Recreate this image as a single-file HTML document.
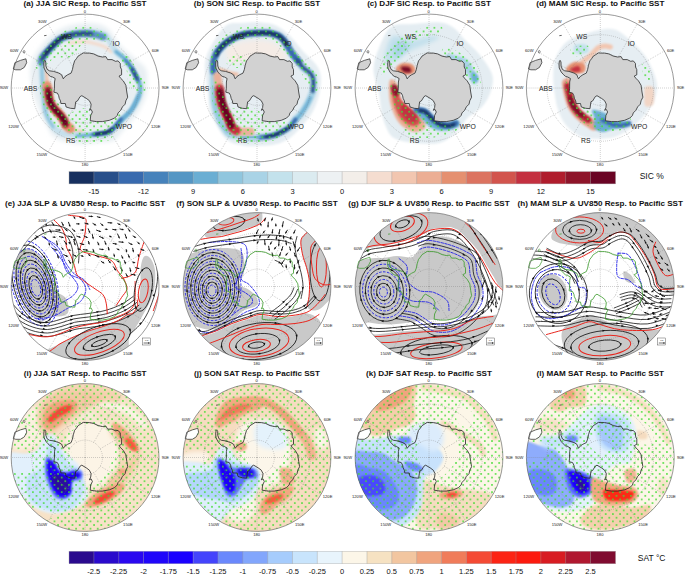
<!DOCTYPE html><html><head><meta charset="utf-8"><style>html,body{margin:0;padding:0;background:#fff;}svg{display:block;font-family:"Liberation Sans",sans-serif;}</style></head><body><svg width="685" height="574" viewBox="0 0 685 574"><defs><clipPath id="cc"><circle r="73.9"/></clipPath><filter id="b1" x="-50%" y="-50%" width="200%" height="200%"><feGaussianBlur stdDeviation="1"/></filter><filter id="b2" x="-50%" y="-50%" width="200%" height="200%"><feGaussianBlur stdDeviation="2"/></filter><filter id="b3" x="-50%" y="-50%" width="200%" height="200%"><feGaussianBlur stdDeviation="3"/></filter><pattern id="dots" patternUnits="userSpaceOnUse" width="7.2" height="7.3"><circle cx="1.8" cy="1.8" r="0.92" fill="#44dd33"/><circle cx="5.4" cy="5.45" r="0.92" fill="#44dd33"/></pattern></defs><g transform="translate(85.1,88.0)"><g clip-path="url(#cc)"><path d="M-5,-64.5 C0.1,-65.1 5.9,-65.4 10.6,-64.5 C15.3,-63.6 19.5,-62.1 23.1,-59.0 C26.8,-55.9 29.4,-49.5 32.5,-45.7 C35.6,-41.9 38.5,-39.4 41.9,-36.3 C45.3,-33.2 49.8,-29.8 52.9,-26.9 C56.0,-24.0 59.2,-22.4 60.8,-19.0 C62.4,-15.6 62.3,-10.9 62.3,-6.5 C62.3,-2.0 62.1,3.0 60.8,7.7 C59.5,12.4 56.9,17.6 54.5,21.8 C52.1,26.0 49.7,28.9 46.6,32.8 C43.5,36.7 38.8,41.9 35.7,45.3 C32.6,48.7 32.0,51.5 27.8,53.1 C23.6,54.7 16.4,54.2 10.6,54.7 C4.8,55.2 -1.2,56.6 -6.7,56.3 C-12.2,56.0 -17.9,54.7 -22.4,53.1 C-26.8,51.5 -30.8,49.5 -33.4,46.9 C-36.0,44.3 -36.3,40.9 -38.1,37.5 C-39.9,34.1 -42.6,30.2 -44.3,26.5 C-46.0,22.8 -46.8,19.7 -48.3,15.5 C-49.8,11.3 -51.9,7.0 -53.0,1.4 C-54.1,-4.2 -55.0,-12.8 -54.8,-18.0 C-54.6,-23.2 -53.8,-26.0 -52.0,-30.0 C-50.2,-34.0 -47.0,-38.2 -44.0,-42.0 C-41.0,-45.8 -38.0,-49.8 -34.0,-53.0 C-30.0,-56.2 -24.8,-59.1 -20.0,-61.0 C-15.2,-62.9 -10.1,-63.9 -5.0,-64.5 Z" fill="#e8eff3" opacity="1" filter="url(#b2)"/><path d="M-15,-45 C-12.6,-45.2 -4.7,-46.6 -0.4,-46.5 C3.9,-46.4 7.2,-45.0 10.6,-44.1 C14.0,-43.2 17.3,-42.3 19.9,-41.0 C22.5,-39.7 25.2,-37.1 26.3,-36.3" fill="none" stroke="#f3ddd0" stroke-width="3.5" stroke-linecap="round" stroke-linejoin="round" opacity="1" filter="url(#b1)"/><path d="M-40,-17.5 C-39.7,-14.9 -38.7,-6.4 -38.0,-2.0 C-37.3,2.4 -36.3,6.8 -36.0,8.6" fill="none" stroke="#f0c4ae" stroke-width="5" stroke-linecap="round" stroke-linejoin="round" opacity="1" filter="url(#b1)"/><path d="M-21,39 C-19.5,39.7 -14.9,42.2 -12.0,43.0 C-9.1,43.8 -5.0,43.6 -3.6,43.7" fill="none" stroke="#f2c9b4" stroke-width="4" stroke-linecap="round" stroke-linejoin="round" opacity="1" filter="url(#b1)"/><path d="M-43,-25 C-41.9,-29.7 -38.8,-32.9 -36.3,-36.4 C-33.8,-39.9 -30.9,-43.6 -27.9,-46.2 C-24.9,-48.9 -22.1,-50.8 -18.2,-52.3 C-14.3,-53.8 -8.9,-55.0 -4.3,-55.5 C0.3,-56.0 5.5,-56.1 9.7,-55.5 C13.9,-54.9 17.3,-55.2 20.8,-52.0 C24.3,-48.8 27.9,-40.0 30.9,-36.3 C33.9,-32.6 36.4,-32.4 38.8,-30.0 C41.2,-27.6 43.3,-24.7 45.1,-22.1 C46.9,-19.5 48.2,-17.2 49.8,-14.3 C51.4,-11.4 53.6,-7.6 54.5,-4.9 C55.4,-2.2 55.6,-0.6 55.3,2.0 C55.0,4.6 54.3,7.5 52.9,10.8 C51.5,14.1 49.0,18.7 46.6,21.8 C44.2,24.9 41.4,27.0 38.8,29.6 C36.2,32.2 33.6,34.9 31.0,37.5 C28.4,40.1 26.5,43.7 23.1,45.3 C19.7,46.9 15.6,46.6 10.6,46.9 C5.6,47.2 -1.2,47.2 -6.7,46.9 C-12.2,46.6 -18.2,46.6 -22.4,45.3 C-26.6,44.0 -28.9,42.6 -31.8,39.0 C-34.7,35.4 -37.8,31.2 -39.6,23.4 C-41.4,15.6 -42.2,0.1 -42.8,-8.0 C-43.4,-16.1 -44.1,-20.3 -43.0,-25.0 Z" fill="none" stroke="#c6e0ec" stroke-width="6" stroke-linecap="round" stroke-linejoin="round" opacity="1" filter="url(#b1)"/><path d="M-31.8,39 C-33.1,36.4 -37.8,31.2 -39.6,23.4 C-41.4,15.6 -42.2,0.1 -42.8,-8.0 C-43.4,-16.1 -43.0,-22.2 -43.0,-25.0" fill="none" stroke="#90c4de" stroke-width="3" stroke-linecap="round" stroke-linejoin="round" opacity="1" filter="url(#b1)"/><path d="M-44,-26 C-43.8,-26.9 -43.8,-29.2 -42.5,-31.2 C-41.2,-33.2 -38.3,-36.0 -36.3,-38.2 C-34.2,-40.4 -32.2,-42.5 -30.2,-44.4 C-28.2,-46.3 -26.3,-48.3 -24.1,-49.6 C-21.9,-50.9 -19.7,-51.5 -17.1,-52.2 C-14.5,-52.9 -11.2,-53.6 -8.3,-54.0 C-5.4,-54.4 -2.5,-54.5 0.4,-54.4 C3.3,-54.3 6.3,-54.2 9.2,-53.6 C12.1,-53.0 16.5,-51.4 18.0,-51.0" fill="none" stroke="#5a92c2" stroke-width="7" stroke-linecap="round" stroke-linejoin="round" opacity="1" filter="url(#b1)"/><path d="M-43,-29 C-41.9,-30.5 -38.4,-35.6 -36.3,-38.2 C-34.2,-40.8 -32.2,-42.5 -30.2,-44.4 C-28.2,-46.3 -26.3,-48.3 -24.1,-49.6 C-21.9,-50.9 -19.7,-51.5 -17.1,-52.2 C-14.5,-52.9 -11.2,-53.6 -8.3,-54.0 C-5.4,-54.4 -2.0,-54.4 0.4,-54.4 C2.8,-54.4 5.1,-54.1 6.0,-54.0" fill="none" stroke="#2a4f86" stroke-width="4" stroke-linecap="round" stroke-linejoin="round" opacity="1" filter="url(#b1)"/><path d="M-40,-34 C-39.4,-34.7 -37.9,-36.5 -36.3,-38.2 C-34.7,-39.9 -32.2,-42.5 -30.2,-44.4 C-28.2,-46.3 -26.3,-48.3 -24.1,-49.6 C-21.9,-50.9 -18.3,-51.8 -17.1,-52.2" fill="none" stroke="#142a55" stroke-width="2.6" stroke-linecap="round" stroke-linejoin="round" opacity="1" filter="url(#b1)"/><path d="M30.9,-36.3 C32.2,-35.2 36.4,-32.4 38.8,-30.0 C41.2,-27.6 43.3,-24.7 45.1,-22.1 C46.9,-19.5 48.2,-17.2 49.8,-14.3 C51.4,-11.4 53.6,-7.6 54.5,-4.9 C55.4,-2.2 55.6,-0.6 55.3,2.0 C55.0,4.6 54.3,7.5 52.9,10.8 C51.5,14.1 49.0,18.7 46.6,21.8 C44.2,24.9 41.4,27.0 38.8,29.6 C36.2,32.2 32.3,36.2 31.0,37.5" fill="none" stroke="#6aaed3" stroke-width="3.5" stroke-linecap="round" stroke-linejoin="round" opacity="1" filter="url(#b1)"/><path d="M40,-28 C40.9,-27.0 43.5,-24.4 45.1,-22.1 C46.7,-19.8 48.5,-16.8 49.8,-14.3 C51.1,-11.8 52.5,-8.2 53.0,-7.0" fill="none" stroke="#4682bb" stroke-width="3" stroke-linecap="round" stroke-linejoin="round" opacity="1" filter="url(#b1)"/><path d="M47,-19 C47.5,-18.0 49.2,-14.7 50.0,-13.0 C50.8,-11.3 51.7,-9.7 52.0,-9.0" fill="none" stroke="#284f8a" stroke-width="3" stroke-linecap="round" stroke-linejoin="round" opacity="1" filter="url(#b1)"/><path d="M53,8 C51.8,10.3 48.4,18.4 46.0,22.0 C43.6,25.6 41.3,27.0 38.8,29.6 C36.3,32.2 33.5,35.1 31.0,37.5 C28.5,39.9 26.9,42.6 23.7,44.0 C20.5,45.4 15.9,45.4 12.0,46.0 C8.1,46.6 3.3,47.2 0.0,47.5 C-3.3,47.8 -6.7,47.8 -8.0,47.8" fill="none" stroke="#6aaed3" stroke-width="3.2" stroke-linecap="round" stroke-linejoin="round" opacity="1" filter="url(#b1)"/><path d="M36,31 C35.2,32.1 33.0,35.4 31.0,37.5 C29.0,39.6 26.5,42.5 24.0,43.8 C21.5,45.1 18.7,45.0 16.0,45.5 C13.3,46.0 9.3,46.3 8.0,46.5" fill="none" stroke="#386aae" stroke-width="3.5" stroke-linecap="round" stroke-linejoin="round" opacity="1" filter="url(#b1)"/><path d="M27,41 C26.2,41.5 24.0,43.4 22.0,44.2 C20.0,45.0 16.8,45.3 15.0,45.6 C13.2,45.9 11.7,46.1 11.0,46.2" fill="none" stroke="#17305f" stroke-width="3" stroke-linecap="round" stroke-linejoin="round" opacity="1" filter="url(#b1)"/><path d="M-38,-2 C-37.8,-0.4 -37.1,4.8 -36.5,7.7 C-35.9,10.6 -35.6,13.2 -34.5,15.5 C-33.4,17.9 -31.6,19.9 -30.0,21.8 C-28.4,23.7 -26.4,25.3 -25.0,27.0 C-23.6,28.7 -22.5,30.3 -21.5,32.0 C-20.5,33.7 -20.1,35.6 -19.0,37.0 C-17.9,38.4 -15.7,39.9 -15.0,40.5" fill="none" stroke="#e59070" stroke-width="9.5" stroke-linecap="round" stroke-linejoin="round" opacity="1" filter="url(#b1)"/><path d="M-37,2 C-36.9,3.0 -36.9,5.5 -36.5,7.7 C-36.1,9.9 -35.6,13.2 -34.5,15.5 C-33.4,17.9 -31.6,19.9 -30.0,21.8 C-28.4,23.7 -26.4,25.3 -25.0,27.0 C-23.6,28.7 -22.4,30.4 -21.5,32.0 C-20.6,33.6 -19.8,35.8 -19.5,36.5" fill="none" stroke="#8e1429" stroke-width="6.5" stroke-linecap="round" stroke-linejoin="round" opacity="1" filter="url(#b1)"/><path d="M-36.5,5 C-36.4,5.6 -36.4,6.9 -36.0,8.7 C-35.6,10.4 -35.1,13.3 -34.0,15.5 C-32.9,17.7 -31.1,19.9 -29.5,21.8 C-27.9,23.7 -25.9,25.3 -24.5,27.0 C-23.1,28.7 -21.8,30.7 -21.0,32.0 C-20.2,33.3 -20.2,34.5 -20.0,35.0" fill="none" stroke="#5e0220" stroke-width="4.2" stroke-linecap="round" stroke-linejoin="round" opacity="1" filter="url(#b1)"/><path d="M-49,-20 C-49.2,-22.3 -48.8,-28.0 -47.0,-32.0 C-45.2,-36.0 -41.7,-40.2 -38.0,-44.0 C-34.3,-47.8 -30.0,-52.2 -25.0,-55.0 C-20.0,-57.8 -13.5,-60.0 -8.0,-61.0 C-2.5,-62.0 3.0,-62.3 8.0,-61.0 C13.0,-59.7 19.3,-55.5 22.0,-53.0 C24.7,-50.5 25.7,-46.8 24.0,-46.0 C22.3,-45.2 16.0,-48.0 12.0,-48.0 C8.0,-48.0 3.2,-47.5 0.0,-46.0 C-3.2,-44.5 -4.7,-41.5 -7.0,-39.0 C-9.3,-36.5 -10.2,-32.5 -14.0,-31.0 C-17.8,-29.5 -25.7,-31.5 -30.0,-30.0 C-34.3,-28.5 -37.3,-24.0 -40.0,-22.0 C-42.7,-20.0 -44.5,-18.3 -46.0,-18.0 C-47.5,-17.7 -48.8,-17.7 -49.0,-20.0 Z" fill="url(#dots)"/><path d="M36,-34 C37.3,-34.8 41.3,-33.7 44.0,-31.0 C46.7,-28.3 49.3,-22.2 52.0,-18.0 C54.7,-13.8 58.7,-9.8 60.0,-6.0 C61.3,-2.2 60.8,3.2 60.0,5.0 C59.2,6.8 57.7,6.2 55.0,5.0 C52.3,3.8 46.2,1.5 44.0,-2.0 C41.8,-5.5 43.3,-12.0 42.0,-16.0 C40.7,-20.0 37.0,-23.0 36.0,-26.0 C35.0,-29.0 34.7,-33.2 36.0,-34.0 Z" fill="url(#dots)"/><path d="M-44,-5 C-42.5,-6.8 -38.3,-8.2 -36.0,-6.0 C-33.7,-3.8 -32.7,2.8 -30.0,8.0 C-27.3,13.2 -23.7,22.7 -20.0,25.0 C-16.3,27.3 -12.0,22.8 -8.0,22.0 C-4.0,21.2 1.0,19.0 4.0,20.0 C7.0,21.0 6.3,26.7 10.0,28.0 C13.7,29.3 22.0,28.7 26.0,28.0 C30.0,27.3 32.0,24.2 34.0,24.0 C36.0,23.8 38.3,24.3 38.0,27.0 C37.7,29.7 34.3,35.8 32.0,40.0 C29.7,44.2 28.5,49.3 24.0,52.0 C19.5,54.7 10.7,55.7 5.0,56.0 C-0.7,56.3 -7.2,55.7 -10.0,54.0 C-12.8,52.3 -10.3,48.0 -12.0,46.0 C-13.7,44.0 -16.7,43.7 -20.0,42.0 C-23.3,40.3 -28.7,39.3 -32.0,36.0 C-35.3,32.7 -37.8,27.2 -40.0,22.0 C-42.2,16.8 -44.3,9.5 -45.0,5.0 C-45.7,0.5 -45.5,-3.2 -44.0,-5.0 Z" fill="url(#dots)"/></g><g stroke="#7a7a7a" stroke-width="0.5" stroke-dasharray="0.7,1.3" fill="none"><circle r="17.4"/><circle r="35.1"/><circle r="53.3"/><line x1="0.0" y1="0.0" x2="0.0" y2="-73.9"/><line x1="8.7" y1="-15.1" x2="36.9" y2="-64.0"/><line x1="15.1" y1="-8.7" x2="64.0" y2="-37.0"/><line x1="0.0" y1="0.0" x2="73.9" y2="-0.0"/><line x1="15.1" y1="8.7" x2="64.0" y2="36.9"/><line x1="8.7" y1="15.1" x2="36.9" y2="64.0"/><line x1="0.0" y1="-0.0" x2="0.0" y2="73.9"/><line x1="-8.7" y1="15.1" x2="-37.0" y2="64.0"/><line x1="-15.1" y1="8.7" x2="-64.0" y2="37.0"/><line x1="-0.0" y1="-0.0" x2="-73.9" y2="0.0"/><line x1="-15.1" y1="-8.7" x2="-64.0" y2="-37.0"/><line x1="-8.7" y1="-15.1" x2="-37.0" y2="-64.0"/></g><path d="M-40.2,-27.7 L-39.3,-26.0 L-39.2,-22.0 L-37.9,-18.6 L-35.6,-17.2 L-31.4,-16.6 L-26.2,-14.9 L-23.5,-13.2 L-21.8,-9.2 L-20.1,-11.4 L-17.5,-13.2 L-14.0,-14.9 L-12.7,-18.4 L-11.8,-22.7 L-10.5,-27.1 L-8.7,-29.3 L-7.0,-31.9 L-4.8,-33.2 L-1.8,-35.1 L0.8,-34.9 L4.3,-34.9 L8.6,-34.1 L13.0,-31.9 L17.3,-31.0 L20.8,-31.4 L22.5,-28.4 L26.9,-28.4 L30.4,-26.7 L33.0,-27.1 L35.2,-24.5 L35.2,-21.0 L36.5,-18.4 L36.5,-13.2 L33.9,-11.9 L35.6,-9.7 L38.2,-7.1 L40.8,-2.7 L41.7,4.0 L42.6,9.2 L40.8,12.7 L40.0,16.2 L37.4,18.8 L35.6,22.3 L33.0,24.9 L32.1,27.5 L29.5,30.1 L24.3,32.3 L17.3,33.6 L11.2,33.6 L5.1,32.7 L5.6,27.5 L7.3,24.0 L6.0,21.4 L4.3,22.3 L5.6,19.6 L6.0,16.2 L4.3,12.7 L1.1,10.3 L-3.3,7.7 L-5.0,8.6 L-7.6,12.9 L-9.4,13.8 L-10.3,20.7 L-14.6,20.3 L-19.0,19.0 L-19.8,15.5 L-24.2,15.5 L-24.6,12.9 L-25.9,10.3 L-26.4,7.7 L-27.7,5.1 L-31.2,4.2 L-30.7,0.7 L-30.6,-6.0 L-29.9,-9.5 L-32.6,-11.0 L-34.9,-11.7 L-37.1,-13.7 L-39.1,-16.0 L-41.1,-20.0 L-41.3,-24.0 L-40.9,-27.0 Z" fill="#d2d2d2" stroke="#222" stroke-width="0.75"/><path d="M-71.8,-19.0 L-70.2,-25.3 L-64.7,-27.6 L-59.2,-29.2 L-58.4,-25.3 L-60.8,-20.6 L-64.7,-18.2 L-69.4,-18.2 Z" fill="#d2d2d2" stroke="#222" stroke-width="0.7"/><g clip-path="url(#cc)"><g font-size="6.8" fill="#222" text-anchor="middle"><text x="-18.5" y="-48.800000000000004">WS</text><text x="31" y="-41.7">IO</text><text x="-54.5" y="2.6">ABS</text><text x="-14.5" y="54.8">RS</text><text x="38.8" y="41.0">WPO</text></g></g><ellipse cx="-61" cy="-36.2" rx="0.9" ry="1.3" fill="none" stroke="#222" stroke-width="0.5"/><line x1="-41" y1="-52.3" x2="-38.6" y2="-52.6" stroke="#222" stroke-width="0.7"/><circle r="73.9" fill="none" stroke="#555" stroke-width="0.6"/><g font-size="4.1" fill="#1a1a1a" text-anchor="middle"><text x="-0.3" y="-75.2">0</text><text x="41.5" y="-65.0">30E</text><text x="70.3" y="-36.5">60E</text><text x="80.3" y="1.2">90E</text><text x="70.6" y="40.1">120E</text><text x="42.8" y="68.0">150E</text><text x="-0.3" y="78.2">180</text><text x="-43.3" y="68.0">150W</text><text x="-71.6" y="40.1">120W</text><text x="-81.2" y="1.2">90W</text><text x="-71.0" y="-36.3">60W</text><text x="-42.8" y="-65.0">30W</text></g></g><text x="85.1" y="5.9" font-size="8.1" font-weight="bold" text-anchor="middle" fill="#111">(a) JJA SIC Resp. to Pacific SST</text><g transform="translate(257.0,88.0)"><g clip-path="url(#cc)"><path d="M-31.3,-62.3 C-26.1,-66.1 -21.1,-64.5 -15.0,-65.0 C-8.9,-65.5 -0.8,-66.0 5.0,-65.5 C10.8,-65.0 15.3,-64.2 20.0,-62.0 C24.7,-59.8 28.8,-56.0 33.0,-52.0 C37.2,-48.0 40.2,-43.6 45.0,-38.0 C49.8,-32.4 59.0,-25.5 62.0,-18.6 C65.0,-11.7 63.8,-3.6 62.8,3.4 C61.8,10.4 58.7,17.9 55.7,23.7 C52.7,29.4 48.6,33.4 44.7,37.9 C40.8,42.4 36.9,47.3 32.2,50.4 C27.5,53.5 23.0,55.4 16.5,56.7 C10.0,58.0 -2.4,58.0 -7.0,58.2 C-11.6,58.4 -8.0,58.5 -11.1,57.9 C-14.2,57.3 -21.4,56.5 -25.3,54.7 C-29.2,52.9 -32.1,50.0 -34.7,46.9 C-37.3,43.8 -38.8,39.8 -40.9,35.9 C-43.0,32.0 -45.9,28.1 -47.2,23.4 C-48.5,18.7 -48.2,13.3 -48.8,7.7 C-49.4,2.1 -50.5,-4.5 -51.0,-10.0 C-51.5,-15.4 -52.8,-19.7 -52.0,-25.0 C-51.2,-30.3 -49.5,-35.8 -46.0,-42.0 C-42.5,-48.2 -36.5,-58.5 -31.3,-62.3 Z" fill="#e6eef3" opacity="1" filter="url(#b1)"/><path d="M-30,-40 C-27.5,-43.7 -17.5,-46.0 -10.0,-47.0 C-2.5,-48.0 8.3,-48.5 15.0,-46.0 C21.7,-43.5 29.2,-35.5 30.0,-32.0 C30.8,-28.5 25.0,-25.3 20.0,-25.0 C15.0,-24.7 7.5,-30.0 0.0,-30.0 C-7.5,-30.0 -20.0,-23.3 -25.0,-25.0 C-30.0,-26.7 -32.5,-36.3 -30.0,-40.0 Z" fill="#f5ece6" opacity="1" filter="url(#b2)"/><path d="M-37.6,-18.4 C-36.0,-17.8 -30.9,-15.8 -28.0,-15.0 C-25.1,-14.2 -21.6,-13.9 -20.3,-13.7" fill="none" stroke="#efc2ac" stroke-width="4" stroke-linecap="round" stroke-linejoin="round" opacity="1" filter="url(#b1)"/><path d="M-37.6,-38.5 C-36.0,-40.4 -33.6,-43.1 -31.3,-45.0 C-28.9,-46.9 -26.4,-48.4 -23.5,-49.8 C-20.6,-51.2 -17.6,-52.6 -13.6,-53.5 C-9.6,-54.4 -3.9,-54.8 0.4,-55.0 C4.7,-55.2 8.5,-55.5 12.0,-55.0 C15.5,-54.5 19.0,-53.5 21.4,-52.3 C23.8,-51.1 25.0,-49.7 26.5,-48.0 C28.0,-46.3 29.0,-44.3 30.5,-42.0 C32.0,-39.7 33.5,-36.8 35.4,-34.1 C37.3,-31.4 40.2,-28.3 42.0,-26.0 C43.8,-23.7 44.5,-21.9 46.3,-20.2 C48.1,-18.4 51.0,-17.1 52.6,-15.5 C54.2,-13.9 55.1,-12.6 55.7,-10.8 C56.4,-9.0 56.5,-6.9 56.5,-4.5 C56.5,-2.1 56.2,1.0 55.7,3.4 C55.2,5.8 54.5,7.2 53.4,9.6 C52.3,11.9 51.1,14.6 49.4,17.5 C47.7,20.4 45.0,24.5 43.2,26.9 C41.4,29.2 40.3,29.5 38.5,31.6 C36.7,33.7 34.6,37.3 32.2,39.4 C29.9,41.5 27.0,42.8 24.4,44.1 C21.8,45.4 19.1,46.5 16.5,47.3 C13.9,48.1 11.3,48.4 8.7,48.8 C6.1,49.2 3.4,49.5 0.8,49.6 C-1.8,49.7 -5.0,49.8 -7.0,49.6 C-9.0,49.4 -8.0,48.9 -11.1,48.4 C-14.2,47.9 -22.2,47.7 -25.3,46.9 C-28.4,46.1 -27.9,46.3 -30.0,43.7 C-32.1,41.1 -35.7,35.9 -37.8,31.2 C-39.9,26.5 -41.6,20.7 -42.5,15.5 C-43.4,10.3 -43.1,5.2 -43.3,-0.2 C-43.5,-5.6 -43.5,-12.6 -43.6,-16.6 C-43.7,-20.7 -44.0,-21.6 -43.6,-24.5 C-43.2,-27.4 -42.2,-31.6 -41.2,-33.9 C-40.2,-36.2 -39.2,-36.6 -37.6,-38.5 Z" fill="none" stroke="#a9d3e6" stroke-width="7" stroke-linecap="round" stroke-linejoin="round" opacity="1" filter="url(#b1)"/><path d="M-43.6,-16.6 C-43.6,-17.9 -44.0,-21.6 -43.6,-24.5 C-43.2,-27.4 -42.2,-31.6 -41.2,-33.9 C-40.2,-36.2 -39.2,-36.6 -37.6,-38.5 C-36.0,-40.4 -33.6,-43.1 -31.3,-45.0 C-28.9,-46.9 -26.4,-48.4 -23.5,-49.8 C-20.6,-51.2 -17.6,-52.6 -13.6,-53.5 C-9.6,-54.4 -3.9,-54.8 0.4,-55.0 C4.7,-55.2 8.5,-55.5 12.0,-55.0 C15.5,-54.5 19.0,-53.5 21.4,-52.3 C23.8,-51.1 25.0,-49.7 26.5,-48.0 C28.0,-46.3 29.0,-44.3 30.5,-42.0 C32.0,-39.7 33.5,-36.8 35.4,-34.1 C37.3,-31.4 40.9,-27.4 42.0,-26.0" fill="none" stroke="#386aae" stroke-width="6" stroke-linecap="round" stroke-linejoin="round" opacity="1" filter="url(#b1)"/><path d="M-40,-33 C-39.6,-33.9 -39.1,-36.5 -37.6,-38.5 C-36.1,-40.5 -33.6,-43.1 -31.3,-45.0 C-28.9,-46.9 -26.4,-48.4 -23.5,-49.8 C-20.6,-51.2 -17.6,-52.6 -13.6,-53.5 C-9.6,-54.4 -3.9,-54.8 0.4,-55.0 C4.7,-55.2 8.5,-55.5 12.0,-55.0 C15.5,-54.5 19.0,-53.5 21.4,-52.3 C23.8,-51.1 25.1,-49.4 26.5,-48.0 C27.9,-46.6 29.0,-44.7 29.5,-44.0" fill="none" stroke="#17305f" stroke-width="3.6" stroke-linecap="round" stroke-linejoin="round" opacity="1" filter="url(#b1)"/><path d="M40,-28 C41.0,-26.7 44.2,-22.3 46.3,-20.2 C48.4,-18.1 51.0,-17.1 52.6,-15.5 C54.2,-13.9 55.1,-12.6 55.7,-10.8 C56.4,-9.0 56.5,-6.9 56.5,-4.5 C56.5,-2.1 55.8,2.1 55.7,3.4" fill="none" stroke="#284f8a" stroke-width="3.5" stroke-linecap="round" stroke-linejoin="round" opacity="1" filter="url(#b1)"/><path d="M53.4,9.6 C52.7,10.9 51.1,14.6 49.4,17.5 C47.7,20.4 45.0,24.5 43.2,26.9 C41.4,29.2 39.3,30.8 38.5,31.6" fill="none" stroke="#6aaed3" stroke-width="3" stroke-linecap="round" stroke-linejoin="round" opacity="1" filter="url(#b1)"/><path d="M38.5,31.6 C37.5,32.9 34.6,37.3 32.2,39.4 C29.9,41.5 27.0,42.8 24.4,44.1 C21.8,45.4 19.1,46.5 16.5,47.3 C13.9,48.1 10.9,48.4 8.7,48.8 C6.4,49.1 3.9,49.3 3.0,49.4" fill="none" stroke="#386aae" stroke-width="4" stroke-linecap="round" stroke-linejoin="round" opacity="1" filter="url(#b1)"/><path d="M3,49.4 C1.3,49.4 -4.0,49.7 -7.0,49.6 C-10.0,49.5 -13.7,49.1 -15.0,49.0" fill="none" stroke="#6aaed3" stroke-width="3" stroke-linecap="round" stroke-linejoin="round" opacity="1" filter="url(#b1)"/><path d="M30,40.5 C29.1,41.1 26.6,43.0 24.4,44.1 C22.1,45.2 19.1,46.5 16.5,47.3 C13.9,48.1 10.0,48.5 8.7,48.8" fill="none" stroke="#17305f" stroke-width="2.6" stroke-linecap="round" stroke-linejoin="round" opacity="1" filter="url(#b1)"/><path d="M-43.3,-0.2 C-43.2,2.4 -43.4,10.3 -42.5,15.5 C-41.6,20.7 -39.9,26.5 -37.8,31.2 C-35.7,35.9 -31.3,41.6 -30.0,43.7" fill="none" stroke="#90c6de" stroke-width="2.5" stroke-linecap="round" stroke-linejoin="round" opacity="1" filter="url(#b1)"/><path d="M-39.7,-11.9 C-39.4,-9.9 -38.2,-3.5 -37.8,-0.2 C-37.3,3.1 -37.4,5.1 -37.0,7.7 C-36.6,10.3 -36.3,12.9 -35.5,15.5 C-34.7,18.1 -33.5,20.8 -32.3,23.4 C-31.1,26.0 -29.6,28.6 -28.4,31.2 C-27.2,33.8 -26.6,37.0 -25.3,39.0 C-24.0,41.0 -22.4,42.2 -20.6,43.0 C-18.8,43.8 -16.7,43.6 -14.3,43.7 C-11.9,43.8 -7.7,43.7 -6.4,43.7" fill="none" stroke="#eab09a" stroke-width="8" stroke-linecap="round" stroke-linejoin="round" opacity="1" filter="url(#b1)"/><path d="M-37.5,1 C-37.4,2.1 -37.3,5.3 -37.0,7.7 C-36.7,10.1 -36.3,12.9 -35.5,15.5 C-34.7,18.1 -33.5,20.8 -32.3,23.4 C-31.1,26.0 -29.6,28.6 -28.4,31.2 C-27.2,33.8 -26.5,37.1 -25.3,39.0 C-24.1,40.9 -21.7,41.9 -21.0,42.5" fill="none" stroke="#c43040" stroke-width="9" stroke-linecap="round" stroke-linejoin="round" opacity="1" filter="url(#b1)"/><path d="M-36.8,4 C-36.7,4.8 -36.4,7.1 -36.0,9.0 C-35.6,10.9 -35.2,13.1 -34.5,15.5 C-33.8,17.9 -32.5,20.8 -31.5,23.4 C-30.5,26.0 -29.3,28.6 -28.4,31.0 C-27.4,33.4 -26.2,36.4 -25.8,37.5" fill="none" stroke="#6a0424" stroke-width="6.5" stroke-linecap="round" stroke-linejoin="round" opacity="1" filter="url(#b1)"/><path d="M-46,-36 C-44.7,-39.3 -42.7,-41.0 -40.0,-44.0 C-37.3,-47.0 -34.2,-51.2 -30.0,-54.0 C-25.8,-56.8 -20.0,-59.7 -15.0,-61.0 C-10.0,-62.3 -5.2,-62.0 0.0,-62.0 C5.2,-62.0 11.7,-62.7 16.0,-61.0 C20.3,-59.3 23.3,-54.8 26.0,-52.0 C28.7,-49.2 29.7,-46.7 32.0,-44.0 C34.3,-41.3 37.3,-38.7 40.0,-36.0 C42.7,-33.3 45.0,-31.0 48.0,-28.0 C51.0,-25.0 55.7,-22.3 58.0,-18.0 C60.3,-13.7 62.0,-5.7 62.0,-2.0 C62.0,1.7 60.0,4.3 58.0,4.0 C56.0,3.7 52.3,-0.7 50.0,-4.0 C47.7,-7.3 46.3,-12.3 44.0,-16.0 C41.7,-19.7 39.0,-22.3 36.0,-26.0 C33.0,-29.7 29.0,-34.7 26.0,-38.0 C23.0,-41.3 22.3,-44.0 18.0,-46.0 C13.7,-48.0 6.0,-49.8 0.0,-50.0 C-6.0,-50.2 -13.0,-48.7 -18.0,-47.0 C-23.0,-45.3 -26.3,-42.8 -30.0,-40.0 C-33.7,-37.2 -38.3,-33.7 -40.0,-30.0 C-41.7,-26.3 -39.0,-21.3 -40.0,-18.0 C-41.0,-14.7 -44.7,-9.0 -46.0,-10.0 C-47.3,-11.0 -48.0,-19.7 -48.0,-24.0 C-48.0,-28.3 -47.3,-32.7 -46.0,-36.0 Z" fill="url(#dots)"/><path d="M-44,-6 C-43.0,-10.3 -39.8,-8.3 -38.0,-6.0 C-36.2,-3.7 -35.0,3.7 -33.0,8.0 C-31.0,12.3 -29.8,18.3 -26.0,20.0 C-22.2,21.7 -14.3,17.7 -10.0,18.0 C-5.7,18.3 -3.7,20.0 0.0,22.0 C3.7,24.0 8.0,28.0 12.0,30.0 C16.0,32.0 20.7,33.7 24.0,34.0 C27.3,34.3 30.0,31.3 32.0,32.0 C34.0,32.7 36.7,35.7 36.0,38.0 C35.3,40.3 31.0,43.7 28.0,46.0 C25.0,48.3 22.7,50.3 18.0,52.0 C13.3,53.7 6.3,55.7 0.0,56.0 C-6.3,56.3 -15.0,55.3 -20.0,54.0 C-25.0,52.7 -27.0,51.0 -30.0,48.0 C-33.0,45.0 -35.7,40.7 -38.0,36.0 C-40.3,31.3 -43.0,27.0 -44.0,20.0 C-45.0,13.0 -45.0,-1.7 -44.0,-6.0 Z" fill="url(#dots)"/><path d="M-30,-30 C-28.0,-31.7 -21.3,-34.7 -18.0,-34.0 C-14.7,-33.3 -9.7,-28.3 -10.0,-26.0 C-10.3,-23.7 -16.7,-20.3 -20.0,-20.0 C-23.3,-19.7 -28.3,-22.3 -30.0,-24.0 C-31.7,-25.7 -32.0,-28.3 -30.0,-30.0 Z" fill="url(#dots)"/></g><g stroke="#7a7a7a" stroke-width="0.5" stroke-dasharray="0.7,1.3" fill="none"><circle r="17.4"/><circle r="35.1"/><circle r="53.3"/><line x1="0.0" y1="0.0" x2="0.0" y2="-73.9"/><line x1="8.7" y1="-15.1" x2="36.9" y2="-64.0"/><line x1="15.1" y1="-8.7" x2="64.0" y2="-37.0"/><line x1="0.0" y1="0.0" x2="73.9" y2="-0.0"/><line x1="15.1" y1="8.7" x2="64.0" y2="36.9"/><line x1="8.7" y1="15.1" x2="36.9" y2="64.0"/><line x1="0.0" y1="-0.0" x2="0.0" y2="73.9"/><line x1="-8.7" y1="15.1" x2="-37.0" y2="64.0"/><line x1="-15.1" y1="8.7" x2="-64.0" y2="37.0"/><line x1="-0.0" y1="-0.0" x2="-73.9" y2="0.0"/><line x1="-15.1" y1="-8.7" x2="-64.0" y2="-37.0"/><line x1="-8.7" y1="-15.1" x2="-37.0" y2="-64.0"/></g><path d="M-40.2,-27.7 L-39.3,-26.0 L-39.2,-22.0 L-37.9,-18.6 L-35.6,-17.2 L-31.4,-16.6 L-26.2,-14.9 L-23.5,-13.2 L-21.8,-9.2 L-20.1,-11.4 L-17.5,-13.2 L-14.0,-14.9 L-12.7,-18.4 L-11.8,-22.7 L-10.5,-27.1 L-8.7,-29.3 L-7.0,-31.9 L-4.8,-33.2 L-1.8,-35.1 L0.8,-34.9 L4.3,-34.9 L8.6,-34.1 L13.0,-31.9 L17.3,-31.0 L20.8,-31.4 L22.5,-28.4 L26.9,-28.4 L30.4,-26.7 L33.0,-27.1 L35.2,-24.5 L35.2,-21.0 L36.5,-18.4 L36.5,-13.2 L33.9,-11.9 L35.6,-9.7 L38.2,-7.1 L40.8,-2.7 L41.7,4.0 L42.6,9.2 L40.8,12.7 L40.0,16.2 L37.4,18.8 L35.6,22.3 L33.0,24.9 L32.1,27.5 L29.5,30.1 L24.3,32.3 L17.3,33.6 L11.2,33.6 L5.1,32.7 L5.6,27.5 L7.3,24.0 L6.0,21.4 L4.3,22.3 L5.6,19.6 L6.0,16.2 L4.3,12.7 L1.1,10.3 L-3.3,7.7 L-5.0,8.6 L-7.6,12.9 L-9.4,13.8 L-10.3,20.7 L-14.6,20.3 L-19.0,19.0 L-19.8,15.5 L-24.2,15.5 L-24.6,12.9 L-25.9,10.3 L-26.4,7.7 L-27.7,5.1 L-31.2,4.2 L-30.7,0.7 L-30.6,-6.0 L-29.9,-9.5 L-32.6,-11.0 L-34.9,-11.7 L-37.1,-13.7 L-39.1,-16.0 L-41.1,-20.0 L-41.3,-24.0 L-40.9,-27.0 Z" fill="#d2d2d2" stroke="#222" stroke-width="0.75"/><path d="M-71.8,-19.0 L-70.2,-25.3 L-64.7,-27.6 L-59.2,-29.2 L-58.4,-25.3 L-60.8,-20.6 L-64.7,-18.2 L-69.4,-18.2 Z" fill="#d2d2d2" stroke="#222" stroke-width="0.7"/><g clip-path="url(#cc)"><g font-size="6.8" fill="#222" text-anchor="middle"><text x="-18.5" y="-48.800000000000004">WS</text><text x="31" y="-41.7">IO</text><text x="-54.5" y="2.6">ABS</text><text x="-14.5" y="54.8">RS</text><text x="38.8" y="41.0">WPO</text></g></g><ellipse cx="-61" cy="-36.2" rx="0.9" ry="1.3" fill="none" stroke="#222" stroke-width="0.5"/><line x1="-41" y1="-52.3" x2="-38.6" y2="-52.6" stroke="#222" stroke-width="0.7"/><circle r="73.9" fill="none" stroke="#555" stroke-width="0.6"/><g font-size="4.1" fill="#1a1a1a" text-anchor="middle"><text x="-0.3" y="-75.2">0</text><text x="41.5" y="-65.0">30E</text><text x="70.3" y="-36.5">60E</text><text x="80.3" y="1.2">90E</text><text x="70.6" y="40.1">120E</text><text x="42.8" y="68.0">150E</text><text x="-0.3" y="78.2">180</text><text x="-43.3" y="68.0">150W</text><text x="-71.6" y="40.1">120W</text><text x="-81.2" y="1.2">90W</text><text x="-71.0" y="-36.3">60W</text><text x="-42.8" y="-65.0">30W</text></g></g><text x="257.0" y="5.9" font-size="8.1" font-weight="bold" text-anchor="middle" fill="#111">(b) SON SIC Resp. to Pacific SST</text><g transform="translate(429.0,88.0)"><g clip-path="url(#cc)"><path d="M-38.2,-60.8 C-32.6,-64.8 -24.5,-63.1 -16.3,-63.9 C-8.1,-64.7 4.1,-66.2 11.0,-65.5 C17.9,-64.8 20.8,-62.9 25.0,-60.0 C29.2,-57.1 31.8,-52.3 36.0,-48.0 C40.2,-43.7 45.5,-39.8 50.0,-34.0 C54.5,-28.2 61.2,-19.8 63.1,-13.5 C65.0,-7.2 63.2,-1.5 61.6,3.7 C60.0,8.9 57.6,13.4 53.7,17.9 C49.8,22.3 42.0,26.4 38.0,30.4 C34.0,34.4 34.5,38.0 30.0,42.0 C25.5,46.0 18.7,52.6 11.0,54.7 C3.3,56.8 -8.6,55.5 -16.3,54.7 C-24.0,53.9 -30.7,52.6 -35.1,50.0 C-39.5,47.4 -40.8,43.4 -42.9,39.0 C-45.0,34.6 -46.4,29.1 -47.6,23.4 C-48.8,17.7 -48.7,12.0 -50.0,5.0 C-51.3,-2.0 -55.5,-10.9 -55.5,-18.4 C-55.5,-25.9 -52.9,-32.9 -50.0,-40.0 C-47.1,-47.1 -43.8,-56.8 -38.2,-60.8 Z" fill="#e4edf2" opacity="1" filter="url(#b1)"/><path d="M-36,-52 C-31.3,-54.3 -22.3,-48.0 -16.0,-48.0 C-9.7,-48.0 -2.3,-51.7 2.0,-52.0 C6.3,-52.3 11.2,-51.5 10.0,-50.0 C8.8,-48.5 0.3,-45.3 -5.0,-43.0 C-10.3,-40.7 -17.5,-38.5 -22.0,-36.0 C-26.5,-33.5 -28.7,-30.0 -32.0,-28.0 C-35.3,-26.0 -40.0,-23.0 -42.0,-24.0 C-44.0,-25.0 -45.0,-29.3 -44.0,-34.0 C-43.0,-38.7 -40.7,-49.7 -36.0,-52.0 Z" fill="#c3e0ec" opacity="1" filter="url(#b2)"/><path d="M-34,-44 C-31.7,-46.3 -21.7,-45.3 -20.0,-44.0 C-18.3,-42.7 -21.7,-38.3 -24.0,-36.0 C-26.3,-33.7 -32.3,-28.7 -34.0,-30.0 C-35.7,-31.3 -36.3,-41.7 -34.0,-44.0 Z" fill="#a9d3e6" opacity="1" filter="url(#b2)"/><path d="M19.2,-33.9 C22.3,-33.9 32.4,-31.5 36.5,-29.2 C40.6,-26.9 41.9,-23.5 44.0,-20.0 C46.1,-16.5 49.0,-10.7 49.0,-8.0 C49.0,-5.3 45.8,-3.0 44.0,-4.0 C42.2,-5.0 40.3,-10.7 38.0,-14.0 C35.7,-17.3 33.3,-21.5 30.0,-24.0 C26.7,-26.5 19.8,-27.4 18.0,-29.0 C16.2,-30.6 16.1,-33.9 19.2,-33.9 Z" fill="#a9d3e6" opacity="1" filter="url(#b1)"/><path d="M43,-16 C44.0,-16.7 48.2,-13.7 49.0,-12.0 C49.8,-10.3 49.0,-6.7 48.0,-6.0 C47.0,-5.3 43.8,-6.3 43.0,-8.0 C42.2,-9.7 42.0,-15.3 43.0,-16.0 Z" fill="#6aaed3" opacity="1" filter="url(#b1)"/><path d="M-33,-20 C-32.3,-21.8 -28.8,-24.5 -26.0,-25.0 C-23.2,-25.5 -18.0,-24.5 -16.0,-23.0 C-14.0,-21.5 -13.0,-17.7 -14.0,-16.0 C-15.0,-14.3 -19.3,-13.3 -22.0,-13.0 C-24.7,-12.7 -28.2,-12.8 -30.0,-14.0 C-31.8,-15.2 -33.7,-18.2 -33.0,-20.0 Z" fill="#e59070" opacity="1" filter="url(#b1)"/><path d="M-28,-21 C-27.2,-21.8 -21.7,-21.8 -20.0,-21.0 C-18.3,-20.2 -17.2,-16.8 -18.0,-16.0 C-18.8,-15.2 -23.3,-15.2 -25.0,-16.0 C-26.7,-16.8 -28.8,-20.2 -28.0,-21.0 Z" fill="#7a0a26" opacity="1" filter="url(#b1)"/><path d="M-39,-8 C-37.8,-9.8 -34.5,-8.2 -33.0,-6.0 C-31.5,-3.8 -31.2,1.7 -30.0,5.0 C-28.8,8.3 -28.3,11.2 -26.0,14.0 C-23.7,16.8 -19.3,19.3 -16.0,22.0 C-12.7,24.7 -8.0,27.0 -6.0,30.0 C-4.0,33.0 -2.7,37.7 -4.0,40.0 C-5.3,42.3 -10.7,44.0 -14.0,44.0 C-17.3,44.0 -21.0,42.0 -24.0,40.0 C-27.0,38.0 -29.7,35.7 -32.0,32.0 C-34.3,28.3 -36.7,22.5 -38.0,18.0 C-39.3,13.5 -39.8,9.3 -40.0,5.0 C-40.2,0.7 -40.2,-6.2 -39.0,-8.0 Z" fill="#ecae94" opacity="1" filter="url(#b1)"/><path d="M-37,-2 C-36.2,-2.7 -33.3,-2.0 -32.0,0.0 C-30.7,2.0 -30.7,7.0 -29.0,10.0 C-27.3,13.0 -24.8,15.3 -22.0,18.0 C-19.2,20.7 -14.2,23.3 -12.0,26.0 C-9.8,28.7 -8.7,32.0 -9.0,34.0 C-9.3,36.0 -11.8,37.7 -14.0,38.0 C-16.2,38.3 -19.3,37.7 -22.0,36.0 C-24.7,34.3 -27.8,31.3 -30.0,28.0 C-32.2,24.7 -33.8,20.0 -35.0,16.0 C-36.2,12.0 -36.7,7.0 -37.0,4.0 C-37.3,1.0 -37.8,-1.3 -37.0,-2.0 Z" fill="#d2544d" opacity="1" filter="url(#b1)"/><path d="M-26,16 C-24.3,15.7 -20.3,20.0 -18.0,22.0 C-15.7,24.0 -12.7,26.0 -12.0,28.0 C-11.3,30.0 -12.3,33.3 -14.0,34.0 C-15.7,34.7 -19.7,33.7 -22.0,32.0 C-24.3,30.3 -27.3,26.7 -28.0,24.0 C-28.7,21.3 -27.7,16.3 -26.0,16.0 Z" fill="#c43040" opacity="1" filter="url(#b1)"/><path d="M-37,-3 C-36.2,-4.0 -33.2,-3.5 -32.0,-2.0 C-30.8,-0.5 -29.7,4.3 -30.0,6.0 C-30.3,7.7 -32.8,8.3 -34.0,8.0 C-35.2,7.7 -36.5,5.8 -37.0,4.0 C-37.5,2.2 -37.8,-2.0 -37.0,-3.0 Z" fill="#8e1429" opacity="1" filter="url(#b1)"/><path d="M-14,20 C-12.7,19.2 -7.0,19.7 -4.0,21.0 C-1.0,22.3 1.3,26.0 4.0,28.0 C6.7,30.0 9.3,32.0 12.0,33.0 C14.7,34.0 17.3,34.2 20.0,34.0 C22.7,33.8 26.3,31.3 28.0,32.0 C29.7,32.7 31.3,36.3 30.0,38.0 C28.7,39.7 23.7,41.3 20.0,42.0 C16.3,42.7 11.3,42.7 8.0,42.0 C4.7,41.3 2.3,39.7 0.0,38.0 C-2.3,36.3 -4.0,34.0 -6.0,32.0 C-8.0,30.0 -10.7,28.0 -12.0,26.0 C-13.3,24.0 -15.3,20.8 -14.0,20.0 Z" fill="#6aaed3" opacity="1" filter="url(#b1)"/><path d="M-13,21.8 C-11.4,22.1 -6.6,21.8 -3.7,23.4 C-0.9,25.0 1.6,29.1 4.1,31.2 C6.5,33.3 8.5,34.9 11.0,35.9 C13.5,36.9 16.5,37.6 19.2,37.5 C21.9,37.4 25.8,35.5 27.1,35.1" fill="none" stroke="#386aae" stroke-width="5" stroke-linecap="round" stroke-linejoin="round" opacity="1" filter="url(#b1)"/><path d="M-9,22.5 C-8.1,22.8 -5.9,22.4 -3.7,24.0 C-1.5,25.6 1.6,29.7 4.1,31.8 C6.5,33.9 8.5,35.5 11.0,36.5 C13.5,37.5 16.9,38.0 19.2,38.0 C21.5,38.0 24.0,36.8 25.0,36.5" fill="none" stroke="#17305f" stroke-width="3" stroke-linecap="round" stroke-linejoin="round" opacity="1" filter="url(#b1)"/><path d="M-48,-24 C-47.0,-27.7 -44.7,-32.0 -42.0,-36.0 C-39.3,-40.0 -36.3,-44.7 -32.0,-48.0 C-27.7,-51.3 -21.3,-53.7 -16.0,-56.0 C-10.7,-58.3 -4.7,-61.0 0.0,-62.0 C4.7,-63.0 10.0,-63.0 12.0,-62.0 C14.0,-61.0 14.0,-57.7 12.0,-56.0 C10.0,-54.3 4.7,-53.7 0.0,-52.0 C-4.7,-50.3 -11.3,-49.7 -16.0,-46.0 C-20.7,-42.3 -24.7,-34.0 -28.0,-30.0 C-31.3,-26.0 -33.3,-24.7 -36.0,-22.0 C-38.7,-19.3 -42.0,-15.3 -44.0,-14.0 C-46.0,-12.7 -47.3,-12.3 -48.0,-14.0 C-48.7,-15.7 -49.0,-20.3 -48.0,-24.0 Z" fill="url(#dots)"/><path d="M14,-40 C16.3,-41.0 25.7,-38.0 30.0,-36.0 C34.3,-34.0 37.0,-31.0 40.0,-28.0 C43.0,-25.0 46.0,-21.7 48.0,-18.0 C50.0,-14.3 52.7,-8.7 52.0,-6.0 C51.3,-3.3 46.3,-1.3 44.0,-2.0 C41.7,-2.7 40.3,-6.7 38.0,-10.0 C35.7,-13.3 33.7,-18.7 30.0,-22.0 C26.3,-25.3 18.7,-27.0 16.0,-30.0 C13.3,-33.0 11.7,-39.0 14.0,-40.0 Z" fill="url(#dots)"/><path d="M-38,-4 C-36.7,-5.7 -31.7,-4.3 -30.0,-2.0 C-28.3,0.3 -29.7,6.3 -28.0,10.0 C-26.3,13.7 -23.7,17.7 -20.0,20.0 C-16.3,22.3 -10.3,22.0 -6.0,24.0 C-1.7,26.0 1.7,29.7 6.0,32.0 C10.3,34.3 16.0,36.7 20.0,38.0 C24.0,39.3 30.0,38.7 30.0,40.0 C30.0,41.3 25.0,44.3 20.0,46.0 C15.0,47.7 6.7,49.7 0.0,50.0 C-6.7,50.3 -15.7,50.3 -20.0,48.0 C-24.3,45.7 -23.7,40.7 -26.0,36.0 C-28.3,31.3 -32.0,24.7 -34.0,20.0 C-36.0,15.3 -37.3,12.0 -38.0,8.0 C-38.7,4.0 -39.3,-2.3 -38.0,-4.0 Z" fill="url(#dots)"/></g><g stroke="#7a7a7a" stroke-width="0.5" stroke-dasharray="0.7,1.3" fill="none"><circle r="17.4"/><circle r="35.1"/><circle r="53.3"/><line x1="0.0" y1="0.0" x2="0.0" y2="-73.9"/><line x1="8.7" y1="-15.1" x2="36.9" y2="-64.0"/><line x1="15.1" y1="-8.7" x2="64.0" y2="-37.0"/><line x1="0.0" y1="0.0" x2="73.9" y2="-0.0"/><line x1="15.1" y1="8.7" x2="64.0" y2="36.9"/><line x1="8.7" y1="15.1" x2="36.9" y2="64.0"/><line x1="0.0" y1="-0.0" x2="0.0" y2="73.9"/><line x1="-8.7" y1="15.1" x2="-37.0" y2="64.0"/><line x1="-15.1" y1="8.7" x2="-64.0" y2="37.0"/><line x1="-0.0" y1="-0.0" x2="-73.9" y2="0.0"/><line x1="-15.1" y1="-8.7" x2="-64.0" y2="-37.0"/><line x1="-8.7" y1="-15.1" x2="-37.0" y2="-64.0"/></g><path d="M-40.2,-27.7 L-39.3,-26.0 L-39.2,-22.0 L-37.9,-18.6 L-35.6,-17.2 L-31.4,-16.6 L-26.2,-14.9 L-23.5,-13.2 L-21.8,-9.2 L-20.1,-11.4 L-17.5,-13.2 L-14.0,-14.9 L-12.7,-18.4 L-11.8,-22.7 L-10.5,-27.1 L-8.7,-29.3 L-7.0,-31.9 L-4.8,-33.2 L-1.8,-35.1 L0.8,-34.9 L4.3,-34.9 L8.6,-34.1 L13.0,-31.9 L17.3,-31.0 L20.8,-31.4 L22.5,-28.4 L26.9,-28.4 L30.4,-26.7 L33.0,-27.1 L35.2,-24.5 L35.2,-21.0 L36.5,-18.4 L36.5,-13.2 L33.9,-11.9 L35.6,-9.7 L38.2,-7.1 L40.8,-2.7 L41.7,4.0 L42.6,9.2 L40.8,12.7 L40.0,16.2 L37.4,18.8 L35.6,22.3 L33.0,24.9 L32.1,27.5 L29.5,30.1 L24.3,32.3 L17.3,33.6 L11.2,33.6 L5.1,32.7 L5.6,27.5 L7.3,24.0 L6.0,21.4 L4.3,22.3 L5.6,19.6 L6.0,16.2 L4.3,12.7 L1.1,10.3 L-3.3,7.7 L-5.0,8.6 L-7.6,12.9 L-9.4,13.8 L-10.3,20.7 L-14.6,20.3 L-19.0,19.0 L-19.8,15.5 L-24.2,15.5 L-24.6,12.9 L-25.9,10.3 L-26.4,7.7 L-27.7,5.1 L-31.2,4.2 L-30.7,0.7 L-30.6,-6.0 L-29.9,-9.5 L-32.6,-11.0 L-34.9,-11.7 L-37.1,-13.7 L-39.1,-16.0 L-41.1,-20.0 L-41.3,-24.0 L-40.9,-27.0 Z" fill="#d2d2d2" stroke="#222" stroke-width="0.75"/><path d="M-71.8,-19.0 L-70.2,-25.3 L-64.7,-27.6 L-59.2,-29.2 L-58.4,-25.3 L-60.8,-20.6 L-64.7,-18.2 L-69.4,-18.2 Z" fill="#d2d2d2" stroke="#222" stroke-width="0.7"/><g clip-path="url(#cc)"><g font-size="6.8" fill="#222" text-anchor="middle"><text x="-18.5" y="-48.800000000000004">WS</text><text x="31" y="-41.7">IO</text><text x="-54.5" y="2.6">ABS</text><text x="-14.5" y="54.8">RS</text><text x="38.8" y="41.0">WPO</text></g></g><ellipse cx="-61" cy="-36.2" rx="0.9" ry="1.3" fill="none" stroke="#222" stroke-width="0.5"/><line x1="-41" y1="-52.3" x2="-38.6" y2="-52.6" stroke="#222" stroke-width="0.7"/><circle r="73.9" fill="none" stroke="#555" stroke-width="0.6"/><g font-size="4.1" fill="#1a1a1a" text-anchor="middle"><text x="-0.3" y="-75.2">0</text><text x="41.5" y="-65.0">30E</text><text x="70.3" y="-36.5">60E</text><text x="80.3" y="1.2">90E</text><text x="70.6" y="40.1">120E</text><text x="42.8" y="68.0">150E</text><text x="-0.3" y="78.2">180</text><text x="-43.3" y="68.0">150W</text><text x="-71.6" y="40.1">120W</text><text x="-81.2" y="1.2">90W</text><text x="-71.0" y="-36.3">60W</text><text x="-42.8" y="-65.0">30W</text></g></g><text x="429.0" y="5.9" font-size="8.1" font-weight="bold" text-anchor="middle" fill="#111">(c) DJF SIC Resp. to Pacific SST</text><g transform="translate(600.3,88.0)"><g clip-path="url(#cc)"><path d="M-33.3,-46.6 C-28.3,-50.5 -21.6,-52.4 -14.4,-54.5 C-7.2,-56.6 3.1,-59.6 9.7,-59.2 C16.3,-58.8 19.2,-56.5 25.0,-52.0 C30.8,-47.5 39.5,-39.5 44.6,-32.3 C49.7,-25.1 53.8,-15.3 55.6,-8.8 C57.4,-2.3 56.9,1.7 55.6,6.9 C54.3,12.1 50.9,17.9 47.7,22.6 C44.6,27.3 40.5,31.5 36.7,35.1 C32.9,38.7 29.5,41.5 25.0,44.0 C20.5,46.5 16.3,49.0 9.7,50.0 C3.1,51.0 -8.3,51.0 -14.4,50.0 C-20.5,49.0 -23.3,46.3 -27.0,43.7 C-30.7,41.1 -33.8,38.2 -36.4,34.3 C-39.0,30.4 -41.1,25.2 -42.7,20.2 C-44.3,15.2 -45.1,10.2 -45.8,4.5 C-46.5,-1.2 -47.3,-8.1 -47.0,-14.0 C-46.7,-19.9 -46.5,-25.6 -44.2,-31.0 C-41.9,-36.4 -38.3,-42.7 -33.3,-46.6 Z" fill="#e6eef3" opacity="1" filter="url(#b1)"/><path d="M-25,-43 C-23.0,-44.2 -16.2,-44.2 -14.0,-43.0 C-11.8,-41.8 -11.0,-37.5 -12.0,-36.0 C-13.0,-34.5 -17.7,-34.0 -20.0,-34.0 C-22.3,-34.0 -25.2,-34.5 -26.0,-36.0 C-26.8,-37.5 -27.0,-41.8 -25.0,-43.0 Z" fill="#c3e2ec" opacity="1" filter="url(#b1)"/><path d="M-17.6,-26.3 C-16.3,-27.3 -12.3,-30.1 -9.7,-32.5 C-7.1,-34.9 -4.2,-38.8 -1.9,-40.4 C0.5,-42.0 2.4,-41.8 4.4,-41.9 C6.4,-42.0 9.1,-41.1 10.0,-41.0" fill="none" stroke="#f2c6b0" stroke-width="5" stroke-linecap="round" stroke-linejoin="round" opacity="1" filter="url(#b1)"/><path d="M-34,-20 C-33.0,-21.8 -29.0,-25.3 -26.0,-26.0 C-23.0,-26.7 -17.7,-25.7 -16.0,-24.0 C-14.3,-22.3 -14.3,-17.7 -16.0,-16.0 C-17.7,-14.3 -23.3,-14.2 -26.0,-14.0 C-28.7,-13.8 -30.7,-14.0 -32.0,-15.0 C-33.3,-16.0 -35.0,-18.2 -34.0,-20.0 Z" fill="#e59070" opacity="1" filter="url(#b1)"/><path d="M-30,-19 C-29.3,-20.0 -23.7,-22.3 -22.0,-22.0 C-20.3,-21.7 -19.3,-18.0 -20.0,-17.0 C-20.7,-16.0 -24.3,-15.7 -26.0,-16.0 C-27.7,-16.3 -30.7,-18.0 -30.0,-19.0 Z" fill="#c43040" opacity="1" filter="url(#b1)"/><path d="M45,-1 C46.5,-2.3 51.7,-2.8 53.0,0.0 C54.3,2.8 54.3,13.0 53.0,16.0 C51.7,19.0 46.5,19.3 45.0,18.0 C43.5,16.7 44.0,11.2 44.0,8.0 C44.0,4.8 43.5,0.3 45.0,-1.0 Z" fill="#f2d6c6" opacity="1" filter="url(#b1)"/><path d="M-33.3,-4.9 C-33.0,-3.3 -32.5,1.1 -31.7,4.5 C-30.9,7.9 -29.9,12.3 -28.6,15.5 C-27.3,18.6 -25.7,21.0 -23.9,23.4 C-22.1,25.8 -19.7,27.8 -17.6,29.6 C-15.5,31.4 -13.1,33.0 -11.3,34.3 C-9.5,35.6 -7.4,37.0 -6.6,37.5" fill="none" stroke="#e8a088" stroke-width="10" stroke-linecap="round" stroke-linejoin="round" opacity="1" filter="url(#b1)"/><path d="M-33,-2 C-32.8,-0.9 -32.2,1.7 -31.5,4.5 C-30.8,7.3 -29.9,11.9 -28.6,15.0 C-27.3,18.1 -25.7,20.6 -23.9,22.8 C-22.1,25.1 -19.6,27.0 -17.6,28.5 C-15.6,30.0 -12.9,31.4 -12.0,32.0" fill="none" stroke="#b01d2d" stroke-width="6" stroke-linecap="round" stroke-linejoin="round" opacity="1" filter="url(#b1)"/><path d="M-30,10 C-29.6,11.2 -28.7,14.8 -27.5,17.0 C-26.3,19.2 -24.6,21.3 -23.0,23.0 C-21.4,24.7 -18.8,26.3 -18.0,27.0" fill="none" stroke="#7a0a26" stroke-width="4" stroke-linecap="round" stroke-linejoin="round" opacity="1" filter="url(#b1)"/><path d="M-8,22 C-6.7,21.0 -1.7,22.7 2.0,24.0 C5.7,25.3 9.7,28.3 14.0,30.0 C18.3,31.7 25.3,32.7 28.0,34.0 C30.7,35.3 32.3,36.8 30.0,38.0 C27.7,39.2 18.7,40.0 14.0,41.0 C9.3,42.0 5.3,44.2 2.0,44.0 C-1.3,43.8 -4.7,42.3 -6.0,40.0 C-7.3,37.7 -5.7,33.0 -6.0,30.0 C-6.3,27.0 -9.3,23.0 -8.0,22.0 Z" fill="#6aaed3" opacity="1" filter="url(#b1)"/><path d="M2,32 C3.7,32.8 8.7,35.6 12.0,36.5 C15.3,37.4 19.2,37.7 22.0,37.5 C24.8,37.3 27.8,35.5 28.9,35.1" fill="none" stroke="#386aae" stroke-width="4" stroke-linecap="round" stroke-linejoin="round" opacity="1" filter="url(#b1)"/><path d="M-30,-38 C-29.3,-39.7 -25.0,-41.3 -22.0,-42.0 C-19.0,-42.7 -13.0,-43.3 -12.0,-42.0 C-11.0,-40.7 -13.7,-35.7 -16.0,-34.0 C-18.3,-32.3 -23.7,-31.3 -26.0,-32.0 C-28.3,-32.7 -30.7,-36.3 -30.0,-38.0 Z" fill="url(#dots)"/><path d="M-34,-6 C-33.3,-8.0 -31.3,-7.0 -30.0,-4.0 C-28.7,-1.0 -28.3,8.0 -26.0,12.0 C-23.7,16.0 -19.7,18.0 -16.0,20.0 C-12.3,22.0 -7.7,22.7 -4.0,24.0 C-0.3,25.3 2.0,26.7 6.0,28.0 C10.0,29.3 16.0,31.7 20.0,32.0 C24.0,32.3 29.0,28.7 30.0,30.0 C31.0,31.3 29.7,37.7 26.0,40.0 C22.3,42.3 13.7,44.0 8.0,44.0 C2.3,44.0 -3.3,42.0 -8.0,40.0 C-12.7,38.0 -16.7,35.0 -20.0,32.0 C-23.3,29.0 -25.7,26.0 -28.0,22.0 C-30.3,18.0 -33.0,12.7 -34.0,8.0 C-35.0,3.3 -34.7,-4.0 -34.0,-6.0 Z" fill="url(#dots)"/><path d="M42,-24 C43.0,-25.7 48.7,-22.7 50.0,-20.0 C51.3,-17.3 51.0,-9.7 50.0,-8.0 C49.0,-6.3 45.3,-7.3 44.0,-10.0 C42.7,-12.7 41.0,-22.3 42.0,-24.0 Z" fill="url(#dots)"/></g><g stroke="#7a7a7a" stroke-width="0.5" stroke-dasharray="0.7,1.3" fill="none"><circle r="17.4"/><circle r="35.1"/><circle r="53.3"/><line x1="0.0" y1="0.0" x2="0.0" y2="-73.9"/><line x1="8.7" y1="-15.1" x2="36.9" y2="-64.0"/><line x1="15.1" y1="-8.7" x2="64.0" y2="-37.0"/><line x1="0.0" y1="0.0" x2="73.9" y2="-0.0"/><line x1="15.1" y1="8.7" x2="64.0" y2="36.9"/><line x1="8.7" y1="15.1" x2="36.9" y2="64.0"/><line x1="0.0" y1="-0.0" x2="0.0" y2="73.9"/><line x1="-8.7" y1="15.1" x2="-37.0" y2="64.0"/><line x1="-15.1" y1="8.7" x2="-64.0" y2="37.0"/><line x1="-0.0" y1="-0.0" x2="-73.9" y2="0.0"/><line x1="-15.1" y1="-8.7" x2="-64.0" y2="-37.0"/><line x1="-8.7" y1="-15.1" x2="-37.0" y2="-64.0"/></g><path d="M-40.2,-27.7 L-39.3,-26.0 L-39.2,-22.0 L-37.9,-18.6 L-35.6,-17.2 L-31.4,-16.6 L-26.2,-14.9 L-23.5,-13.2 L-21.8,-9.2 L-20.1,-11.4 L-17.5,-13.2 L-14.0,-14.9 L-12.7,-18.4 L-11.8,-22.7 L-10.5,-27.1 L-8.7,-29.3 L-7.0,-31.9 L-4.8,-33.2 L-1.8,-35.1 L0.8,-34.9 L4.3,-34.9 L8.6,-34.1 L13.0,-31.9 L17.3,-31.0 L20.8,-31.4 L22.5,-28.4 L26.9,-28.4 L30.4,-26.7 L33.0,-27.1 L35.2,-24.5 L35.2,-21.0 L36.5,-18.4 L36.5,-13.2 L33.9,-11.9 L35.6,-9.7 L38.2,-7.1 L40.8,-2.7 L41.7,4.0 L42.6,9.2 L40.8,12.7 L40.0,16.2 L37.4,18.8 L35.6,22.3 L33.0,24.9 L32.1,27.5 L29.5,30.1 L24.3,32.3 L17.3,33.6 L11.2,33.6 L5.1,32.7 L5.6,27.5 L7.3,24.0 L6.0,21.4 L4.3,22.3 L5.6,19.6 L6.0,16.2 L4.3,12.7 L1.1,10.3 L-3.3,7.7 L-5.0,8.6 L-7.6,12.9 L-9.4,13.8 L-10.3,20.7 L-14.6,20.3 L-19.0,19.0 L-19.8,15.5 L-24.2,15.5 L-24.6,12.9 L-25.9,10.3 L-26.4,7.7 L-27.7,5.1 L-31.2,4.2 L-30.7,0.7 L-30.6,-6.0 L-29.9,-9.5 L-32.6,-11.0 L-34.9,-11.7 L-37.1,-13.7 L-39.1,-16.0 L-41.1,-20.0 L-41.3,-24.0 L-40.9,-27.0 Z" fill="#d2d2d2" stroke="#222" stroke-width="0.75"/><path d="M-71.8,-19.0 L-70.2,-25.3 L-64.7,-27.6 L-59.2,-29.2 L-58.4,-25.3 L-60.8,-20.6 L-64.7,-18.2 L-69.4,-18.2 Z" fill="#d2d2d2" stroke="#222" stroke-width="0.7"/><g clip-path="url(#cc)"><g font-size="6.8" fill="#222" text-anchor="middle"><text x="-18.5" y="-48.800000000000004">WS</text><text x="31" y="-41.7">IO</text><text x="-54.5" y="2.6">ABS</text><text x="-14.5" y="54.8">RS</text><text x="38.8" y="41.0">WPO</text></g></g><ellipse cx="-61" cy="-36.2" rx="0.9" ry="1.3" fill="none" stroke="#222" stroke-width="0.5"/><line x1="-41" y1="-52.3" x2="-38.6" y2="-52.6" stroke="#222" stroke-width="0.7"/><circle r="73.9" fill="none" stroke="#555" stroke-width="0.6"/><g font-size="4.1" fill="#1a1a1a" text-anchor="middle"><text x="-0.3" y="-75.2">0</text><text x="41.5" y="-65.0">30E</text><text x="70.3" y="-36.5">60E</text><text x="80.3" y="1.2">90E</text><text x="70.6" y="40.1">120E</text><text x="42.8" y="68.0">150E</text><text x="-0.3" y="78.2">180</text><text x="-43.3" y="68.0">150W</text><text x="-71.6" y="40.1">120W</text><text x="-81.2" y="1.2">90W</text><text x="-71.0" y="-36.3">60W</text><text x="-42.8" y="-65.0">30W</text></g></g><text x="600.3" y="5.9" font-size="8.1" font-weight="bold" text-anchor="middle" fill="#111">(d) MAM SIC Resp. to Pacific SST</text><g transform="translate(85.1,286.5)"><g clip-path="url(#cc)"><ellipse cx="0" cy="0" rx="18" ry="37" transform="translate(-50.5,-2) rotate(-15)" fill="#c9c9c9" opacity="1"/><path d="M-38,4 C-34.7,2.0 -27.3,6.3 -24.0,8.0 C-20.7,9.7 -19.2,11.0 -18.0,14.0 C-16.8,17.0 -15.7,23.3 -17.0,26.0 C-18.3,28.7 -22.5,29.7 -26.0,30.0 C-29.5,30.3 -35.0,29.7 -38.0,28.0 C-41.0,26.3 -44.0,24.0 -44.0,20.0 C-44.0,16.0 -41.3,6.0 -38.0,4.0 Z" fill="#c9c9c9" opacity="1"/><path d="M59,-30 C57.3,-28.3 56.1,-22.7 55.5,-18.0 C54.9,-13.3 55.8,-7.2 55.5,-2.0 C55.2,3.2 54.4,9.9 54.0,13.5 C53.6,17.1 54.0,17.1 53.0,19.3 C52.0,21.5 49.7,25.1 47.9,26.6 C46.1,28.1 44.4,26.9 42.0,28.1 C39.6,29.3 37.2,31.9 33.3,33.9 C29.4,35.8 23.6,38.1 18.7,39.8 C13.8,41.5 9.0,42.5 4.1,44.2 C-0.8,45.9 -5.6,47.8 -10.5,50.0 C-15.4,52.2 -21.0,55.3 -25.1,57.3 C-29.2,59.3 -31.7,60.2 -35.0,62.0 C-38.3,63.8 -42.5,65.0 -45.0,68.0 C-47.5,71.0 -57.5,77.0 -50.0,80.0 C-42.5,83.0 -15.0,86.0 0.0,86.0 C15.0,86.0 32.7,85.7 40.0,80.0 C47.3,74.3 42.3,58.3 44.0,52.0 C45.7,45.7 47.8,45.7 50.0,42.0 C52.2,38.3 54.7,34.2 57.0,30.0 C59.3,25.8 62.0,21.5 64.0,17.0 C66.0,12.5 68.0,8.4 69.0,3.0 C70.0,-2.4 70.6,-10.4 70.0,-15.6 C69.4,-20.8 67.3,-25.6 65.5,-28.0 C63.7,-30.4 60.7,-31.7 59.0,-30.0 Z" fill="#c9c9c9"/></g><g stroke="#7a7a7a" stroke-width="0.5" stroke-dasharray="0.7,1.3" fill="none"><circle r="17.4"/><circle r="35.1"/><circle r="53.3"/><line x1="0.0" y1="0.0" x2="0.0" y2="-73.9"/><line x1="8.7" y1="-15.1" x2="36.9" y2="-64.0"/><line x1="15.1" y1="-8.7" x2="64.0" y2="-37.0"/><line x1="0.0" y1="0.0" x2="73.9" y2="-0.0"/><line x1="15.1" y1="8.7" x2="64.0" y2="36.9"/><line x1="8.7" y1="15.1" x2="36.9" y2="64.0"/><line x1="0.0" y1="-0.0" x2="0.0" y2="73.9"/><line x1="-8.7" y1="15.1" x2="-37.0" y2="64.0"/><line x1="-15.1" y1="8.7" x2="-64.0" y2="37.0"/><line x1="-0.0" y1="-0.0" x2="-73.9" y2="0.0"/><line x1="-15.1" y1="-8.7" x2="-64.0" y2="-37.0"/><line x1="-8.7" y1="-15.1" x2="-37.0" y2="-64.0"/></g><g clip-path="url(#cc)"><ellipse rx="4.5" ry="8.5" transform="translate(-49.2,1.2) rotate(-15)" fill="none" stroke="#1f1fe6" stroke-width="0.9" stroke-dasharray="2.6,1.4"/><ellipse rx="6.3" ry="12.0" transform="translate(-49.38,0.7799999999999999) rotate(-15)" fill="none" stroke="#111" stroke-width="0.8"/><path d="M-42.5,5.3 L-43.7,2.5 L-41.6,2.4 Z" fill="#111"/><path d="M-48.4,12.7 L-45.7,11.2 L-45.4,13.4 Z" fill="#111"/><path d="M-55.2,3.6 L-53.1,5.8 L-55.1,6.7 Z" fill="#111"/><path d="M-54.5,-9.8 L-54.7,-6.7 L-56.7,-7.6 Z" fill="#111"/><path d="M-46.6,-8.0 L-49.4,-9.1 L-48.0,-10.7 Z" fill="#111"/><ellipse rx="8.1" ry="15.5" transform="translate(-49.56,0.3599999999999999) rotate(-15)" fill="none" stroke="#1f1fe6" stroke-width="0.9" stroke-dasharray="2.6,1.4"/><ellipse rx="9.899999999999999" ry="19.0" transform="translate(-49.74,-0.06000000000000005) rotate(-15)" fill="none" stroke="#111" stroke-width="0.8"/><path d="M-40.0,13.2 L-40.4,10.1 L-38.3,10.6 Z" fill="#111"/><path d="M-48.0,18.5 L-45.1,17.4 L-45.1,19.5 Z" fill="#111"/><path d="M-56.4,10.0 L-53.9,11.9 L-55.8,13.0 Z" fill="#111"/><path d="M-60.5,-5.9 L-59.3,-3.1 L-61.4,-3.0 Z" fill="#111"/><path d="M-56.1,-18.0 L-57.3,-15.2 L-58.9,-16.7 Z" fill="#111"/><path d="M-47.1,-15.7 L-50.1,-16.6 L-48.8,-18.3 Z" fill="#111"/><path d="M-40.1,-2.5 L-42.0,-5.0 L-40.0,-5.6 Z" fill="#111"/><ellipse rx="11.7" ry="22.5" transform="translate(-49.92,-0.4800000000000002) rotate(-15)" fill="none" stroke="#1f1fe6" stroke-width="0.9" stroke-dasharray="2.6,1.4"/><ellipse rx="13.5" ry="26.0" transform="translate(-50.1,-0.9000000000000001) rotate(-15)" fill="none" stroke="#111" stroke-width="0.8"/><path d="M-38.6,20.7 L-38.2,17.7 L-36.3,18.6 Z" fill="#111"/><path d="M-47.5,24.3 L-44.6,23.4 L-44.7,25.6 Z" fill="#111"/><path d="M-56.9,16.5 L-54.2,18.1 L-55.9,19.4 Z" fill="#111"/><path d="M-63.6,0.9 L-61.8,3.4 L-63.9,3.9 Z" fill="#111"/><path d="M-64.1,-16.1 L-63.5,-13.1 L-65.6,-13.5 Z" fill="#111"/><path d="M-57.5,-26.0 L-59.3,-23.5 L-60.5,-25.3 Z" fill="#111"/><path d="M-47.9,-23.4 L-50.9,-24.1 L-49.7,-25.9 Z" fill="#111"/><path d="M-39.4,-11.2 L-41.6,-13.3 L-39.6,-14.2 Z" fill="#111"/><path d="M-35.4,6.2 L-36.7,3.4 L-34.5,3.2 Z" fill="#111"/><ellipse rx="15.299999999999999" ry="29.5" transform="translate(-50.28,-1.32) rotate(-15)" fill="none" stroke="#1f1fe6" stroke-width="0.9" stroke-dasharray="2.6,1.4"/><ellipse rx="17.1" ry="33.0" transform="translate(-50.46,-1.74) rotate(-15)" fill="none" stroke="#111" stroke-width="0.8"/><path d="M-37.6,27.8 L-36.7,24.8 L-35.0,26.2 Z" fill="#111"/><path d="M-47.2,30.2 L-44.2,29.4 L-44.4,31.6 Z" fill="#111"/><path d="M-57.1,22.9 L-54.3,24.3 L-55.9,25.7 Z" fill="#111"/><path d="M-65.3,8.1 L-63.2,10.4 L-65.2,11.2 Z" fill="#111"/><path d="M-69.0,-10.1 L-67.7,-7.3 L-69.9,-7.1 Z" fill="#111"/><path d="M-66.7,-26.0 L-66.6,-22.9 L-68.7,-23.6 Z" fill="#111"/><path d="M-58.7,-33.9 L-60.9,-31.7 L-61.8,-33.7 Z" fill="#111"/><path d="M-48.8,-31.1 L-51.8,-31.6 L-50.7,-33.5 Z" fill="#111"/><path d="M-39.3,-19.7 L-41.8,-21.6 L-39.9,-22.8 Z" fill="#111"/><path d="M-33.1,-2.6 L-34.8,-5.1 L-32.7,-5.6 Z" fill="#111"/><path d="M-32.3,15.2 L-33.0,12.2 L-30.9,12.4 Z" fill="#111"/><ellipse rx="18.9" ry="36.5" transform="translate(-50.64,-2.16) rotate(-15)" fill="none" stroke="#1f1fe6" stroke-width="0.9" stroke-dasharray="2.6,1.4"/><ellipse rx="20.7" ry="40.0" transform="translate(-50.82,-2.58) rotate(-15)" fill="none" stroke="#111" stroke-width="0.8"/><path d="M-36.9,34.5 L-35.5,31.8 L-34.1,33.4 Z" fill="#111"/><path d="M-46.8,36.0 L-43.8,35.4 L-44.1,37.5 Z" fill="#111"/><path d="M-57.1,29.2 L-54.3,30.4 L-55.8,31.9 Z" fill="#111"/><path d="M-66.2,15.3 L-64.0,17.4 L-65.9,18.4 Z" fill="#111"/><path d="M-72.1,-2.7 L-70.4,-0.1 L-72.5,0.3 Z" fill="#111"/><path d="M-73.1,-21.1 L-72.2,-18.1 L-74.4,-18.3 Z" fill="#111"/><path d="M-68.7,-35.3 L-69.1,-32.3 L-71.0,-33.3 Z" fill="#111"/><path d="M-59.9,-41.6 L-62.4,-39.7 L-63.0,-41.8 Z" fill="#111"/><path d="M-49.7,-38.7 L-52.7,-39.2 L-51.7,-41.1 Z" fill="#111"/><path d="M-39.7,-28.2 L-42.2,-29.9 L-40.5,-31.1 Z" fill="#111"/><path d="M-31.9,-11.8 L-33.9,-14.1 L-31.9,-14.8 Z" fill="#111"/><path d="M-28.4,7.0 L-29.7,4.2 L-27.5,4.0 Z" fill="#111"/><path d="M-30.1,23.8 L-30.4,20.8 L-28.3,21.3 Z" fill="#111"/><ellipse rx="22.5" ry="43.5" transform="translate(-51.0,-3.0) rotate(-15)" fill="none" stroke="#1f1fe6" stroke-width="0.9" stroke-dasharray="2.6,1.4"/><path d="M-40.4,-48.7 C-38.0,-46.3 -29.6,-39.9 -25.8,-34.1 C-22.0,-28.4 -21.3,-18.7 -17.8,-14.2 C-14.3,-9.7 -7.7,-10.0 -4.6,-7.1 C-1.5,-4.2 0.7,-0.7 0.7,3.0 C0.7,6.7 -1.5,11.7 -4.6,14.9 C-7.7,18.1 -13.2,19.5 -17.8,22.0 C-22.4,24.5 -27.3,28.3 -32.4,30.0 C-37.5,31.7 -45.6,31.8 -48.3,32.1" fill="none" stroke="#1f1fe6" stroke-width="0.9" stroke-dasharray="2.6,1.4" stroke-linecap="round"/><path d="M-33.7,-39.4 C-31.9,-37.2 -26.2,-30.6 -23.1,-26.2 C-20.0,-21.8 -17.8,-17.1 -15.2,-12.9 C-12.6,-8.7 -8.0,-4.5 -7.3,-1.0 C-6.6,2.5 -8.6,5.4 -11.2,8.3 C-13.8,11.2 -19.1,13.6 -23.1,16.2 C-27.1,18.8 -33.1,22.4 -35.1,23.6" fill="none" stroke="#1f1fe6" stroke-width="0.9" stroke-dasharray="2.6,1.4" stroke-linecap="round"/><path d="M-43.0,-50.0 C-40.4,-48.2 -31.1,-43.8 -27.1,-39.4 C-23.1,-35.0 -21.9,-27.9 -19.2,-23.5 C-16.5,-19.1 -14.3,-15.8 -11.2,-12.9 C-8.1,-10.0 -3.2,-8.9 -0.6,-6.3 C2.0,-3.6 3.8,1.4 4.7,3.0" fill="none" stroke="#1f1fe6" stroke-width="0.9" stroke-dasharray="2.6,1.4" stroke-linecap="round"/><path d="M-72.0,18.0 C-70.3,19.7 -65.7,25.3 -62.0,28.0 C-58.3,30.7 -54.0,32.7 -50.0,34.0 C-46.0,35.3 -42.2,36.2 -38.0,36.0 C-33.8,35.8 -29.3,34.2 -25.0,33.0 C-20.7,31.8 -16.7,30.0 -12.0,29.0 C-7.3,28.0 -2.3,27.8 3.0,27.0 C8.3,26.2 14.5,25.5 20.0,24.0 C25.5,22.5 31.3,20.3 36.0,18.0 C40.7,15.7 46.0,11.3 48.0,10.0" fill="none" stroke="#111" stroke-width="0.8" stroke-linecap="round"/><path d="M-61.5,28.5 L-64.3,27.2 L-62.8,25.7 Z" fill="#111"/><path d="M-36.8,36.2 L-39.8,36.8 L-39.4,34.7 Z" fill="#111"/><path d="M-11.6,28.9 L-14.0,30.8 L-14.7,28.7 Z" fill="#111"/><path d="M14.2,25.0 L11.6,26.6 L11.2,24.5 Z" fill="#111"/><path d="M38.6,16.2 L36.8,18.7 L35.6,16.9 Z" fill="#111"/><path d="M-74.47487373415292,20.474873734152915 C-72.7,22.2 -68.0,28.0 -64.1,30.8 C-60.2,33.6 -55.5,35.9 -51.1,37.3 C-46.7,38.8 -42.4,39.7 -37.9,39.5 C-33.4,39.3 -28.5,37.6 -24.1,36.4 C-19.7,35.2 -15.9,33.4 -11.3,32.4 C-6.7,31.4 -1.8,31.3 3.5,30.5 C8.9,29.6 15.3,28.9 20.9,27.4 C26.6,25.8 32.7,23.5 37.6,21.1 C42.4,18.7 47.9,14.3 49.9,12.9" fill="none" stroke="#111" stroke-width="0.8" stroke-linecap="round"/><path d="M-63.6,31.3 L-66.4,30.0 L-64.9,28.5 Z" fill="#111"/><path d="M-38.0,39.5 L-41.1,40.1 L-40.7,37.9 Z" fill="#111"/><path d="M-11.9,32.6 L-14.3,34.5 L-15.0,32.4 Z" fill="#111"/><path d="M14.8,28.5 L12.2,30.0 L11.8,27.9 Z" fill="#111"/><path d="M40.2,19.4 L38.4,21.9 L37.2,20.1 Z" fill="#111"/><path d="M-76.94974746830583,22.94974746830583 C-75.1,24.7 -70.2,30.7 -66.1,33.7 C-62.0,36.6 -56.9,39.1 -52.2,40.6 C-47.5,42.2 -42.6,43.1 -37.7,43.0 C-32.9,42.8 -27.7,41.0 -23.2,39.8 C-18.6,38.6 -15.1,36.8 -10.5,35.8 C-6.0,34.9 -1.3,34.8 4.1,33.9 C9.5,33.1 16.0,32.4 21.8,30.8 C27.7,29.1 34.1,26.7 39.1,24.3 C44.1,21.8 49.8,17.2 51.9,15.8" fill="none" stroke="#111" stroke-width="0.8" stroke-linecap="round"/><path d="M-65.7,34.1 L-68.5,32.8 L-67.0,31.3 Z" fill="#111"/><path d="M-39.3,42.7 L-42.3,43.3 L-42.0,41.2 Z" fill="#111"/><path d="M-12.2,36.4 L-14.6,38.2 L-15.3,36.2 Z" fill="#111"/><path d="M15.5,31.9 L12.8,33.5 L12.4,31.3 Z" fill="#111"/><path d="M41.7,22.6 L39.9,25.1 L38.7,23.3 Z" fill="#111"/><path d="M-79.42462120245875,25.42462120245875 C-77.5,27.3 -72.5,33.4 -68.2,36.5 C-63.8,39.6 -58.4,42.3 -53.3,44.0 C-48.2,45.6 -42.8,46.6 -37.6,46.5 C-32.4,46.4 -26.9,44.3 -22.3,43.1 C-17.6,41.9 -14.3,40.2 -9.8,39.3 C-5.3,38.3 -0.8,38.2 4.6,37.4 C10.0,36.5 16.8,35.8 22.8,34.1 C28.8,32.5 35.5,30.0 40.7,27.4 C45.9,24.8 51.6,20.2 53.8,18.7" fill="none" stroke="#111" stroke-width="0.8" stroke-linecap="round"/><path d="M-67.8,36.9 L-70.6,35.6 L-69.1,34.1 Z" fill="#111"/><path d="M-40.6,46.0 L-43.6,46.6 L-43.3,44.5 Z" fill="#111"/><path d="M-12.5,40.1 L-14.9,42.0 L-15.6,39.9 Z" fill="#111"/><path d="M16.1,35.3 L13.4,36.9 L13.0,34.8 Z" fill="#111"/><path d="M43.2,25.7 L41.4,28.2 L40.2,26.4 Z" fill="#111"/><path d="M-81.89949493661166,27.899494936611664 C-80.0,29.8 -74.8,36.1 -70.2,39.3 C-65.7,42.6 -59.9,45.5 -54.4,47.3 C-49.0,49.1 -43.0,50.1 -37.4,50.0 C-31.9,49.9 -26.1,47.7 -21.4,46.5 C-16.6,45.3 -13.5,43.6 -9.1,42.7 C-4.6,41.7 -0.3,41.7 5.2,40.8 C10.6,40.0 17.5,39.2 23.7,37.5 C29.9,35.8 36.9,33.2 42.3,30.5 C47.6,27.9 53.5,23.1 55.8,21.6" fill="none" stroke="#111" stroke-width="0.8" stroke-linecap="round"/><path d="M-69.9,39.6 L-72.7,38.4 L-71.2,36.8 Z" fill="#111"/><path d="M-41.9,49.3 L-44.9,49.9 L-44.6,47.8 Z" fill="#111"/><path d="M-12.8,43.8 L-15.2,45.7 L-15.9,43.7 Z" fill="#111"/><path d="M16.7,38.8 L14.0,40.3 L13.7,38.2 Z" fill="#111"/><path d="M44.8,28.9 L42.9,31.4 L41.8,29.6 Z" fill="#111"/><path d="M-56.2,47.9 C-54.3,48.2 -48.5,49.6 -45.0,50.0 C-41.5,50.4 -38.6,50.5 -35.3,50.0 C-32.0,49.5 -29.2,48.6 -25.1,47.1 C-21.0,45.6 -15.4,42.7 -10.5,41.2 C-5.6,39.7 -0.9,39.0 4.0,38.0 C8.9,37.0 14.4,36.6 18.7,35.4 C23.0,34.2 26.4,32.5 30.0,31.0 C33.6,29.5 37.6,28.4 40.6,26.6 C43.6,24.8 46.4,22.8 48.0,20.0 C49.6,17.2 49.7,14.2 50.0,10.0 C50.3,5.8 50.0,-2.5 50.0,-5.0" fill="none" stroke="#e8261e" stroke-width="1.0" stroke-linecap="round"/><path d="M-40,68 C-38.3,66.8 -32.5,62.8 -30.0,61.0 C-27.5,59.2 -28.4,59.1 -25.1,57.3 C-21.9,55.5 -15.4,52.2 -10.5,50.0 C-5.6,47.8 -0.8,45.9 4.1,44.2 C9.0,42.5 13.8,41.5 18.7,39.8 C23.6,38.1 29.4,35.8 33.3,33.9 C37.2,31.9 39.6,29.3 42.0,28.1 C44.4,26.9 46.2,28.1 47.9,26.6 C49.6,25.1 51.6,21.5 52.3,19.3 C53.0,17.1 52.3,14.5 52.3,13.5" fill="none" stroke="#e8261e" stroke-width="1.0" stroke-linecap="round"/><ellipse rx="26.3" ry="10" transform="translate(14.3,55.8) rotate(-20)" fill="none" stroke="#e8261e" stroke-width="1.0"/><ellipse rx="17" ry="6" transform="translate(14.3,56) rotate(-20)" fill="none" stroke="#111" stroke-width="0.8"/><path d="M30.9,51.9 L28.9,49.5 L30.9,48.8 Z" fill="#111"/><path d="M14.7,62.3 L17.0,60.3 L17.7,62.3 Z" fill="#111"/><path d="M-2.3,60.1 L-0.3,62.5 L-2.3,63.2 Z" fill="#111"/><path d="M13.9,49.7 L11.6,51.7 L10.9,49.7 Z" fill="#111"/><ellipse rx="8" ry="2.5" transform="translate(14.3,56.5) rotate(-20)" fill="none" stroke="#111" stroke-width="0.8"/><path d="M22.4,55.5 L20.4,53.1 L22.5,52.4 Z" fill="#111"/><path d="M6.2,57.5 L8.2,59.9 L6.1,60.6 Z" fill="#111"/><ellipse rx="34" ry="14.5" transform="translate(13,55) rotate(-20)" fill="none" stroke="#111" stroke-width="0.8"/><path d="M45.6,45.1 L43.6,42.7 L45.6,42.0 Z" fill="#111"/><path d="M26.0,65.2 L28.0,62.9 L29.0,64.8 Z" fill="#111"/><path d="M-11.7,72.1 L-8.7,71.5 L-9.1,73.7 Z" fill="#111"/><path d="M-14.6,55.0 L-15.6,57.9 L-17.3,56.5 Z" fill="#111"/><path d="M19.9,38.1 L17.3,39.7 L16.9,37.6 Z" fill="#111"/><ellipse rx="4.6" ry="12" transform="translate(58.2,4.3) rotate(10)" fill="none" stroke="#e8261e" stroke-width="1.0"/><ellipse rx="8.5" ry="22" transform="translate(58.2,3.0) rotate(10)" fill="none" stroke="#111" stroke-width="0.8"/><path d="M66.3,6.2 L65.7,3.2 L67.8,3.6 Z" fill="#111"/><path d="M50.0,19.4 L52.1,21.6 L50.2,22.4 Z" fill="#111"/><path d="M58.6,-17.8 L57.4,-15.0 L55.8,-16.5 Z" fill="#111"/><path d="M44.4,48.0 C46.6,45.8 53.9,40.1 57.6,34.8 C61.4,29.5 64.5,22.8 66.9,16.2 C69.3,9.6 71.5,1.6 72.2,-5.0 C72.9,-11.6 72.2,-18.2 70.9,-23.5 C69.6,-28.8 65.4,-34.6 64.3,-36.8" fill="none" stroke="#111" stroke-width="0.8" stroke-linecap="round"/><path d="M56.8,35.6 L55.6,38.4 L54.0,36.8 Z" fill="#111"/><path d="M69.3,6.8 L69.6,9.9 L67.5,9.3 Z" fill="#111"/><path d="M70.8,-24.4 L72.1,-21.6 L70.0,-21.4 Z" fill="#111"/><path d="M68.2,24.2 C69.3,20.7 73.8,9.6 74.9,3.0 C76.0,-3.6 74.9,-12.5 74.9,-15.6" fill="none" stroke="#e8261e" stroke-width="1.0" stroke-linecap="round"/><path d="M-31.1,-66.4 C-29.8,-65.0 -25.1,-61.2 -23.1,-58.0 C-21.1,-54.8 -19.9,-50.5 -19.2,-47.4 C-18.4,-44.3 -19.5,-42.3 -18.6,-39.4 C-17.7,-36.5 -15.2,-33.2 -13.9,-30.1 C-12.6,-27.0 -11.7,-24.0 -10.7,-20.9 C-9.7,-17.8 -9.7,-14.2 -8.0,-11.6 C-6.3,-8.9 -3.6,-7.3 -0.6,-5.0 C2.4,-2.7 6.9,0.2 10.0,2.4 C13.1,4.6 16.0,5.9 17.9,8.3 C19.8,10.7 20.4,13.5 21.1,16.7 C21.8,19.9 22.0,25.5 22.2,27.3" fill="none" stroke="#e8261e" stroke-width="1.0" stroke-linecap="round"/><path d="M-16.5,-71.2 C-13.8,-70.8 -3.5,-70.4 -0.6,-68.6 C2.3,-66.8 0.7,-63.7 0.7,-60.6 C0.7,-57.5 0.3,-54.0 -0.6,-50.0 C-1.5,-46.0 -5.9,-39.8 -4.6,-36.8 C-3.3,-33.8 2.2,-33.8 7.3,-32.0 C12.4,-30.2 21.7,-28.9 25.9,-26.2 C30.1,-23.5 30.5,-18.5 32.5,-15.6 C34.5,-12.7 36.5,-11.0 37.8,-9.0 C39.1,-7.0 39.7,-5.7 40.4,-3.7 C41.1,-1.7 42.4,0.6 41.8,3.0 C41.1,5.4 38.3,8.2 36.5,10.9 C34.7,13.6 32.1,17.6 31.2,18.9" fill="none" stroke="#e8261e" stroke-width="1.0" stroke-linecap="round"/><path d="M59.0,-44.7 C58.1,-42.1 55.0,-33.6 53.7,-28.8 C52.4,-23.9 52.5,-18.7 51.0,-15.6 C49.5,-12.5 46.8,-11.5 44.4,-10.3 C42.0,-9.1 37.8,-8.5 36.5,-8.2" fill="none" stroke="#e8261e" stroke-width="1.0" stroke-linecap="round"/><path d="M-68.45862033082881,-38.32660062909326 C-66.1,-40.6 -60.0,-48.4 -54.5,-52.2 C-49.1,-56.1 -42.4,-60.6 -35.8,-61.3 C-29.3,-61.9 -20.2,-59.8 -15.4,-55.9 C-10.5,-52.1 -8.2,-43.6 -6.8,-38.2 C-5.3,-32.8 -6.6,-25.9 -6.6,-23.5" fill="none" stroke="#111" stroke-width="0.8" stroke-linecap="round"/><path d="M-49.0,-54.9 L-51.2,-52.7 L-52.1,-54.6 Z" fill="#111"/><path d="M-10.0,-44.9 L-12.3,-47.1 L-10.3,-48.0 Z" fill="#111"/><path d="M-64.2,-34.1 C-62.0,-36.3 -55.9,-43.9 -51.0,-47.4 C-46.1,-50.9 -40.4,-54.6 -35.1,-55.3 C-29.8,-55.9 -22.9,-54.4 -19.2,-51.3 C-15.4,-48.2 -13.7,-41.4 -12.6,-36.8 C-11.5,-32.2 -12.6,-25.7 -12.6,-23.5" fill="none" stroke="#111" stroke-width="0.8" stroke-linecap="round"/><path d="M-47.8,-49.0 L-49.9,-46.7 L-50.8,-48.7 Z" fill="#111"/><path d="M-14.8,-41.7 L-17.0,-43.9 L-15.1,-44.8 Z" fill="#111"/><line x1="-11.4" y1="-70.2" x2="-10.4" y2="-68.5" stroke="#111" stroke-width="0.95"/><path d="M-9.7,-67.1 L-11.7,-68.8 L-10.1,-69.7 Z" fill="#111"/><line x1="-5.8" y1="-69.4" x2="-1.6" y2="-68.1" stroke="#111" stroke-width="0.95"/><path d="M-0.2,-67.6 L-2.8,-67.5 L-2.2,-69.2 Z" fill="#111"/><line x1="3.5" y1="-70.2" x2="6.9" y2="-70.1" stroke="#111" stroke-width="0.95"/><path d="M8.4,-70.0 L5.9,-69.2 L6.0,-71.0 Z" fill="#111"/><line x1="11.8" y1="-69.9" x2="14.7" y2="-69.0" stroke="#111" stroke-width="0.95"/><path d="M16.2,-68.5 L13.6,-68.4 L14.1,-70.1 Z" fill="#111"/><line x1="-39.7" y1="-65.5" x2="-38.9" y2="-61.4" stroke="#111" stroke-width="0.95"/><path d="M-38.7,-59.9 L-40.0,-62.1 L-38.2,-62.4 Z" fill="#111"/><line x1="-33.4" y1="-64.7" x2="-31.4" y2="-61.5" stroke="#111" stroke-width="0.95"/><path d="M-30.6,-60.3 L-32.6,-61.8 L-31.1,-62.8 Z" fill="#111"/><line x1="-23.5" y1="-64.6" x2="-22.0" y2="-61.3" stroke="#111" stroke-width="0.95"/><path d="M-21.4,-59.9 L-23.2,-61.7 L-21.5,-62.5 Z" fill="#111"/><line x1="-16.7" y1="-64.6" x2="-15.3" y2="-60.7" stroke="#111" stroke-width="0.95"/><path d="M-14.8,-59.3 L-16.5,-61.2 L-14.8,-61.8 Z" fill="#111"/><line x1="-8.9" y1="-62.7" x2="-6.3" y2="-62.6" stroke="#111" stroke-width="0.95"/><path d="M-4.8,-62.5 L-7.2,-61.7 L-7.1,-63.5 Z" fill="#111"/><line x1="-0.6" y1="-63.4" x2="2.6" y2="-62.6" stroke="#111" stroke-width="0.95"/><path d="M4.1,-62.2 L1.5,-61.9 L2.0,-63.7 Z" fill="#111"/><line x1="7.5" y1="-63.2" x2="10.1" y2="-61.7" stroke="#111" stroke-width="0.95"/><path d="M11.4,-60.9 L8.9,-61.3 L9.8,-62.9 Z" fill="#111"/><line x1="15.3" y1="-63.2" x2="17.5" y2="-61.2" stroke="#111" stroke-width="0.95"/><path d="M18.6,-60.2 L16.3,-61.2 L17.5,-62.5 Z" fill="#111"/><line x1="22.5" y1="-63.9" x2="26.3" y2="-63.6" stroke="#111" stroke-width="0.95"/><path d="M27.8,-63.5 L25.3,-62.8 L25.4,-64.6 Z" fill="#111"/><line x1="32.3" y1="-63.2" x2="34.4" y2="-62.0" stroke="#111" stroke-width="0.95"/><path d="M35.7,-61.2 L33.2,-61.7 L34.1,-63.2 Z" fill="#111"/><line x1="39.6" y1="-63.3" x2="41.2" y2="-60.4" stroke="#111" stroke-width="0.95"/><path d="M41.9,-59.0 L40.0,-60.7 L41.6,-61.6 Z" fill="#111"/><line x1="-53.0" y1="-57.1" x2="-49.9" y2="-55.9" stroke="#111" stroke-width="0.95"/><path d="M-48.5,-55.3 L-51.0,-55.4 L-50.4,-57.0 Z" fill="#111"/><line x1="-43.6" y1="-59.2" x2="-41.8" y2="-55.6" stroke="#111" stroke-width="0.95"/><path d="M-41.1,-54.3 L-43.0,-56.0 L-41.4,-56.8 Z" fill="#111"/><line x1="-35.5" y1="-57.4" x2="-34.1" y2="-54.4" stroke="#111" stroke-width="0.95"/><path d="M-33.5,-53.1 L-35.3,-54.9 L-33.7,-55.6 Z" fill="#111"/><line x1="-29.6" y1="-56.7" x2="-25.4" y2="-56.4" stroke="#111" stroke-width="0.95"/><path d="M-23.9,-56.3 L-26.4,-55.6 L-26.2,-57.4 Z" fill="#111"/><line x1="-20.7" y1="-58.0" x2="-18.2" y2="-56.0" stroke="#111" stroke-width="0.95"/><path d="M-17.1,-55.0 L-19.5,-55.9 L-18.3,-57.2 Z" fill="#111"/><line x1="-13.2" y1="-57.9" x2="-10.6" y2="-55.5" stroke="#111" stroke-width="0.95"/><path d="M-9.5,-54.5 L-11.9,-55.4 L-10.6,-56.8 Z" fill="#111"/><line x1="-4.7" y1="-56.5" x2="-2.1" y2="-56.4" stroke="#111" stroke-width="0.95"/><path d="M-0.6,-56.4 L-3.0,-55.6 L-3.0,-57.4 Z" fill="#111"/><line x1="3.0" y1="-58.1" x2="4.5" y2="-54.4" stroke="#111" stroke-width="0.95"/><path d="M5.0,-53.0 L3.3,-54.9 L5.0,-55.5 Z" fill="#111"/><line x1="11.1" y1="-56.5" x2="14.9" y2="-55.0" stroke="#111" stroke-width="0.95"/><path d="M16.3,-54.5 L13.8,-54.5 L14.4,-56.2 Z" fill="#111"/><line x1="19.7" y1="-57.3" x2="21.8" y2="-57.2" stroke="#111" stroke-width="0.95"/><path d="M23.3,-57.2 L20.8,-56.3 L20.9,-58.1 Z" fill="#111"/><line x1="27.2" y1="-57.2" x2="30.7" y2="-56.6" stroke="#111" stroke-width="0.95"/><path d="M32.2,-56.4 L29.6,-55.9 L29.9,-57.7 Z" fill="#111"/><line x1="34.5" y1="-57.6" x2="37.7" y2="-56.9" stroke="#111" stroke-width="0.95"/><path d="M39.2,-56.6 L36.6,-56.2 L37.0,-58.0 Z" fill="#111"/><line x1="42.9" y1="-58.2" x2="44.6" y2="-55.5" stroke="#111" stroke-width="0.95"/><path d="M45.4,-54.3 L43.3,-55.8 L44.9,-56.8 Z" fill="#111"/><line x1="-49.6" y1="-50.9" x2="-47.5" y2="-49.5" stroke="#111" stroke-width="0.95"/><path d="M-46.3,-48.7 L-48.8,-49.3 L-47.8,-50.8 Z" fill="#111"/><line x1="-41.3" y1="-50.0" x2="-39.4" y2="-48.4" stroke="#111" stroke-width="0.95"/><path d="M-38.3,-47.4 L-40.7,-48.3 L-39.5,-49.6 Z" fill="#111"/><line x1="-32.4" y1="-49.4" x2="-30.4" y2="-49.3" stroke="#111" stroke-width="0.95"/><path d="M-28.9,-49.3 L-31.3,-48.5 L-31.2,-50.3 Z" fill="#111"/><line x1="-26.1" y1="-50.0" x2="-22.5" y2="-49.1" stroke="#111" stroke-width="0.95"/><path d="M-21.0,-48.8 L-23.6,-48.5 L-23.2,-50.2 Z" fill="#111"/><line x1="-17.4" y1="-50.6" x2="-13.1" y2="-49.2" stroke="#111" stroke-width="0.95"/><path d="M-11.7,-48.8 L-14.3,-48.7 L-13.7,-50.4 Z" fill="#111"/><line x1="-8.7" y1="-50.5" x2="-5.3" y2="-49.4" stroke="#111" stroke-width="0.95"/><path d="M-3.9,-48.9 L-6.4,-48.8 L-5.9,-50.5 Z" fill="#111"/><line x1="-1.4" y1="-50.6" x2="1.8" y2="-49.1" stroke="#111" stroke-width="0.95"/><path d="M3.2,-48.4 L0.6,-48.7 L1.4,-50.3 Z" fill="#111"/><line x1="7.1" y1="-52.4" x2="8.0" y2="-48.4" stroke="#111" stroke-width="0.95"/><path d="M8.3,-46.9 L6.9,-49.0 L8.7,-49.4 Z" fill="#111"/><line x1="14.0" y1="-50.2" x2="18.0" y2="-48.4" stroke="#111" stroke-width="0.95"/><path d="M19.3,-47.7 L16.8,-47.9 L17.5,-49.6 Z" fill="#111"/><line x1="23.9" y1="-50.5" x2="25.8" y2="-49.8" stroke="#111" stroke-width="0.95"/><path d="M27.2,-49.3 L24.7,-49.3 L25.3,-51.0 Z" fill="#111"/><line x1="32.3" y1="-52.9" x2="34.1" y2="-48.9" stroke="#111" stroke-width="0.95"/><path d="M34.7,-47.5 L32.9,-49.4 L34.5,-50.1 Z" fill="#111"/><line x1="39.8" y1="-52.7" x2="41.3" y2="-48.6" stroke="#111" stroke-width="0.95"/><path d="M41.8,-47.2 L40.2,-49.1 L41.8,-49.7 Z" fill="#111"/><line x1="47.6" y1="-50.7" x2="50.0" y2="-49.3" stroke="#111" stroke-width="0.95"/><path d="M51.3,-48.5 L48.8,-48.9 L49.7,-50.5 Z" fill="#111"/><line x1="54.8" y1="-50.4" x2="56.8" y2="-48.9" stroke="#111" stroke-width="0.95"/><path d="M58.1,-48.1 L55.6,-48.7 L56.6,-50.2 Z" fill="#111"/><line x1="-36.3" y1="-43.8" x2="-35.6" y2="-41.9" stroke="#111" stroke-width="0.95"/><path d="M-35.2,-40.5 L-36.8,-42.5 L-35.1,-43.0 Z" fill="#111"/><line x1="-28.6" y1="-45.9" x2="-27.8" y2="-42.0" stroke="#111" stroke-width="0.95"/><path d="M-27.5,-40.5 L-28.9,-42.7 L-27.1,-43.1 Z" fill="#111"/><line x1="-21.1" y1="-45.8" x2="-18.7" y2="-42.5" stroke="#111" stroke-width="0.95"/><path d="M-17.8,-41.3 L-20.0,-42.7 L-18.5,-43.8 Z" fill="#111"/><line x1="-11.3" y1="-45.7" x2="-10.1" y2="-42.2" stroke="#111" stroke-width="0.95"/><path d="M-9.6,-40.7 L-11.3,-42.7 L-9.6,-43.3 Z" fill="#111"/><line x1="-5.4" y1="-43.2" x2="-1.8" y2="-42.0" stroke="#111" stroke-width="0.95"/><path d="M-0.4,-41.5 L-3.0,-41.5 L-2.4,-43.2 Z" fill="#111"/><line x1="3.2" y1="-45.5" x2="3.9" y2="-43.0" stroke="#111" stroke-width="0.95"/><path d="M4.4,-41.6 L2.8,-43.6 L4.5,-44.2 Z" fill="#111"/><line x1="12.4" y1="-44.7" x2="13.5" y2="-42.1" stroke="#111" stroke-width="0.95"/><path d="M14.1,-40.7 L12.3,-42.5 L14.0,-43.2 Z" fill="#111"/><line x1="19.5" y1="-45.7" x2="20.7" y2="-42.4" stroke="#111" stroke-width="0.95"/><path d="M21.2,-41.0 L19.5,-42.9 L21.2,-43.5 Z" fill="#111"/><line x1="27.6" y1="-43.1" x2="31.0" y2="-42.5" stroke="#111" stroke-width="0.95"/><path d="M32.4,-42.2 L29.9,-41.8 L30.3,-43.6 Z" fill="#111"/><line x1="33.5" y1="-44.7" x2="37.7" y2="-44.3" stroke="#111" stroke-width="0.95"/><path d="M39.2,-44.2 L36.7,-43.5 L36.9,-45.3 Z" fill="#111"/><line x1="43.4" y1="-43.8" x2="46.5" y2="-42.1" stroke="#111" stroke-width="0.95"/><path d="M47.9,-41.4 L45.3,-41.7 L46.2,-43.3 Z" fill="#111"/><line x1="52.1" y1="-44.8" x2="53.9" y2="-42.9" stroke="#111" stroke-width="0.95"/><path d="M54.9,-41.9 L52.6,-42.9 L53.9,-44.2 Z" fill="#111"/><line x1="-32.6" y1="-38.0" x2="-28.9" y2="-36.5" stroke="#111" stroke-width="0.95"/><path d="M-27.5,-36.0 L-30.1,-36.0 L-29.4,-37.7 Z" fill="#111"/><line x1="-23.6" y1="-39.1" x2="-22.3" y2="-37.3" stroke="#111" stroke-width="0.95"/><path d="M-21.4,-36.1 L-23.5,-37.5 L-22.1,-38.5 Z" fill="#111"/><line x1="-17.7" y1="-36.5" x2="-15.1" y2="-36.4" stroke="#111" stroke-width="0.95"/><path d="M-13.6,-36.3 L-16.0,-35.5 L-15.9,-37.3 Z" fill="#111"/><line x1="-7.8" y1="-37.6" x2="-5.4" y2="-37.2" stroke="#111" stroke-width="0.95"/><path d="M-3.9,-36.9 L-6.5,-36.4 L-6.2,-38.2 Z" fill="#111"/><line x1="-2.2" y1="-37.0" x2="2.0" y2="-36.4" stroke="#111" stroke-width="0.95"/><path d="M3.5,-36.2 L1.0,-35.6 L1.2,-37.4 Z" fill="#111"/><line x1="7.8" y1="-37.6" x2="8.6" y2="-35.0" stroke="#111" stroke-width="0.95"/><path d="M9.0,-33.5 L7.4,-35.5 L9.2,-36.1 Z" fill="#111"/><line x1="14.1" y1="-37.5" x2="17.7" y2="-37.0" stroke="#111" stroke-width="0.95"/><path d="M19.2,-36.8 L16.7,-36.2 L16.9,-38.0 Z" fill="#111"/><line x1="23.2" y1="-39.5" x2="23.7" y2="-36.8" stroke="#111" stroke-width="0.95"/><path d="M24.0,-35.4 L22.7,-37.5 L24.5,-37.9 Z" fill="#111"/><line x1="31.6" y1="-37.8" x2="33.6" y2="-36.8" stroke="#111" stroke-width="0.95"/><path d="M34.9,-36.2 L32.4,-36.4 L33.1,-38.0 Z" fill="#111"/><line x1="41.0" y1="-37.4" x2="41.5" y2="-35.1" stroke="#111" stroke-width="0.95"/><path d="M41.8,-33.7 L40.4,-35.8 L42.2,-36.2 Z" fill="#111"/><line x1="47.5" y1="-38.6" x2="48.2" y2="-35.3" stroke="#111" stroke-width="0.95"/><path d="M48.5,-33.8 L47.1,-36.0 L48.9,-36.4 Z" fill="#111"/><line x1="55.2" y1="-37.5" x2="58.3" y2="-36.3" stroke="#111" stroke-width="0.95"/><path d="M59.7,-35.7 L57.2,-35.8 L57.8,-37.4 Z" fill="#111"/><line x1="-27.7" y1="-32.0" x2="-26.9" y2="-29.1" stroke="#111" stroke-width="0.95"/><path d="M-26.5,-27.6 L-28.0,-29.7 L-26.3,-30.2 Z" fill="#111"/><line x1="-21.8" y1="-32.0" x2="-18.1" y2="-30.3" stroke="#111" stroke-width="0.95"/><path d="M-16.8,-29.6 L-19.3,-29.8 L-18.6,-31.5 Z" fill="#111"/><line x1="-12.3" y1="-32.0" x2="-9.3" y2="-30.4" stroke="#111" stroke-width="0.95"/><path d="M-8.0,-29.8 L-10.5,-30.0 L-9.7,-31.6 Z" fill="#111"/><line x1="-4.4" y1="-31.0" x2="-2.5" y2="-30.3" stroke="#111" stroke-width="0.95"/><path d="M-1.1,-29.8 L-3.6,-29.7 L-3.0,-31.4 Z" fill="#111"/><line x1="3.1" y1="-32.4" x2="4.7" y2="-30.9" stroke="#111" stroke-width="0.95"/><path d="M5.7,-29.9 L3.4,-30.9 L4.7,-32.2 Z" fill="#111"/><line x1="9.7" y1="-31.3" x2="13.4" y2="-29.7" stroke="#111" stroke-width="0.95"/><path d="M14.8,-29.1 L12.2,-29.3 L12.9,-30.9 Z" fill="#111"/><line x1="18.8" y1="-30.4" x2="22.0" y2="-29.7" stroke="#111" stroke-width="0.95"/><path d="M23.4,-29.4 L20.9,-29.0 L21.3,-30.8 Z" fill="#111"/><line x1="28.7" y1="-32.8" x2="29.3" y2="-30.5" stroke="#111" stroke-width="0.95"/><path d="M29.6,-29.0 L28.2,-31.1 L29.9,-31.6 Z" fill="#111"/><line x1="36.4" y1="-31.1" x2="37.5" y2="-28.6" stroke="#111" stroke-width="0.95"/><path d="M38.1,-27.2 L36.3,-29.0 L38.0,-29.7 Z" fill="#111"/><line x1="43.2" y1="-32.1" x2="44.0" y2="-29.5" stroke="#111" stroke-width="0.95"/><path d="M44.4,-28.0 L42.9,-30.1 L44.6,-30.6 Z" fill="#111"/><line x1="52.9" y1="-32.5" x2="53.5" y2="-30.5" stroke="#111" stroke-width="0.95"/><path d="M53.9,-29.1 L52.4,-31.1 L54.1,-31.6 Z" fill="#111"/><line x1="-16.7" y1="-26.6" x2="-14.7" y2="-23.5" stroke="#111" stroke-width="0.95"/><path d="M-13.9,-22.3 L-16.0,-23.8 L-14.5,-24.8 Z" fill="#111"/><line x1="15.9" y1="-25.2" x2="18.3" y2="-23.7" stroke="#111" stroke-width="0.95"/><path d="M19.6,-23.0 L17.1,-23.5 L18.0,-25.0 Z" fill="#111"/><line x1="23.0" y1="-26.5" x2="24.9" y2="-24.2" stroke="#111" stroke-width="0.95"/><path d="M25.8,-23.0 L23.6,-24.3 L25.0,-25.4 Z" fill="#111"/><line x1="31.5" y1="-25.8" x2="33.6" y2="-24.7" stroke="#111" stroke-width="0.95"/><path d="M34.9,-24.0 L32.4,-24.4 L33.2,-25.9 Z" fill="#111"/><line x1="39.1" y1="-26.3" x2="40.2" y2="-23.5" stroke="#111" stroke-width="0.95"/><path d="M40.8,-22.1 L39.1,-24.0 L40.7,-24.7 Z" fill="#111"/><line x1="47.2" y1="-24.5" x2="49.2" y2="-23.9" stroke="#111" stroke-width="0.95"/><path d="M50.6,-23.4 L48.0,-23.3 L48.6,-25.0 Z" fill="#111"/><line x1="28.0" y1="-20.1" x2="30.3" y2="-16.7" stroke="#111" stroke-width="0.95"/><path d="M31.2,-15.4 L29.1,-16.9 L30.6,-17.9 Z" fill="#111"/><line x1="35.2" y1="-19.1" x2="37.0" y2="-16.1" stroke="#111" stroke-width="0.95"/><path d="M37.8,-14.8 L35.8,-16.4 L37.3,-17.3 Z" fill="#111"/><line x1="44.7" y1="-18.9" x2="45.5" y2="-15.5" stroke="#111" stroke-width="0.95"/><path d="M45.8,-14.1 L44.4,-16.2 L46.2,-16.6 Z" fill="#111"/><line x1="50.1" y1="-19.0" x2="53.4" y2="-18.0" stroke="#111" stroke-width="0.95"/><path d="M54.8,-17.5 L52.3,-17.4 L52.8,-19.1 Z" fill="#111"/><line x1="40.7" y1="-13.2" x2="42.0" y2="-10.4" stroke="#111" stroke-width="0.95"/><path d="M42.7,-9.1 L40.8,-10.9 L42.4,-11.6 Z" fill="#111"/><line x1="45.6" y1="-12.3" x2="49.8" y2="-11.6" stroke="#111" stroke-width="0.95"/><path d="M51.3,-11.3 L48.8,-10.8 L49.1,-12.6 Z" fill="#111"/></g><path d="M-40.2,-27.7 L-39.3,-26.0 L-39.2,-22.0 L-37.9,-18.6 L-35.6,-17.2 L-31.4,-16.6 L-26.2,-14.9 L-23.5,-13.2 L-21.8,-9.2 L-20.1,-11.4 L-17.5,-13.2 L-14.0,-14.9 L-12.7,-18.4 L-11.8,-22.7 L-10.5,-27.1 L-8.7,-29.3 L-7.0,-31.9 L-4.8,-33.2 L-1.8,-35.1 L0.8,-34.9 L4.3,-34.9 L8.6,-34.1 L13.0,-31.9 L17.3,-31.0 L20.8,-31.4 L22.5,-28.4 L26.9,-28.4 L30.4,-26.7 L33.0,-27.1 L35.2,-24.5 L35.2,-21.0 L36.5,-18.4 L36.5,-13.2 L33.9,-11.9 L35.6,-9.7 L38.2,-7.1 L40.8,-2.7 L41.7,4.0 L42.6,9.2 L40.8,12.7 L40.0,16.2 L37.4,18.8 L35.6,22.3 L33.0,24.9 L32.1,27.5 L29.5,30.1 L24.3,32.3 L17.3,33.6 L11.2,33.6 L5.1,32.7 L5.6,27.5 L7.3,24.0 L6.0,21.4 L4.3,22.3 L5.6,19.6 L6.0,16.2 L4.3,12.7 L1.1,10.3 L-3.3,7.7 L-5.0,8.6 L-7.6,12.9 L-9.4,13.8 L-10.3,20.7 L-14.6,20.3 L-19.0,19.0 L-19.8,15.5 L-24.2,15.5 L-24.6,12.9 L-25.9,10.3 L-26.4,7.7 L-27.7,5.1 L-31.2,4.2 L-30.7,0.7 L-30.6,-6.0 L-29.9,-9.5 L-32.6,-11.0 L-34.9,-11.7 L-37.1,-13.7 L-39.1,-16.0 L-41.1,-20.0 L-41.3,-24.0 L-40.9,-27.0 Z" fill="none" stroke="#3a9a2a" stroke-width="0.8"/><path d="M-71.8,-19.0 L-70.2,-25.3 L-64.7,-27.6 L-59.2,-29.2 L-58.4,-25.3 L-60.8,-20.6 L-64.7,-18.2 L-69.4,-18.2 Z" fill="none" stroke="#3a9a2a" stroke-width="0.7"/><rect x="57.5" y="51.5" width="8" height="7" fill="#fff" stroke="#333" stroke-width="0.4"/><line x1="58.5" y1="56.5" x2="63.5" y2="56.5" stroke="#111" stroke-width="0.6"/><path d="M65,56.5 L63.2,55.5 L63.2,57.5 Z" fill="#111"/><text x="61.5" y="54.6" font-size="2.4" text-anchor="middle" fill="#222">0.5</text><ellipse cx="-61" cy="-36.2" rx="0.9" ry="1.3" fill="none" stroke="#3a9a2a" stroke-width="0.5"/><line x1="-41" y1="-52.3" x2="-38.6" y2="-52.6" stroke="#3a9a2a" stroke-width="0.7"/><circle r="73.9" fill="none" stroke="#555" stroke-width="0.6"/><g font-size="4.1" fill="#1a1a1a" text-anchor="middle"><text x="-0.3" y="-75.2">0</text><text x="41.5" y="-65.0">30E</text><text x="70.3" y="-36.5">60E</text><text x="80.3" y="1.2">90E</text><text x="70.6" y="40.1">120E</text><text x="42.8" y="68.0">150E</text><text x="-0.3" y="78.2">180</text><text x="-43.3" y="68.0">150W</text><text x="-71.6" y="40.1">120W</text><text x="-81.2" y="1.2">90W</text><text x="-71.0" y="-36.3">60W</text><text x="-42.8" y="-65.0">30W</text></g></g><text x="85.1" y="206.3" font-size="8.1" font-weight="bold" text-anchor="middle" fill="#111">(e) JJA SLP & UV850 Resp. to Pacific SST</text><g transform="translate(257.0,286.5)"><g clip-path="url(#cc)"><path d="M-74,-24 C-71.8,-33.0 -67.8,-31.7 -63.0,-34.0 C-58.2,-36.3 -51.3,-37.3 -45.0,-38.0 C-38.7,-38.7 -29.8,-38.5 -25.0,-38.0 C-20.2,-37.5 -18.0,-36.7 -16.0,-35.0 C-14.0,-33.3 -13.5,-31.5 -13.0,-28.0 C-12.5,-24.5 -12.5,-17.3 -13.0,-14.0 C-13.5,-10.7 -15.0,-10.0 -16.0,-8.0 C-17.0,-6.0 -20.2,-3.8 -19.0,-2.0 C-17.8,-0.2 -11.6,0.8 -8.5,3.0 C-5.4,5.2 -1.8,8.3 -0.5,11.0 C0.8,13.7 1.7,16.8 -0.5,19.0 C-2.7,21.2 -10.2,22.0 -13.8,24.2 C-17.4,26.4 -19.0,29.5 -22.0,32.0 C-25.0,34.5 -28.2,37.2 -32.0,39.0 C-35.8,40.8 -40.7,42.7 -45.0,43.0 C-49.3,43.3 -54.2,42.2 -58.0,41.0 C-61.8,39.8 -65.0,39.5 -68.0,36.0 C-71.0,32.5 -75.0,30.0 -76.0,20.0 C-77.0,10.0 -76.2,-15.0 -74.0,-24.0 Z" fill="#c9c9c9" opacity="1"/><path d="M-52,-54 C-51.2,-55.8 -47.8,-58.0 -45.0,-60.0 C-42.2,-62.0 -39.2,-64.2 -35.0,-66.0 C-30.8,-67.8 -25.8,-69.5 -20.0,-71.0 C-14.2,-72.5 -4.2,-74.5 0.0,-75.0 C4.2,-75.5 4.5,-76.0 5.0,-74.0 C5.5,-72.0 6.2,-65.9 3.0,-63.0 C-0.2,-60.1 -7.9,-58.6 -14.3,-56.6 C-20.7,-54.6 -29.3,-52.3 -35.2,-51.0 C-41.2,-49.7 -47.2,-48.5 -50.0,-49.0 C-52.8,-49.5 -52.8,-52.2 -52.0,-54.0 Z" fill="#c9c9c9" opacity="1"/><path d="M49.6,-53.6 C46.9,-53.0 44.7,-50.1 44.0,-46.6 C43.3,-43.1 44.5,-37.3 45.4,-32.7 C46.3,-28.1 48.4,-23.5 49.6,-18.8 C50.8,-14.2 52.0,-9.6 52.4,-4.8 C52.8,0.0 52.4,5.9 52.0,10.0 C51.6,14.1 49.3,17.7 50.0,20.0 C50.7,22.3 53.3,24.0 56.0,24.0 C58.7,24.0 62.0,24.0 66.0,20.0 C70.0,16.0 77.7,10.0 80.0,0.0 C82.3,-10.0 83.3,-31.7 80.0,-40.0 C76.7,-48.3 65.1,-47.7 60.0,-50.0 C54.9,-52.3 52.3,-54.2 49.6,-53.6 Z" fill="#c9c9c9"/><path d="M-62,54 C-62.7,52.0 -57.7,51.5 -54.0,50.0 C-50.3,48.5 -44.8,47.0 -40.0,45.0 C-35.2,43.0 -30.0,40.0 -25.0,38.0 C-20.0,36.0 -14.7,34.5 -10.0,33.0 C-5.3,31.5 -2.0,29.3 3.0,29.0 C8.0,28.7 14.7,30.8 20.0,31.0 C25.3,31.2 30.0,30.7 35.0,30.0 C40.0,29.3 45.1,26.0 49.8,26.8 C54.5,27.6 61.3,30.9 63.0,34.8 C64.7,38.7 61.8,46.1 60.0,50.0 C58.2,53.9 58.2,54.3 52.5,58.0 C46.8,61.7 34.8,69.0 26.0,72.0 C17.2,75.0 9.2,76.0 -0.5,76.0 C-10.2,76.0 -24.0,74.3 -32.3,72.0 C-40.5,69.7 -45.0,65.0 -50.0,62.0 C-55.0,59.0 -61.3,56.0 -62.0,54.0 Z" fill="#c9c9c9" opacity="1"/></g><g stroke="#7a7a7a" stroke-width="0.5" stroke-dasharray="0.7,1.3" fill="none"><circle r="17.4"/><circle r="35.1"/><circle r="53.3"/><line x1="0.0" y1="0.0" x2="0.0" y2="-73.9"/><line x1="8.7" y1="-15.1" x2="36.9" y2="-64.0"/><line x1="15.1" y1="-8.7" x2="64.0" y2="-37.0"/><line x1="0.0" y1="0.0" x2="73.9" y2="-0.0"/><line x1="15.1" y1="8.7" x2="64.0" y2="36.9"/><line x1="8.7" y1="15.1" x2="36.9" y2="64.0"/><line x1="0.0" y1="-0.0" x2="0.0" y2="73.9"/><line x1="-8.7" y1="15.1" x2="-37.0" y2="64.0"/><line x1="-15.1" y1="8.7" x2="-64.0" y2="37.0"/><line x1="-0.0" y1="-0.0" x2="-73.9" y2="0.0"/><line x1="-15.1" y1="-8.7" x2="-64.0" y2="-37.0"/><line x1="-8.7" y1="-15.1" x2="-37.0" y2="-64.0"/></g><g clip-path="url(#cc)"><ellipse rx="4.0" ry="5.5" transform="translate(-45.0,4.0) rotate(0)" fill="none" stroke="#1f1fe6" stroke-width="0.9" stroke-dasharray="2.6,1.4"/><ellipse rx="6.0" ry="8.208333333333332" transform="translate(-44.916666666666664,3.75) rotate(0)" fill="none" stroke="#111" stroke-width="0.8"/><path d="M-39.8,8.5 L-40.1,5.4 L-38.0,6.0 Z" fill="#111"/><path d="M-47.1,11.8 L-44.1,11.0 L-44.3,13.1 Z" fill="#111"/><path d="M-51.1,4.0 L-49.5,6.7 L-51.6,7.1 Z" fill="#111"/><path d="M-46.8,-4.4 L-48.2,-1.7 L-49.7,-3.3 Z" fill="#111"/><path d="M-39.9,-1.2 L-42.6,-2.7 L-41.0,-4.1 Z" fill="#111"/><ellipse rx="8.0" ry="10.916666666666666" transform="translate(-44.833333333333336,3.5) rotate(0)" fill="none" stroke="#1f1fe6" stroke-width="0.9" stroke-dasharray="2.6,1.4"/><ellipse rx="10.0" ry="13.625" transform="translate(-44.75,3.25) rotate(0)" fill="none" stroke="#111" stroke-width="0.8"/><path d="M-38.9,14.5 L-38.0,11.6 L-36.3,12.9 Z" fill="#111"/><path d="M-47.9,16.4 L-44.8,15.9 L-45.2,18.0 Z" fill="#111"/><path d="M-54.1,8.6 L-51.9,10.8 L-53.9,11.7 Z" fill="#111"/><path d="M-53.6,-3.3 L-53.4,-0.2 L-55.4,-0.8 Z" fill="#111"/><path d="M-46.2,-10.4 L-48.4,-8.3 L-49.3,-10.3 Z" fill="#111"/><path d="M-37.9,-6.9 L-40.8,-8.0 L-39.3,-9.6 Z" fill="#111"/><path d="M-34.7,3.8 L-35.9,1.0 L-33.8,0.9 Z" fill="#111"/><ellipse rx="12.0" ry="16.333333333333332" transform="translate(-44.666666666666664,3.0) rotate(0)" fill="none" stroke="#1f1fe6" stroke-width="0.9" stroke-dasharray="2.6,1.4"/><ellipse rx="14.0" ry="19.041666666666668" transform="translate(-44.583333333333336,2.75) rotate(0)" fill="none" stroke="#111" stroke-width="0.8"/><path d="M-39.0,20.4 L-37.4,17.7 L-36.1,19.4 Z" fill="#111"/><path d="M-48.8,21.1 L-45.7,20.7 L-46.2,22.8 Z" fill="#111"/><path d="M-56.3,13.5 L-53.8,15.3 L-55.7,16.5 Z" fill="#111"/><path d="M-58.6,1.0 L-57.5,3.8 L-59.7,3.8 Z" fill="#111"/><path d="M-54.4,-11.0 L-55.0,-8.0 L-56.8,-9.1 Z" fill="#111"/><path d="M-45.3,-16.4 L-47.8,-14.7 L-48.3,-16.8 Z" fill="#111"/><path d="M-36.2,-12.6 L-39.1,-13.6 L-37.8,-15.3 Z" fill="#111"/><path d="M-31.0,-2.0 L-32.8,-4.5 L-30.7,-5.1 Z" fill="#111"/><path d="M-31.9,11.0 L-32.2,7.9 L-30.1,8.5 Z" fill="#111"/><ellipse rx="16.0" ry="21.75" transform="translate(-44.5,2.5) rotate(0)" fill="none" stroke="#1f1fe6" stroke-width="0.9" stroke-dasharray="2.6,1.4"/><ellipse rx="18.0" ry="24.458333333333336" transform="translate(-44.416666666666664,2.25) rotate(0)" fill="none" stroke="#111" stroke-width="0.8"/><path d="M-39.5,25.9 L-37.4,23.6 L-36.4,25.5 Z" fill="#111"/><path d="M-49.7,25.7 L-46.7,25.5 L-47.2,27.5 Z" fill="#111"/><path d="M-58.0,18.4 L-55.4,20.0 L-57.2,21.3 Z" fill="#111"/><path d="M-62.3,6.0 L-60.7,8.7 L-62.8,9.0 Z" fill="#111"/><path d="M-60.9,-7.7 L-60.6,-4.7 L-62.7,-5.2 Z" fill="#111"/><path d="M-54.2,-18.4 L-55.4,-15.6 L-56.9,-17.1 Z" fill="#111"/><path d="M-44.2,-22.3 L-46.9,-20.9 L-47.2,-23.1 Z" fill="#111"/><path d="M-34.6,-18.3 L-37.5,-19.1 L-36.3,-20.9 Z" fill="#111"/><path d="M-28.1,-8.1 L-30.2,-10.4 L-28.2,-11.2 Z" fill="#111"/><path d="M-26.5,5.4 L-27.5,2.5 L-25.3,2.6 Z" fill="#111"/><path d="M-30.7,18.2 L-30.3,15.2 L-28.4,16.2 Z" fill="#111"/><ellipse rx="20.0" ry="27.166666666666664" transform="translate(-44.333333333333336,2.0) rotate(0)" fill="none" stroke="#1f1fe6" stroke-width="0.9" stroke-dasharray="2.6,1.4"/><ellipse rx="22.0" ry="29.875" transform="translate(-44.25,1.75) rotate(0)" fill="none" stroke="#111" stroke-width="0.8"/><path d="M-40.2,31.2 L-37.8,29.2 L-37.1,31.2 Z" fill="#111"/><path d="M-50.7,30.4 L-47.7,30.2 L-48.3,32.3 Z" fill="#111"/><path d="M-59.6,23.2 L-56.9,24.7 L-58.5,26.1 Z" fill="#111"/><path d="M-65.1,11.3 L-63.3,13.7 L-65.4,14.4 Z" fill="#111"/><path d="M-66.0,-2.9 L-65.1,0.0 L-67.3,-0.1 Z" fill="#111"/><path d="M-61.9,-16.2 L-62.1,-13.2 L-64.1,-14.1 Z" fill="#111"/><path d="M-53.5,-25.4 L-55.2,-22.8 L-56.5,-24.6 Z" fill="#111"/><path d="M-43.0,-28.2 L-45.8,-27.0 L-45.9,-29.2 Z" fill="#111"/><path d="M-33.0,-24.0 L-36.0,-24.7 L-34.8,-26.5 Z" fill="#111"/><path d="M-25.6,-14.2 L-27.9,-16.3 L-26.0,-17.3 Z" fill="#111"/><path d="M-22.3,-0.8 L-23.7,-3.5 L-21.5,-3.8 Z" fill="#111"/><path d="M-23.9,13.4 L-24.3,10.3 L-22.2,10.9 Z" fill="#111"/><path d="M-30.4,25.0 L-29.4,22.1 L-27.8,23.5 Z" fill="#111"/><ellipse rx="24.0" ry="32.583333333333336" transform="translate(-44.166666666666664,1.5) rotate(0)" fill="none" stroke="#1f1fe6" stroke-width="0.9" stroke-dasharray="2.6,1.4"/><ellipse rx="26.0" ry="35.291666666666664" transform="translate(-44.083333333333336,1.25) rotate(0)" fill="none" stroke="#111" stroke-width="0.8"/><path d="M-41.0,36.4 L-38.4,34.6 L-37.9,36.7 Z" fill="#111"/><path d="M-51.7,35.1 L-48.7,34.9 L-49.3,37.0 Z" fill="#111"/><path d="M-61.1,28.1 L-58.3,29.4 L-59.8,30.9 Z" fill="#111"/><path d="M-67.5,16.6 L-65.5,18.8 L-67.5,19.7 Z" fill="#111"/><path d="M-70.1,2.4 L-68.8,5.2 L-71.0,5.3 Z" fill="#111"/><path d="M-68.2,-12.1 L-67.9,-9.0 L-70.0,-9.6 Z" fill="#111"/><path d="M-62.0,-24.4 L-62.8,-21.4 L-64.5,-22.6 Z" fill="#111"/><path d="M-52.6,-32.2 L-54.6,-29.8 L-55.6,-31.7 Z" fill="#111"/><path d="M-41.7,-34.0 L-44.6,-33.0 L-44.6,-35.1 Z" fill="#111"/><path d="M-31.5,-29.7 L-34.5,-30.4 L-33.3,-32.2 Z" fill="#111"/><path d="M-23.4,-20.3 L-25.9,-22.1 L-24.1,-23.3 Z" fill="#111"/><path d="M-18.8,-7.2 L-20.5,-9.8 L-18.4,-10.2 Z" fill="#111"/><path d="M-18.5,7.5 L-19.3,4.5 L-17.1,4.7 Z" fill="#111"/><path d="M-22.6,21.2 L-22.4,18.1 L-20.4,19.0 Z" fill="#111"/><path d="M-30.6,31.5 L-29.2,28.7 L-27.7,30.3 Z" fill="#111"/><ellipse rx="28.0" ry="38.0" transform="translate(-44.0,1.0) rotate(0)" fill="none" stroke="#1f1fe6" stroke-width="0.9" stroke-dasharray="2.6,1.4"/><path d="M-48,-44 C-45.0,-44.2 -35.7,-45.2 -30.0,-45.0 C-24.3,-44.8 -17.3,-44.5 -14.0,-43.0 C-10.7,-41.5 -10.5,-39.3 -10.0,-36.0 C-9.5,-32.7 -10.0,-27.7 -11.0,-23.0 C-12.0,-18.3 -16.5,-11.5 -16.0,-8.0 C-15.5,-4.5 -10.8,-5.0 -8.0,-2.0 C-5.2,1.0 -0.5,6.3 1.0,10.0 C2.5,13.7 3.2,17.3 1.0,20.0 C-1.2,22.7 -7.8,23.7 -12.0,26.0 C-16.2,28.3 -20.0,31.3 -24.0,34.0 C-28.0,36.7 -31.7,40.0 -36.0,42.0 C-40.3,44.0 -45.0,46.0 -50.0,46.0 C-55.0,46.0 -63.3,42.7 -66.0,42.0" fill="none" stroke="#1f1fe6" stroke-width="0.9" stroke-dasharray="2.6,1.4" stroke-linecap="round"/><path d="M-16,-38 C-15.8,-36.0 -14.7,-30.7 -15.0,-26.0 C-15.3,-21.3 -16.8,-14.3 -18.0,-10.0 C-19.2,-5.7 -23.0,-2.7 -22.0,0.0 C-21.0,2.7 -14.8,4.0 -12.0,6.0 C-9.2,8.0 -6.0,10.0 -5.0,12.0 C-4.0,14.0 -4.2,16.3 -6.0,18.0 C-7.8,19.7 -13.0,20.3 -16.0,22.0 C-19.0,23.7 -22.7,27.0 -24.0,28.0" fill="none" stroke="#1f1fe6" stroke-width="0.9" stroke-dasharray="2.6,1.4" stroke-linecap="round"/><ellipse rx="8" ry="3.5" transform="translate(-31,-65.3) rotate(-10)" fill="none" stroke="#e8261e" stroke-width="1.0"/><ellipse rx="16" ry="6.5" transform="translate(-28,-63) rotate(-12)" fill="none" stroke="#111" stroke-width="0.8"/><path d="M-12.0,-64.6 L-13.6,-67.2 L-11.5,-67.6 Z" fill="#111"/><path d="M-36.5,-55.9 L-33.6,-56.9 L-33.6,-54.7 Z" fill="#111"/><path d="M-35.4,-67.6 L-37.5,-65.4 L-38.4,-67.4 Z" fill="#111"/><path d="M-56.1,-47.2 C-54.2,-47.5 -48.5,-48.5 -45.0,-49.0 C-41.5,-49.5 -38.7,-49.3 -35.2,-50.0 C-31.7,-50.7 -27.5,-52.1 -24.0,-53.0 C-20.5,-53.9 -17.5,-54.6 -14.3,-55.6 C-11.1,-56.6 -7.9,-57.8 -5.0,-59.0 C-2.1,-60.2 0.8,-61.1 3.0,-62.6 C5.2,-64.1 7.2,-67.1 8.0,-68.0" fill="none" stroke="#e8261e" stroke-width="1.0" stroke-linecap="round"/><path d="M-50,-54 C-47.5,-54.7 -40.0,-56.5 -35.0,-58.0 C-30.0,-59.5 -25.0,-61.3 -20.0,-63.0 C-15.0,-64.7 -8.7,-66.5 -5.0,-68.0 C-1.3,-69.5 0.8,-71.3 2.0,-72.0" fill="none" stroke="#e8261e" stroke-width="1.0" stroke-linecap="round"/><path d="M-64.41208169184607,-39.442285921461234 C-62.1,-40.1 -55.2,-42.4 -50.3,-43.5 C-45.5,-44.6 -40.2,-45.2 -35.2,-46.0 C-30.2,-46.7 -25.2,-47.2 -20.2,-48.0 C-15.2,-48.7 -10.2,-49.9 -5.2,-50.5 C-0.1,-51.1 4.9,-51.5 10.0,-51.5 C15.1,-51.5 21.0,-51.2 25.2,-50.5 C29.5,-49.8 33.7,-47.9 35.4,-47.4" fill="none" stroke="#111" stroke-width="0.8" stroke-linecap="round"/><path d="M-50.5,-43.4 L-53.0,-41.6 L-53.6,-43.7 Z" fill="#111"/><path d="M-25.4,-47.3 L-28.1,-45.8 L-28.4,-48.0 Z" fill="#111"/><path d="M-0.3,-50.8 L-3.1,-49.5 L-3.3,-51.7 Z" fill="#111"/><path d="M25.0,-50.5 L22.0,-49.6 L22.2,-51.8 Z" fill="#111"/><path d="M-63.17583661630787,-35.11542815707753 C-60.9,-35.8 -54.1,-38.0 -49.3,-39.1 C-44.6,-40.1 -39.5,-40.8 -34.6,-41.5 C-29.6,-42.3 -24.5,-42.8 -19.6,-43.5 C-14.6,-44.3 -9.6,-45.4 -4.7,-46.0 C0.3,-46.6 5.1,-47.0 10.0,-47.0 C14.9,-47.0 20.5,-46.7 24.5,-46.0 C28.5,-45.4 32.5,-43.6 34.1,-43.1" fill="none" stroke="#111" stroke-width="0.8" stroke-linecap="round"/><path d="M-49.6,-39.0 L-52.0,-37.2 L-52.6,-39.3 Z" fill="#111"/><path d="M-25.1,-42.8 L-27.8,-41.3 L-28.1,-43.5 Z" fill="#111"/><path d="M-0.7,-46.3 L-3.5,-45.0 L-3.6,-47.2 Z" fill="#111"/><path d="M24.0,-46.1 L21.1,-45.2 L21.2,-47.3 Z" fill="#111"/><ellipse rx="5" ry="20" transform="translate(64.4,-19.5) rotate(0)" fill="none" stroke="#e8261e" stroke-width="1.0"/><ellipse rx="10" ry="30" transform="translate(63.0,-15.6) rotate(0)" fill="none" stroke="#111" stroke-width="0.8"/><path d="M73.0,-13.8 L71.9,-16.7 L74.1,-16.7 Z" fill="#111"/><path d="M57.1,8.8 L59.5,10.8 L57.6,11.9 Z" fill="#111"/><path d="M58.9,-43.1 L58.4,-40.1 L56.5,-41.2 Z" fill="#111"/><path d="M52,-58 C51.6,-57.3 50.9,-55.5 49.6,-53.6 C48.3,-51.7 44.7,-50.1 44.0,-46.6 C43.3,-43.1 44.5,-37.3 45.4,-32.7 C46.3,-28.1 48.4,-23.5 49.6,-18.8 C50.8,-14.2 52.0,-9.6 52.4,-4.8 C52.8,0.0 52.4,5.9 52.0,10.0 C51.6,14.1 50.3,18.3 50.0,20.0" fill="none" stroke="#e8261e" stroke-width="1.0" stroke-linecap="round"/><path d="M58,-45.2 C57.3,-44.1 54.2,-42.5 53.7,-38.3 C53.2,-34.1 54.3,-25.1 55.0,-20.0 C55.7,-14.9 56.2,-11.0 58.0,-8.0 C59.8,-5.0 63.5,-3.0 66.0,-2.0 C68.5,-1.0 71.8,-2.0 73.0,-2.0" fill="none" stroke="#e8261e" stroke-width="1.0" stroke-linecap="round"/><path d="M40,-50 C39.7,-48.3 38.0,-43.7 38.0,-40.0 C38.0,-36.3 39.0,-32.3 40.0,-28.0 C41.0,-23.7 43.0,-18.7 44.0,-14.0 C45.0,-9.3 46.0,-4.3 46.0,0.0 C46.0,4.3 44.3,10.0 44.0,12.0" fill="none" stroke="#111" stroke-width="0.8" stroke-linecap="round"/><path d="M38.4,-37.9 L36.8,-40.6 L38.9,-40.9 Z" fill="#111"/><path d="M43.0,-17.4 L41.2,-19.8 L43.3,-20.4 Z" fill="#111"/><path d="M45.4,3.4 L44.8,0.4 L47.0,0.7 Z" fill="#111"/><ellipse rx="14" ry="6" transform="translate(-0.5,59.1) rotate(-8)" fill="none" stroke="#e8261e" stroke-width="1.0"/><ellipse rx="8" ry="3" transform="translate(-0.5,58.6) rotate(-8)" fill="none" stroke="#111" stroke-width="0.8"/><path d="M7.7,59.3 L6.2,56.6 L8.3,56.3 Z" fill="#111"/><path d="M-8.7,57.9 L-7.2,60.6 L-9.3,60.9 Z" fill="#111"/><ellipse rx="22" ry="10" transform="translate(0.8,57.3) rotate(-8)" fill="none" stroke="#111" stroke-width="0.8"/><path d="M22.8,56.0 L21.4,53.3 L23.5,53.0 Z" fill="#111"/><path d="M0.4,67.5 L3.1,66.0 L3.4,68.1 Z" fill="#111"/><path d="M-21.2,58.6 L-19.8,61.3 L-21.9,61.6 Z" fill="#111"/><path d="M1.2,47.1 L-1.5,48.6 L-1.8,46.5 Z" fill="#111"/><ellipse rx="30" ry="14" transform="translate(2.1,56.0) rotate(-8)" fill="none" stroke="#e8261e" stroke-width="1.0"/><ellipse rx="38" ry="18" transform="translate(2.1,54.6) rotate(-8)" fill="none" stroke="#111" stroke-width="0.8"/><path d="M40.0,51.1 L38.5,48.4 L40.6,48.1 Z" fill="#111"/><path d="M21.4,68.1 L23.6,66.0 L24.5,68.0 Z" fill="#111"/><path d="M-16.3,72.5 L-13.3,71.7 L-13.6,73.9 Z" fill="#111"/><path d="M-35.8,58.1 L-34.3,60.8 L-36.4,61.1 Z" fill="#111"/><path d="M-17.2,41.1 L-19.4,43.2 L-20.3,41.2 Z" fill="#111"/><path d="M20.5,36.7 L17.5,37.5 L17.8,35.3 Z" fill="#111"/><path d="M-60,52 C-59.0,51.5 -57.3,50.3 -54.0,49.0 C-50.7,47.7 -44.8,46.0 -40.0,44.0 C-35.2,42.0 -30.0,39.0 -25.0,37.0 C-20.0,35.0 -14.7,33.5 -10.0,32.0 C-5.3,30.5 -2.0,28.3 3.0,28.0 C8.0,27.7 14.7,29.8 20.0,30.0 C25.3,30.2 30.0,29.7 35.0,29.0 C40.0,28.3 45.6,27.6 49.8,25.8 C54.0,24.0 57.0,21.0 60.0,18.0 C63.0,15.0 66.7,9.7 68.0,8.0" fill="none" stroke="#e8261e" stroke-width="1.0" stroke-linecap="round"/><path d="M-56,60 C-53.3,59.0 -45.2,56.0 -40.0,54.0 C-34.8,52.0 -30.0,50.0 -25.0,48.0 C-20.0,46.0 -15.0,43.7 -10.0,42.0 C-5.0,40.3 -0.3,38.7 5.0,38.0 C10.3,37.3 16.5,38.2 22.0,38.0 C27.5,37.8 33.0,37.7 38.0,37.0 C43.0,36.3 48.0,35.5 52.0,34.0 C56.0,32.5 60.3,29.0 62.0,28.0" fill="none" stroke="#e8261e" stroke-width="1.0" stroke-linecap="round"/><path d="M-69.52941176470588,37.11764705882353 C-67.1,38.4 -59.8,44.5 -54.9,45.0 C-50.0,45.5 -45.3,42.1 -40.4,40.1 C-35.4,38.1 -30.4,35.1 -25.4,33.1 C-20.4,31.1 -15.0,29.6 -10.3,28.0 C-5.6,26.5 -2.2,24.5 2.9,24.0 C8.0,23.5 14.7,25.0 20.0,25.0 C25.3,25.0 30.2,25.0 34.8,24.0 C39.4,23.0 43.7,21.6 47.5,19.2 C51.2,16.7 55.7,10.9 57.3,9.3" fill="none" stroke="#111" stroke-width="0.8" stroke-linecap="round"/><path d="M-55.8,44.5 L-58.9,44.1 L-57.9,42.2 Z" fill="#111"/><path d="M-30.3,35.4 L-32.4,37.6 L-33.3,35.6 Z" fill="#111"/><path d="M-4.3,26.2 L-6.8,28.1 L-7.4,26.0 Z" fill="#111"/><path d="M22.8,24.8 L20.0,26.1 L19.9,23.9 Z" fill="#111"/><path d="M48.8,17.8 L47.6,20.6 L46.0,19.0 Z" fill="#111"/><path d="M-70.70588235294117,39.3235294117647 C-68.1,40.7 -60.4,47.0 -55.1,47.5 C-49.9,48.0 -44.6,44.4 -39.4,42.4 C-34.3,40.4 -29.4,37.4 -24.4,35.4 C-19.5,33.4 -14.1,31.9 -9.5,30.4 C-4.9,28.9 -1.8,27.0 3.1,26.5 C8.1,26.0 14.6,27.5 20.0,27.5 C25.4,27.5 30.5,27.5 35.3,26.5 C40.1,25.4 44.9,23.8 48.8,21.3 C52.8,18.7 57.4,12.8 59.1,11.1" fill="none" stroke="#111" stroke-width="0.8" stroke-linecap="round"/><path d="M-56.6,46.7 L-59.7,46.3 L-58.7,44.4 Z" fill="#111"/><path d="M-30.4,38.2 L-32.6,40.4 L-33.5,38.4 Z" fill="#111"/><path d="M-4.0,28.7 L-6.4,30.6 L-7.0,28.5 Z" fill="#111"/><path d="M23.8,27.2 L21.0,28.5 L20.9,26.4 Z" fill="#111"/><path d="M50.4,19.7 L49.1,22.5 L47.6,21.0 Z" fill="#111"/><path d="M12.99037237635251,26.307243398667076 C14.7,25.0 20.0,21.5 23.4,18.5 C26.8,15.5 31.2,11.3 33.5,8.4 C35.7,5.6 36.3,2.4 36.9,1.2" fill="none" stroke="#111" stroke-width="0.8" stroke-linecap="round"/><path d="M27.9,14.0 L26.6,16.8 L25.1,15.2 Z" fill="#111"/><path d="M15.4,29.5 C17.2,28.2 22.5,24.6 26.0,21.5 C29.5,18.4 34.2,14.0 36.6,10.9 C39.0,7.8 39.9,4.3 40.5,3.0" fill="none" stroke="#111" stroke-width="0.8" stroke-linecap="round"/><path d="M31.0,16.5 L29.7,19.3 L28.2,17.8 Z" fill="#111"/><path d="M17.80962762364749,32.692756601332924 C19.6,31.3 25.0,27.7 28.6,24.5 C32.3,21.3 37.2,16.7 39.7,13.4 C42.3,10.1 43.4,6.2 44.1,4.8" fill="none" stroke="#111" stroke-width="0.8" stroke-linecap="round"/><path d="M34.1,19.1 L32.8,21.9 L31.3,20.3 Z" fill="#111"/><path d="M18.0,-26.2 C18.9,-25.8 22.0,-24.6 23.3,-23.5 C24.6,-22.4 25.6,-20.2 26.0,-19.5" fill="none" stroke="#111" stroke-width="0.8" stroke-linecap="round"/><path d="M24.4,-22.9 L21.3,-23.3 L22.3,-25.2 Z" fill="#111"/><line x1="0.6" y1="-68.2" x2="1.2" y2="-66.0" stroke="#111" stroke-width="0.95"/><path d="M1.6,-64.6 L0.1,-66.6 L1.8,-67.1 Z" fill="#111"/><line x1="8.7" y1="-68.9" x2="7.7" y2="-66.2" stroke="#111" stroke-width="0.95"/><path d="M7.2,-64.7 L7.1,-67.3 L8.8,-66.7 Z" fill="#111"/><line x1="15.5" y1="-69.0" x2="14.9" y2="-66.6" stroke="#111" stroke-width="0.95"/><path d="M14.5,-65.1 L14.3,-67.7 L16.0,-67.2 Z" fill="#111"/><line x1="3.3" y1="-63.5" x2="3.9" y2="-61.5" stroke="#111" stroke-width="0.95"/><path d="M4.4,-60.0 L2.8,-62.1 L4.5,-62.6 Z" fill="#111"/><line x1="11.3" y1="-64.7" x2="11.0" y2="-60.0" stroke="#111" stroke-width="0.95"/><path d="M11.0,-58.5 L10.2,-61.0 L12.0,-60.9 Z" fill="#111"/><line x1="18.7" y1="-62.9" x2="18.9" y2="-60.8" stroke="#111" stroke-width="0.95"/><path d="M19.0,-59.4 L17.9,-61.7 L19.7,-61.8 Z" fill="#111"/><line x1="26.4" y1="-65.2" x2="25.4" y2="-60.3" stroke="#111" stroke-width="0.95"/><path d="M25.1,-58.8 L24.7,-61.3 L26.5,-61.0 Z" fill="#111"/><line x1="1.4" y1="-57.2" x2="-0.5" y2="-53.2" stroke="#111" stroke-width="0.95"/><path d="M-1.1,-51.9 L-0.9,-54.4 L0.7,-53.6 Z" fill="#111"/><line x1="8.0" y1="-56.0" x2="6.5" y2="-54.0" stroke="#111" stroke-width="0.95"/><path d="M5.6,-52.8 L6.3,-55.3 L7.7,-54.2 Z" fill="#111"/><line x1="15.8" y1="-57.3" x2="15.3" y2="-53.8" stroke="#111" stroke-width="0.95"/><path d="M15.0,-52.3 L14.5,-54.8 L16.3,-54.6 Z" fill="#111"/><line x1="22.9" y1="-57.4" x2="22.1" y2="-52.9" stroke="#111" stroke-width="0.95"/><path d="M21.8,-51.5 L21.4,-54.0 L23.1,-53.7 Z" fill="#111"/><line x1="30.6" y1="-56.7" x2="28.8" y2="-53.8" stroke="#111" stroke-width="0.95"/><path d="M28.0,-52.6 L28.5,-55.1 L30.0,-54.1 Z" fill="#111"/><line x1="38.3" y1="-56.8" x2="37.0" y2="-53.6" stroke="#111" stroke-width="0.95"/><path d="M36.4,-52.2 L36.5,-54.7 L38.1,-54.0 Z" fill="#111"/><line x1="3.7" y1="-51.5" x2="2.7" y2="-49.2" stroke="#111" stroke-width="0.95"/><path d="M2.2,-47.8 L2.2,-50.4 L3.9,-49.7 Z" fill="#111"/><line x1="12.9" y1="-51.7" x2="11.3" y2="-49.2" stroke="#111" stroke-width="0.95"/><path d="M10.4,-48.0 L11.0,-50.5 L12.5,-49.5 Z" fill="#111"/><line x1="20.0" y1="-51.3" x2="19.3" y2="-47.8" stroke="#111" stroke-width="0.95"/><path d="M19.1,-46.4 L18.6,-48.9 L20.4,-48.6 Z" fill="#111"/><line x1="26.5" y1="-51.1" x2="26.6" y2="-48.5" stroke="#111" stroke-width="0.95"/><path d="M26.6,-47.0 L25.7,-49.4 L27.5,-49.4 Z" fill="#111"/><line x1="34.1" y1="-50.2" x2="33.4" y2="-48.1" stroke="#111" stroke-width="0.95"/><path d="M33.0,-46.6 L32.9,-49.2 L34.6,-48.7 Z" fill="#111"/><line x1="1.3" y1="-45.6" x2="0.4" y2="-43.6" stroke="#111" stroke-width="0.95"/><path d="M-0.2,-42.3 L-0.1,-44.8 L1.6,-44.1 Z" fill="#111"/><line x1="7.6" y1="-46.8" x2="8.0" y2="-42.2" stroke="#111" stroke-width="0.95"/><path d="M8.2,-40.7 L7.0,-43.0 L8.8,-43.1 Z" fill="#111"/><line x1="14.9" y1="-45.1" x2="13.5" y2="-42.8" stroke="#111" stroke-width="0.95"/><path d="M12.8,-41.5 L13.2,-44.0 L14.8,-43.1 Z" fill="#111"/><line x1="22.1" y1="-45.3" x2="21.7" y2="-41.2" stroke="#111" stroke-width="0.95"/><path d="M21.6,-39.7 L20.9,-42.2 L22.7,-42.0 Z" fill="#111"/><line x1="28.8" y1="-46.3" x2="29.4" y2="-42.3" stroke="#111" stroke-width="0.95"/><path d="M29.6,-40.8 L28.3,-43.0 L30.1,-43.3 Z" fill="#111"/><line x1="36.1" y1="-45.1" x2="37.3" y2="-41.1" stroke="#111" stroke-width="0.95"/><path d="M37.7,-39.7 L36.2,-41.7 L37.9,-42.2 Z" fill="#111"/><line x1="11.6" y1="-40.7" x2="12.2" y2="-36.7" stroke="#111" stroke-width="0.95"/><path d="M12.4,-35.2 L11.1,-37.4 L12.9,-37.7 Z" fill="#111"/><line x1="19.3" y1="-39.9" x2="17.8" y2="-38.0" stroke="#111" stroke-width="0.95"/><path d="M16.8,-36.8 L17.6,-39.2 L19.0,-38.1 Z" fill="#111"/><line x1="25.9" y1="-40.3" x2="24.7" y2="-36.3" stroke="#111" stroke-width="0.95"/><path d="M24.3,-34.9 L24.1,-37.4 L25.8,-36.9 Z" fill="#111"/><line x1="32.5" y1="-39.9" x2="33.5" y2="-36.7" stroke="#111" stroke-width="0.95"/><path d="M33.9,-35.3 L32.3,-37.3 L34.1,-37.8 Z" fill="#111"/><line x1="43.0" y1="-39.3" x2="40.6" y2="-35.7" stroke="#111" stroke-width="0.95"/><path d="M39.8,-34.5 L40.4,-37.0 L41.9,-36.0 Z" fill="#111"/><line x1="15.0" y1="-34.0" x2="15.7" y2="-30.7" stroke="#111" stroke-width="0.95"/><path d="M16.0,-29.3 L14.6,-31.4 L16.4,-31.8 Z" fill="#111"/><line x1="23.7" y1="-34.3" x2="22.8" y2="-31.2" stroke="#111" stroke-width="0.95"/><path d="M22.4,-29.8 L22.2,-32.3 L23.9,-31.8 Z" fill="#111"/><line x1="30.9" y1="-33.8" x2="29.2" y2="-31.6" stroke="#111" stroke-width="0.95"/><path d="M28.3,-30.4 L29.0,-32.9 L30.5,-31.8 Z" fill="#111"/><line x1="37.2" y1="-33.9" x2="38.3" y2="-30.4" stroke="#111" stroke-width="0.95"/><path d="M38.7,-29.0 L37.1,-31.0 L38.9,-31.5 Z" fill="#111"/><line x1="27.7" y1="-27.1" x2="24.8" y2="-23.0" stroke="#111" stroke-width="0.95"/><path d="M24.0,-21.8 L24.6,-24.2 L26.1,-23.2 Z" fill="#111"/><line x1="33.1" y1="-28.0" x2="33.3" y2="-24.2" stroke="#111" stroke-width="0.95"/><path d="M33.5,-22.7 L32.4,-25.1 L34.2,-25.2 Z" fill="#111"/><line x1="42.0" y1="-26.7" x2="41.0" y2="-24.1" stroke="#111" stroke-width="0.95"/><path d="M40.4,-22.7 L40.5,-25.3 L42.1,-24.6 Z" fill="#111"/><line x1="29.1" y1="-22.0" x2="29.3" y2="-19.3" stroke="#111" stroke-width="0.95"/><path d="M29.5,-17.8 L28.3,-20.1 L30.1,-20.3 Z" fill="#111"/><line x1="37.5" y1="-22.0" x2="37.6" y2="-18.1" stroke="#111" stroke-width="0.95"/><path d="M37.6,-16.6 L36.7,-19.0 L38.5,-19.0 Z" fill="#111"/><line x1="41.3" y1="-16.2" x2="39.9" y2="-13.4" stroke="#111" stroke-width="0.95"/><path d="M39.2,-12.1 L39.5,-14.7 L41.1,-13.8 Z" fill="#111"/></g><path d="M-40.2,-27.7 L-39.3,-26.0 L-39.2,-22.0 L-37.9,-18.6 L-35.6,-17.2 L-31.4,-16.6 L-26.2,-14.9 L-23.5,-13.2 L-21.8,-9.2 L-20.1,-11.4 L-17.5,-13.2 L-14.0,-14.9 L-12.7,-18.4 L-11.8,-22.7 L-10.5,-27.1 L-8.7,-29.3 L-7.0,-31.9 L-4.8,-33.2 L-1.8,-35.1 L0.8,-34.9 L4.3,-34.9 L8.6,-34.1 L13.0,-31.9 L17.3,-31.0 L20.8,-31.4 L22.5,-28.4 L26.9,-28.4 L30.4,-26.7 L33.0,-27.1 L35.2,-24.5 L35.2,-21.0 L36.5,-18.4 L36.5,-13.2 L33.9,-11.9 L35.6,-9.7 L38.2,-7.1 L40.8,-2.7 L41.7,4.0 L42.6,9.2 L40.8,12.7 L40.0,16.2 L37.4,18.8 L35.6,22.3 L33.0,24.9 L32.1,27.5 L29.5,30.1 L24.3,32.3 L17.3,33.6 L11.2,33.6 L5.1,32.7 L5.6,27.5 L7.3,24.0 L6.0,21.4 L4.3,22.3 L5.6,19.6 L6.0,16.2 L4.3,12.7 L1.1,10.3 L-3.3,7.7 L-5.0,8.6 L-7.6,12.9 L-9.4,13.8 L-10.3,20.7 L-14.6,20.3 L-19.0,19.0 L-19.8,15.5 L-24.2,15.5 L-24.6,12.9 L-25.9,10.3 L-26.4,7.7 L-27.7,5.1 L-31.2,4.2 L-30.7,0.7 L-30.6,-6.0 L-29.9,-9.5 L-32.6,-11.0 L-34.9,-11.7 L-37.1,-13.7 L-39.1,-16.0 L-41.1,-20.0 L-41.3,-24.0 L-40.9,-27.0 Z" fill="none" stroke="#3a9a2a" stroke-width="0.8"/><path d="M-71.8,-19.0 L-70.2,-25.3 L-64.7,-27.6 L-59.2,-29.2 L-58.4,-25.3 L-60.8,-20.6 L-64.7,-18.2 L-69.4,-18.2 Z" fill="none" stroke="#3a9a2a" stroke-width="0.7"/><rect x="57.5" y="51.5" width="8" height="7" fill="#fff" stroke="#333" stroke-width="0.4"/><line x1="58.5" y1="56.5" x2="63.5" y2="56.5" stroke="#111" stroke-width="0.6"/><path d="M65,56.5 L63.2,55.5 L63.2,57.5 Z" fill="#111"/><text x="61.5" y="54.6" font-size="2.4" text-anchor="middle" fill="#222">0.5</text><ellipse cx="-61" cy="-36.2" rx="0.9" ry="1.3" fill="none" stroke="#3a9a2a" stroke-width="0.5"/><line x1="-41" y1="-52.3" x2="-38.6" y2="-52.6" stroke="#3a9a2a" stroke-width="0.7"/><circle r="73.9" fill="none" stroke="#555" stroke-width="0.6"/><g font-size="4.1" fill="#1a1a1a" text-anchor="middle"><text x="-0.3" y="-75.2">0</text><text x="41.5" y="-65.0">30E</text><text x="70.3" y="-36.5">60E</text><text x="80.3" y="1.2">90E</text><text x="70.6" y="40.1">120E</text><text x="42.8" y="68.0">150E</text><text x="-0.3" y="78.2">180</text><text x="-43.3" y="68.0">150W</text><text x="-71.6" y="40.1">120W</text><text x="-81.2" y="1.2">90W</text><text x="-71.0" y="-36.3">60W</text><text x="-42.8" y="-65.0">30W</text></g></g><text x="257.0" y="206.3" font-size="8.1" font-weight="bold" text-anchor="middle" fill="#111">(f) SON SLP & UV850 Resp. to Pacific SST</text><g transform="translate(429.0,286.5)"><g clip-path="url(#cc)"><circle r="74" fill="#c9c9c9"/><path d="M-76,-30 L-60,-38.5 L-46,-41 L-32,-44.5 L-18,-48.5 L-4,-53 L5,-58 L21.9,-59.5 L29.5,-56.5 L36.5,-49.5 L43.5,-42.5 L50.5,-34 L57.5,-21.5 L64.5,-10 L69,-2 L76,5 L76,26 L63,29 L54.7,29.5 L40.8,32.5 L26.9,39.5 L12.9,42.5 L-1,42.5 L-27,45 L-53.5,48 L-76,46 Z" fill="#fff"/><path d="M-76,-20 C-73.3,-30.0 -65.0,-26.3 -60.0,-27.7 C-55.0,-29.1 -50.7,-27.9 -46.1,-28.4 C-41.5,-28.9 -36.8,-30.4 -32.2,-30.5 C-27.6,-30.6 -21.3,-28.9 -18.3,-29.1 C-15.3,-29.3 -16.4,-29.4 -14.1,-31.9 C-11.8,-34.4 -6.8,-41.1 -4.3,-43.9 C-1.8,-46.7 -2.2,-47.6 1.0,-48.6 C4.2,-49.6 10.2,-50.5 14.9,-50.0 C19.6,-49.5 25.2,-47.4 28.9,-45.8 C32.6,-44.2 34.9,-42.6 37.2,-40.3 C39.5,-38.0 40.9,-35.2 42.8,-31.9 C44.7,-28.6 46.8,-24.4 48.4,-20.7 C50.0,-17.0 51.8,-13.6 52.6,-9.6 C53.4,-5.6 53.4,-0.6 53.0,3.5 C52.6,7.6 51.3,11.6 50.0,15.0 C48.7,18.4 47.5,21.5 45.0,24.0 C42.5,26.5 39.2,28.5 35.0,30.0 C30.8,31.5 25.8,32.4 20.0,33.0 C14.2,33.6 6.7,33.0 0.0,33.5 C-6.7,34.0 -13.3,35.2 -20.0,36.0 C-26.7,36.8 -33.3,38.0 -40.0,38.0 C-46.7,38.0 -54.0,37.0 -60.0,36.0 C-66.0,35.0 -73.3,41.3 -76.0,32.0 C-78.7,22.7 -78.7,-10.0 -76.0,-20.0 Z" fill="#c9c9c9"/></g><g stroke="#7a7a7a" stroke-width="0.5" stroke-dasharray="0.7,1.3" fill="none"><circle r="17.4"/><circle r="35.1"/><circle r="53.3"/><line x1="0.0" y1="0.0" x2="0.0" y2="-73.9"/><line x1="8.7" y1="-15.1" x2="36.9" y2="-64.0"/><line x1="15.1" y1="-8.7" x2="64.0" y2="-37.0"/><line x1="0.0" y1="0.0" x2="73.9" y2="-0.0"/><line x1="15.1" y1="8.7" x2="64.0" y2="36.9"/><line x1="8.7" y1="15.1" x2="36.9" y2="64.0"/><line x1="0.0" y1="-0.0" x2="0.0" y2="73.9"/><line x1="-8.7" y1="15.1" x2="-37.0" y2="64.0"/><line x1="-15.1" y1="8.7" x2="-64.0" y2="37.0"/><line x1="-0.0" y1="-0.0" x2="-73.9" y2="0.0"/><line x1="-15.1" y1="-8.7" x2="-64.0" y2="-37.0"/><line x1="-8.7" y1="-15.1" x2="-37.0" y2="-64.0"/></g><g clip-path="url(#cc)"><ellipse rx="4.0" ry="5.0" transform="translate(-45.6,5.6) rotate(-5)" fill="none" stroke="#1f1fe6" stroke-width="0.9" stroke-dasharray="2.6,1.4"/><ellipse rx="7.0" ry="8.642857142857142" transform="translate(-45.4,5.414285714285714) rotate(-5)" fill="none" stroke="#111" stroke-width="0.8"/><path d="M-39.0,9.8 L-39.5,6.7 L-37.3,7.2 Z" fill="#111"/><path d="M-46.9,14.1 L-44.0,13.0 L-44.0,15.1 Z" fill="#111"/><path d="M-52.5,6.4 L-50.6,8.9 L-52.7,9.5 Z" fill="#111"/><path d="M-48.5,-2.8 L-49.8,-0.0 L-51.3,-1.6 Z" fill="#111"/><path d="M-40.2,-0.4 L-43.1,-1.5 L-41.7,-3.1 Z" fill="#111"/><ellipse rx="10.0" ry="12.285714285714285" transform="translate(-45.2,5.228571428571429) rotate(-5)" fill="none" stroke="#1f1fe6" stroke-width="0.9" stroke-dasharray="2.6,1.4"/><ellipse rx="13.0" ry="15.928571428571429" transform="translate(-45.0,5.042857142857143) rotate(-5)" fill="none" stroke="#111" stroke-width="0.8"/><path d="M-36.1,17.2 L-35.3,14.2 L-33.5,15.5 Z" fill="#111"/><path d="M-47.2,20.8 L-44.2,19.9 L-44.4,22.1 Z" fill="#111"/><path d="M-56.3,12.6 L-53.9,14.5 L-55.8,15.6 Z" fill="#111"/><path d="M-57.2,-1.2 L-56.8,1.8 L-58.9,1.4 Z" fill="#111"/><path d="M-48.7,-10.5 L-50.8,-8.2 L-51.8,-10.2 Z" fill="#111"/><path d="M-37.5,-7.8 L-40.5,-8.5 L-39.3,-10.3 Z" fill="#111"/><path d="M-31.9,4.3 L-33.5,1.6 L-31.3,1.3 Z" fill="#111"/><ellipse rx="16.0" ry="19.57142857142857" transform="translate(-44.800000000000004,4.857142857142857) rotate(-5)" fill="none" stroke="#1f1fe6" stroke-width="0.9" stroke-dasharray="2.6,1.4"/><ellipse rx="19.0" ry="23.214285714285715" transform="translate(-44.6,4.671428571428571) rotate(-5)" fill="none" stroke="#111" stroke-width="0.8"/><path d="M-34.8,25.0 L-33.3,22.3 L-31.9,24.0 Z" fill="#111"/><path d="M-47.7,27.5 L-44.7,26.8 L-45.0,28.9 Z" fill="#111"/><path d="M-58.9,19.4 L-56.3,21.0 L-57.9,22.3 Z" fill="#111"/><path d="M-63.7,4.5 L-62.4,7.3 L-64.5,7.5 Z" fill="#111"/><path d="M-59.5,-10.5 L-60.0,-7.5 L-61.9,-8.5 Z" fill="#111"/><path d="M-48.2,-18.3 L-50.6,-16.5 L-51.2,-18.5 Z" fill="#111"/><path d="M-35.3,-15.3 L-38.4,-15.8 L-37.3,-17.7 Z" fill="#111"/><path d="M-26.8,-3.1 L-28.9,-5.4 L-26.9,-6.2 Z" fill="#111"/><path d="M-26.5,12.8 L-27.0,9.7 L-24.8,10.2 Z" fill="#111"/><ellipse rx="22.0" ry="26.857142857142858" transform="translate(-44.400000000000006,4.485714285714286) rotate(-5)" fill="none" stroke="#1f1fe6" stroke-width="0.9" stroke-dasharray="2.6,1.4"/><ellipse rx="25.0" ry="30.5" transform="translate(-44.2,4.3) rotate(-5)" fill="none" stroke="#111" stroke-width="0.8"/><path d="M-34.2,32.7 L-32.3,30.3 L-31.2,32.2 Z" fill="#111"/><path d="M-48.3,34.2 L-45.3,33.6 L-45.6,35.7 Z" fill="#111"/><path d="M-60.9,26.3 L-58.1,27.6 L-59.6,29.1 Z" fill="#111"/><path d="M-68.3,11.6 L-66.5,14.0 L-68.6,14.6 Z" fill="#111"/><path d="M-68.2,-5.6 L-67.7,-2.6 L-69.8,-3.0 Z" fill="#111"/><path d="M-60.3,-19.8 L-61.4,-16.9 L-63.0,-18.3 Z" fill="#111"/><path d="M-47.2,-26.1 L-49.8,-24.5 L-50.2,-26.6 Z" fill="#111"/><path d="M-33.3,-22.8 L-36.4,-23.1 L-35.4,-25.0 Z" fill="#111"/><path d="M-22.9,-11.0 L-25.3,-12.9 L-23.4,-14.0 Z" fill="#111"/><path d="M-19.1,5.7 L-20.3,2.8 L-18.1,2.7 Z" fill="#111"/><path d="M-23.3,22.0 L-23.0,19.0 L-21.0,19.9 Z" fill="#111"/><path d="M-9.200000000000001,-37.2 C-7.7,-37.6 -4.6,-39.6 -0.4,-39.4 C3.8,-39.2 11.0,-37.6 16.1,-36.1 C21.2,-34.6 26.6,-32.6 30.4,-30.6 C34.2,-28.6 37.4,-27.3 39.2,-24.0 C41.0,-20.7 40.3,-14.8 41.4,-10.8 C42.5,-6.8 45.1,-3.5 45.8,0.2 C46.5,3.9 46.5,7.9 45.8,11.2 C45.1,14.5 43.6,16.9 41.4,20.0 C39.2,23.1 36.3,27.0 32.6,29.9 C28.9,32.8 24.0,36.3 19.4,37.6 C14.8,38.9 9.3,38.7 5.1,37.6 C0.9,36.5 -2.8,32.8 -5.9,31.0 C-9.0,29.2 -10.5,27.7 -13.6,26.6 C-16.7,25.5 -22.8,24.8 -24.6,24.4" fill="none" stroke="#1f1fe6" stroke-width="0.9" stroke-dasharray="2.6,1.4" stroke-linecap="round"/><path d="M-10.399999999999999,-40.4 C-8.8,-40.8 -5.4,-43.0 -0.8,-42.8 C3.8,-42.6 11.6,-40.8 17.2,-39.2 C22.8,-37.6 28.6,-35.4 32.8,-33.2 C37.0,-31.0 40.4,-29.6 42.4,-26.0 C44.4,-22.4 43.6,-16.0 44.8,-11.6 C46.0,-7.2 48.8,-3.6 49.6,0.4 C50.4,4.4 50.4,8.8 49.6,12.4 C48.8,16.0 47.2,18.6 44.8,22.0 C42.4,25.4 39.2,29.6 35.2,32.8 C31.2,36.0 25.8,39.8 20.8,41.2 C15.8,42.6 9.8,42.4 5.2,41.2 C0.6,40.0 -3.4,36.0 -6.8,34.0 C-10.2,32.0 -11.8,30.4 -15.2,29.2 C-18.6,28.0 -25.2,27.2 -27.2,26.8" fill="none" stroke="#111" stroke-width="0.8" stroke-linecap="round"/><path d="M6.8,-41.3 L3.7,-40.8 L4.2,-42.9 Z" fill="#111"/><path d="M36.2,-30.6 L33.3,-31.5 L34.6,-33.2 Z" fill="#111"/><path d="M48.3,-2.9 L46.2,-5.2 L48.2,-6.0 Z" fill="#111"/><path d="M41.3,26.0 L42.4,23.1 L44.0,24.5 Z" fill="#111"/><path d="M15.0,41.2 L17.8,40.1 L17.8,42.3 Z" fill="#111"/><path d="M-13.7,30.1 L-10.6,30.6 L-11.7,32.5 Z" fill="#111"/><path d="M-11.600000000000001,-43.6 C-9.9,-44.0 -6.2,-46.4 -1.2,-46.2 C3.8,-46.0 12.2,-44.0 18.3,-42.3 C24.4,-40.6 30.7,-38.2 35.2,-35.8 C39.8,-33.4 43.4,-31.9 45.6,-28.0 C47.8,-24.1 46.9,-17.2 48.2,-12.4 C49.5,-7.6 52.5,-3.7 53.4,0.6 C54.3,4.9 54.3,9.7 53.4,13.6 C52.5,17.5 50.8,20.3 48.2,24.0 C45.6,27.7 42.1,32.2 37.8,35.7 C33.5,39.2 27.6,43.3 22.2,44.8 C16.8,46.3 10.3,46.1 5.3,44.8 C0.3,43.5 -4.0,39.2 -7.7,37.0 C-11.4,34.8 -13.1,33.1 -16.8,31.8 C-20.5,30.5 -27.6,29.6 -29.8,29.2" fill="none" stroke="#1f1fe6" stroke-width="0.9" stroke-dasharray="2.6,1.4" stroke-linecap="round"/><path d="M-13.04,-47.44 C-11.1,-47.9 -7.1,-50.5 -1.7,-50.3 C3.8,-50.0 13.0,-47.9 19.6,-46.0 C26.2,-44.1 33.1,-41.5 38.1,-38.9 C43.0,-36.3 47.1,-34.7 49.4,-30.4 C51.8,-26.1 50.9,-18.6 52.3,-13.4 C53.7,-8.2 57.0,-3.9 58.0,0.8 C58.9,5.6 58.9,10.8 58.0,15.0 C57.0,19.3 55.1,22.4 52.3,26.4 C49.4,30.4 45.7,35.4 40.9,39.2 C36.2,43.0 29.8,47.5 23.9,49.1 C18.0,50.8 10.9,50.5 5.4,49.1 C-0.0,47.7 -4.8,43.0 -8.8,40.6 C-12.8,38.2 -14.7,36.3 -18.7,34.9 C-22.7,33.5 -30.6,32.6 -32.9,32.1" fill="none" stroke="#111" stroke-width="0.8" stroke-linecap="round"/><path d="M7.0,-48.6 L3.9,-48.1 L4.3,-50.2 Z" fill="#111"/><path d="M41.9,-36.1 L38.9,-36.9 L40.2,-38.7 Z" fill="#111"/><path d="M56.3,-3.4 L54.2,-5.7 L56.2,-6.5 Z" fill="#111"/><path d="M48.3,30.9 L49.4,28.0 L51.0,29.4 Z" fill="#111"/><path d="M17.3,49.1 L20.2,48.0 L20.2,50.2 Z" fill="#111"/><path d="M-16.6,36.1 L-13.6,36.6 L-14.6,38.5 Z" fill="#111"/><path d="M-30,-28 C-28.7,-26.7 -23.3,-23.7 -22.0,-20.0 C-20.7,-16.3 -24.0,-10.0 -22.0,-6.0 C-20.0,-2.0 -14.5,2.0 -10.0,4.0 C-5.5,6.0 0.3,4.3 5.0,6.0 C9.7,7.7 15.5,11.0 18.0,14.0 C20.5,17.0 19.7,22.3 20.0,24.0" fill="none" stroke="#1f1fe6" stroke-width="0.9" stroke-dasharray="2.6,1.4" stroke-linecap="round"/><path d="M-40,-20 C-38.3,-18.7 -31.7,-16.0 -30.0,-12.0 C-28.3,-8.0 -32.0,-0.3 -30.0,4.0 C-28.0,8.3 -23.0,12.0 -18.0,14.0 C-13.0,16.0 -4.7,14.3 0.0,16.0 C4.7,17.7 8.3,22.7 10.0,24.0" fill="none" stroke="#1f1fe6" stroke-width="0.9" stroke-dasharray="2.6,1.4" stroke-linecap="round"/><ellipse rx="12.5" ry="7" transform="translate(-26.6,-62.6) rotate(-20)" fill="none" stroke="#e8261e" stroke-width="1.0"/><ellipse rx="7" ry="3.5" transform="translate(-26.6,-62.6) rotate(-20)" fill="none" stroke="#111" stroke-width="0.8"/><path d="M-19.4,-63.3 L-21.4,-65.6 L-19.4,-66.4 Z" fill="#111"/><path d="M-33.8,-61.9 L-31.8,-59.6 L-33.8,-58.8 Z" fill="#111"/><ellipse rx="22" ry="11" transform="translate(-28,-58) rotate(-20)" fill="none" stroke="#111" stroke-width="0.8"/><path d="M-6.7,-63.8 L-8.7,-66.2 L-6.7,-66.9 Z" fill="#111"/><path d="M-36.9,-45.2 L-34.1,-46.4 L-33.9,-44.3 Z" fill="#111"/><path d="M-40.1,-64.3 L-41.8,-61.7 L-43.1,-63.4 Z" fill="#111"/><ellipse rx="28" ry="14.5" transform="translate(-28,-57) rotate(-20)" fill="none" stroke="#e8261e" stroke-width="1.0"/><path d="M-70,-37 C-67.5,-37.7 -60.0,-40.1 -55.0,-41.0 C-50.0,-41.9 -45.0,-41.7 -40.0,-42.5 C-35.0,-43.3 -30.0,-44.6 -25.0,-46.0 C-20.0,-47.4 -14.5,-49.2 -10.0,-51.0 C-5.5,-52.8 -3.0,-55.3 2.0,-56.5 C7.0,-57.7 15.3,-58.4 20.0,-58.0 C24.7,-57.6 27.0,-56.0 30.0,-54.0 C33.0,-52.0 35.3,-48.8 38.0,-46.0 C40.7,-43.2 43.3,-40.5 46.0,-37.0 C48.7,-33.5 51.7,-28.8 54.0,-25.0 C56.3,-21.2 58.0,-17.5 60.0,-14.0 C62.0,-10.5 63.7,-7.0 66.0,-4.0 C68.3,-1.0 72.7,2.7 74.0,4.0" fill="none" stroke="#e8261e" stroke-width="1.0" stroke-linecap="round"/><path d="M-75.24034734589209,-28.170607855311147 C-72.8,-29.5 -65.7,-34.5 -60.9,-36.3 C-56.1,-38.1 -51.2,-38.1 -46.4,-39.0 C-41.7,-39.8 -37.1,-40.5 -32.5,-41.5 C-27.9,-42.4 -23.3,-43.0 -18.7,-44.4 C-14.2,-45.8 -8.9,-48.0 -5.0,-49.8 C-1.2,-51.5 -0.2,-53.8 4.4,-54.9 C9.0,-56.0 17.4,-57.3 22.4,-56.5 C27.4,-55.6 31.3,-52.5 34.5,-50.0 C37.8,-47.5 39.5,-44.7 42.0,-41.5 C44.4,-38.4 46.9,-35.0 49.2,-31.3 C51.4,-27.5 53.4,-23.1 55.3,-19.0 C57.1,-15.0 58.8,-10.9 60.3,-6.9 C61.9,-2.8 63.0,1.2 64.4,5.2 C65.7,9.2 67.7,15.2 68.4,17.2" fill="none" stroke="#111" stroke-width="0.8" stroke-linecap="round"/><path d="M-59.7,-37.0 L-61.7,-34.6 L-62.8,-36.5 Z" fill="#111"/><path d="M-28.0,-42.4 L-30.6,-40.8 L-31.0,-42.9 Z" fill="#111"/><path d="M1.9,-53.6 L-0.1,-51.3 L-1.1,-53.2 Z" fill="#111"/><path d="M32.3,-51.2 L29.3,-51.6 L30.3,-53.5 Z" fill="#111"/><path d="M51.8,-26.0 L49.5,-28.1 L51.5,-29.1 Z" fill="#111"/><path d="M63.9,3.7 L61.9,1.3 L64.0,0.6 Z" fill="#111"/><path d="M-73.25579159246475,-24.697635286813313 C-71.0,-26.0 -64.1,-30.9 -59.5,-32.6 C-54.9,-34.3 -50.4,-34.2 -45.7,-35.0 C-41.1,-35.8 -36.4,-36.6 -31.7,-37.5 C-27.0,-38.5 -22.3,-39.1 -17.6,-40.6 C-12.8,-42.0 -7.2,-44.4 -3.4,-46.1 C0.4,-47.9 1.2,-50.0 5.4,-51.0 C9.6,-52.1 17.3,-53.2 21.8,-52.5 C26.2,-51.8 29.2,-49.1 32.1,-46.8 C34.9,-44.6 36.5,-42.0 38.8,-39.1 C41.1,-36.1 43.6,-32.9 45.7,-29.2 C47.8,-25.6 49.8,-21.3 51.6,-17.4 C53.5,-13.4 55.1,-9.4 56.6,-5.5 C58.1,-1.5 59.2,2.5 60.6,6.5 C61.9,10.5 63.9,16.5 64.6,18.5" fill="none" stroke="#111" stroke-width="0.8" stroke-linecap="round"/><path d="M-58.3,-33.3 L-60.2,-30.9 L-61.3,-32.8 Z" fill="#111"/><path d="M-27.7,-38.4 L-30.2,-36.7 L-30.7,-38.9 Z" fill="#111"/><path d="M1.3,-48.8 L-0.7,-46.4 L-1.7,-48.3 Z" fill="#111"/><path d="M30.4,-47.7 L27.4,-48.2 L28.4,-50.1 Z" fill="#111"/><path d="M48.7,-23.2 L46.5,-25.3 L48.4,-26.2 Z" fill="#111"/><path d="M60.3,5.5 L58.3,3.1 L60.4,2.4 Z" fill="#111"/><path d="M36,-64 C37.3,-62.7 41.7,-59.0 44.0,-56.0 C46.3,-53.0 47.7,-49.7 50.0,-46.0 C52.3,-42.3 55.3,-38.0 58.0,-34.0 C60.7,-30.0 64.7,-24.0 66.0,-22.0" fill="none" stroke="#e8261e" stroke-width="1.0" stroke-linecap="round"/><path d="M46,-60 C47.3,-58.3 51.3,-53.7 54.0,-50.0 C56.7,-46.3 59.7,-41.7 62.0,-38.0 C64.3,-34.3 67.0,-29.7 68.0,-28.0" fill="none" stroke="#111" stroke-width="0.8" stroke-linecap="round"/><path d="M53.2,-51.0 L50.6,-52.6 L52.2,-53.9 Z" fill="#111"/><path d="M63.9,-34.8 L61.5,-36.7 L63.4,-37.8 Z" fill="#111"/><path d="M40,-62 C41.3,-60.0 45.3,-54.0 48.0,-50.0 C50.7,-46.0 53.3,-42.3 56.0,-38.0 C58.7,-33.7 62.7,-26.3 64.0,-24.0" fill="none" stroke="#111" stroke-width="0.8" stroke-linecap="round"/><path d="M47.2,-51.1 L44.7,-52.9 L46.5,-54.1 Z" fill="#111"/><path d="M59.3,-32.2 L56.9,-34.2 L58.8,-35.2 Z" fill="#111"/><ellipse rx="26" ry="7.5" transform="translate(7.4,63.9) rotate(-8)" fill="none" stroke="#e8261e" stroke-width="1.0"/><ellipse rx="17" ry="4.5" transform="translate(7.4,63.4) rotate(-8)" fill="none" stroke="#111" stroke-width="0.8"/><path d="M24.5,62.8 L23.0,60.1 L25.2,59.8 Z" fill="#111"/><path d="M-2.3,68.4 L0.6,67.4 L0.6,69.5 Z" fill="#111"/><path d="M0.2,60.2 L-2.3,62.1 L-2.9,60.0 Z" fill="#111"/><ellipse rx="36" ry="12" transform="translate(7.4,61.8) rotate(-8)" fill="none" stroke="#111" stroke-width="0.8"/><path d="M43.3,58.6 L41.8,55.9 L44.0,55.6 Z" fill="#111"/><path d="M7.3,73.9 L10.0,72.5 L10.3,74.6 Z" fill="#111"/><path d="M-28.5,65.0 L-27.0,67.7 L-29.2,68.0 Z" fill="#111"/><path d="M7.5,49.7 L4.8,51.1 L4.5,49.0 Z" fill="#111"/><path d="M-72,48 C-68.3,48.3 -57.8,50.2 -50.0,50.0 C-42.2,49.8 -33.3,47.8 -25.0,47.0 C-16.7,46.2 -6.7,45.5 0.0,45.0 C6.7,44.5 10.3,44.7 15.0,44.0 C19.7,43.3 23.5,42.7 28.0,41.0 C32.5,39.3 37.3,35.7 42.0,34.0 C46.7,32.3 52.3,31.7 56.0,31.0 C59.7,30.3 62.7,30.2 64.0,30.0" fill="none" stroke="#e8261e" stroke-width="1.0" stroke-linecap="round"/><path d="M-70,54 C-65.0,54.3 -50.0,56.3 -40.0,56.0 C-30.0,55.7 -19.2,53.0 -10.0,52.0 C-0.8,51.0 7.5,51.0 15.0,50.0 C22.5,49.0 29.2,47.3 35.0,46.0 C40.8,44.7 44.8,43.7 50.0,42.0 C55.2,40.3 63.3,37.0 66.0,36.0" fill="none" stroke="#e8261e" stroke-width="1.0" stroke-linecap="round"/><path d="M-74.0,40.0 C-70.0,40.3 -58.2,42.0 -50.0,42.0 C-41.8,42.0 -33.3,40.8 -25.0,40.0 C-16.7,39.2 -6.7,38.0 0.0,37.5 C6.7,37.0 10.3,37.5 15.0,37.0 C19.7,36.5 23.5,35.7 28.0,34.5 C32.5,33.3 37.5,32.1 42.0,30.0 C46.5,27.9 51.7,25.0 55.0,22.0 C58.3,19.0 60.5,15.7 62.0,12.0 C63.5,8.3 63.7,2.0 64.0,0.0" fill="none" stroke="#111" stroke-width="0.8" stroke-linecap="round"/><path d="M-56.6,41.5 L-59.5,42.3 L-59.4,40.1 Z" fill="#111"/><path d="M-25.3,40.0 L-28.1,41.3 L-28.3,39.2 Z" fill="#111"/><path d="M5.9,37.3 L3.1,38.5 L3.0,36.3 Z" fill="#111"/><path d="M36.6,31.7 L34.2,33.6 L33.6,31.6 Z" fill="#111"/><path d="M61.0,13.4 L60.2,16.4 L58.5,15.2 Z" fill="#111"/><path d="M-74.24913643956123,42.98963727473464 C-70.2,43.3 -58.3,45.0 -50.0,45.0 C-41.7,45.0 -33.1,43.7 -24.7,43.0 C-16.4,42.2 -6.5,41.0 0.2,40.5 C6.9,40.0 10.6,40.5 15.3,40.0 C20.1,39.5 24.1,38.6 28.8,37.4 C33.4,36.2 38.6,34.9 43.3,32.7 C48.0,30.5 53.4,27.5 57.0,24.2 C60.6,21.0 63.1,17.1 64.8,13.1 C66.4,9.2 66.6,2.6 67.0,0.5" fill="none" stroke="#111" stroke-width="0.8" stroke-linecap="round"/><path d="M-56.4,44.5 L-59.3,45.3 L-59.2,43.2 Z" fill="#111"/><path d="M-24.2,42.9 L-27.0,44.3 L-27.2,42.1 Z" fill="#111"/><path d="M7.9,40.2 L5.1,41.4 L5.0,39.2 Z" fill="#111"/><path d="M39.4,34.0 L37.0,35.9 L36.3,33.8 Z" fill="#111"/><path d="M63.9,14.4 L63.1,17.3 L61.4,16.1 Z" fill="#111"/><path d="M-70.0,62.0 C-65.0,62.0 -50.0,62.7 -40.0,62.0 C-30.0,61.3 -19.2,59.0 -10.0,58.0 C-0.8,57.0 6.7,57.0 15.0,56.0 C23.3,55.0 32.5,54.0 40.0,52.0 C47.5,50.0 56.7,45.3 60.0,44.0" fill="none" stroke="#111" stroke-width="0.8" stroke-linecap="round"/><path d="M-51.7,62.0 L-54.6,63.1 L-54.6,60.9 Z" fill="#111"/><path d="M-18.8,59.2 L-21.5,60.6 L-21.8,58.5 Z" fill="#111"/><path d="M14.1,56.1 L11.3,57.4 L11.1,55.2 Z" fill="#111"/><path d="M46.3,49.5 L44.1,51.5 L43.3,49.5 Z" fill="#111"/><path d="M-70.0,67.0 C-64.9,67.0 -49.8,67.7 -39.7,67.0 C-29.6,66.3 -18.7,64.0 -9.5,63.0 C-0.2,62.0 7.1,62.0 15.6,61.0 C24.1,59.9 33.6,58.9 41.3,56.8 C49.0,54.8 58.4,50.0 61.9,48.6" fill="none" stroke="#111" stroke-width="0.8" stroke-linecap="round"/><path d="M-51.4,67.0 L-54.3,68.1 L-54.3,65.9 Z" fill="#111"/><path d="M-18.1,64.1 L-20.8,65.6 L-21.1,63.4 Z" fill="#111"/><path d="M15.3,61.0 L12.5,62.3 L12.3,60.1 Z" fill="#111"/><path d="M48.0,54.2 L45.7,56.2 L44.9,54.2 Z" fill="#111"/><line x1="55.2" y1="-5.0" x2="53.3" y2="-0.0" stroke="#111" stroke-width="0.95"/><path d="M52.8,1.4 L52.8,-1.2 L54.5,-0.6 Z" fill="#111"/><line x1="62.5" y1="-4.0" x2="63.4" y2="-0.3" stroke="#111" stroke-width="0.95"/><path d="M63.8,1.1 L62.3,-1.0 L64.1,-1.4 Z" fill="#111"/><line x1="59.2" y1="1.5" x2="58.9" y2="4.5" stroke="#111" stroke-width="0.95"/><path d="M58.7,6.0 L58.1,3.5 L59.9,3.7 Z" fill="#111"/><line x1="66.5" y1="2.5" x2="67.2" y2="5.4" stroke="#111" stroke-width="0.95"/><path d="M67.6,6.8 L66.1,4.7 L67.9,4.3 Z" fill="#111"/><line x1="54.0" y1="10.1" x2="53.1" y2="12.7" stroke="#111" stroke-width="0.95"/><path d="M52.6,14.1 L52.6,11.6 L54.3,12.2 Z" fill="#111"/><line x1="63.4" y1="8.6" x2="62.8" y2="11.2" stroke="#111" stroke-width="0.95"/><path d="M62.5,12.6 L62.1,10.1 L63.9,10.5 Z" fill="#111"/><line x1="69.9" y1="9.9" x2="70.2" y2="12.8" stroke="#111" stroke-width="0.95"/><path d="M70.3,14.3 L69.2,12.0 L71.0,11.8 Z" fill="#111"/><line x1="59.1" y1="15.5" x2="59.3" y2="20.8" stroke="#111" stroke-width="0.95"/><path d="M59.4,22.3 L58.4,20.0 L60.2,19.9 Z" fill="#111"/><line x1="66.5" y1="15.1" x2="67.1" y2="20.4" stroke="#111" stroke-width="0.95"/><path d="M67.3,21.9 L66.1,19.6 L67.9,19.4 Z" fill="#111"/><line x1="55.1" y1="23.7" x2="53.7" y2="26.6" stroke="#111" stroke-width="0.95"/><path d="M53.1,27.9 L53.3,25.4 L54.9,26.1 Z" fill="#111"/><line x1="62.0" y1="22.3" x2="62.4" y2="24.7" stroke="#111" stroke-width="0.95"/><path d="M62.6,26.2 L61.4,24.0 L63.2,23.7 Z" fill="#111"/><line x1="70.0" y1="22.3" x2="71.2" y2="26.5" stroke="#111" stroke-width="0.95"/><path d="M71.6,28.0 L70.1,25.9 L71.8,25.4 Z" fill="#111"/></g><path d="M-40.2,-27.7 L-39.3,-26.0 L-39.2,-22.0 L-37.9,-18.6 L-35.6,-17.2 L-31.4,-16.6 L-26.2,-14.9 L-23.5,-13.2 L-21.8,-9.2 L-20.1,-11.4 L-17.5,-13.2 L-14.0,-14.9 L-12.7,-18.4 L-11.8,-22.7 L-10.5,-27.1 L-8.7,-29.3 L-7.0,-31.9 L-4.8,-33.2 L-1.8,-35.1 L0.8,-34.9 L4.3,-34.9 L8.6,-34.1 L13.0,-31.9 L17.3,-31.0 L20.8,-31.4 L22.5,-28.4 L26.9,-28.4 L30.4,-26.7 L33.0,-27.1 L35.2,-24.5 L35.2,-21.0 L36.5,-18.4 L36.5,-13.2 L33.9,-11.9 L35.6,-9.7 L38.2,-7.1 L40.8,-2.7 L41.7,4.0 L42.6,9.2 L40.8,12.7 L40.0,16.2 L37.4,18.8 L35.6,22.3 L33.0,24.9 L32.1,27.5 L29.5,30.1 L24.3,32.3 L17.3,33.6 L11.2,33.6 L5.1,32.7 L5.6,27.5 L7.3,24.0 L6.0,21.4 L4.3,22.3 L5.6,19.6 L6.0,16.2 L4.3,12.7 L1.1,10.3 L-3.3,7.7 L-5.0,8.6 L-7.6,12.9 L-9.4,13.8 L-10.3,20.7 L-14.6,20.3 L-19.0,19.0 L-19.8,15.5 L-24.2,15.5 L-24.6,12.9 L-25.9,10.3 L-26.4,7.7 L-27.7,5.1 L-31.2,4.2 L-30.7,0.7 L-30.6,-6.0 L-29.9,-9.5 L-32.6,-11.0 L-34.9,-11.7 L-37.1,-13.7 L-39.1,-16.0 L-41.1,-20.0 L-41.3,-24.0 L-40.9,-27.0 Z" fill="none" stroke="#3a9a2a" stroke-width="0.8"/><path d="M-71.8,-19.0 L-70.2,-25.3 L-64.7,-27.6 L-59.2,-29.2 L-58.4,-25.3 L-60.8,-20.6 L-64.7,-18.2 L-69.4,-18.2 Z" fill="none" stroke="#3a9a2a" stroke-width="0.7"/><rect x="57.5" y="51.5" width="8" height="7" fill="#fff" stroke="#333" stroke-width="0.4"/><line x1="58.5" y1="56.5" x2="63.5" y2="56.5" stroke="#111" stroke-width="0.6"/><path d="M65,56.5 L63.2,55.5 L63.2,57.5 Z" fill="#111"/><text x="61.5" y="54.6" font-size="2.4" text-anchor="middle" fill="#222">0.5</text><ellipse cx="-61" cy="-36.2" rx="0.9" ry="1.3" fill="none" stroke="#3a9a2a" stroke-width="0.5"/><line x1="-41" y1="-52.3" x2="-38.6" y2="-52.6" stroke="#3a9a2a" stroke-width="0.7"/><circle r="73.9" fill="none" stroke="#555" stroke-width="0.6"/><g font-size="4.1" fill="#1a1a1a" text-anchor="middle"><text x="-0.3" y="-75.2">0</text><text x="41.5" y="-65.0">30E</text><text x="70.3" y="-36.5">60E</text><text x="80.3" y="1.2">90E</text><text x="70.6" y="40.1">120E</text><text x="42.8" y="68.0">150E</text><text x="-0.3" y="78.2">180</text><text x="-43.3" y="68.0">150W</text><text x="-71.6" y="40.1">120W</text><text x="-81.2" y="1.2">90W</text><text x="-71.0" y="-36.3">60W</text><text x="-42.8" y="-65.0">30W</text></g></g><text x="429.0" y="206.3" font-size="8.1" font-weight="bold" text-anchor="middle" fill="#111">(g) DJF SLP & UV850 Resp. to Pacific SST</text><g transform="translate(600.3,286.5)"><g clip-path="url(#cc)"><path d="M-49.0,-50.0 C-48.6,-53.6 -45.1,-61.9 -40.6,-65.9 C-36.1,-69.9 -28.6,-72.6 -22.0,-73.9 C-15.4,-75.2 -5.7,-76.1 -0.8,-73.9 C4.1,-71.7 6.6,-65.1 7.6,-60.6 C8.6,-56.1 8.2,-50.2 5.0,-46.8 C1.8,-43.4 -5.6,-41.1 -11.4,-40.2 C-17.2,-39.3 -24.7,-40.8 -30.0,-41.5 C-35.3,-42.2 -40.0,-42.8 -43.2,-44.2 C-46.4,-45.6 -49.4,-46.4 -49.0,-50.0 Z" fill="#c9c9c9" opacity="1"/><path d="M-0.3,-80 C-13.7,-76.0 -1.5,-61.1 -0.3,-56.0 C0.9,-50.9 3.7,-49.7 6.7,-49.6 C9.7,-49.5 14.3,-54.5 17.8,-55.2 C21.3,-55.9 24.8,-55.2 27.6,-53.8 C30.4,-52.4 32.2,-49.6 34.5,-46.8 C36.8,-44.0 39.2,-40.6 41.5,-37.1 C43.8,-33.6 46.4,-29.8 48.5,-25.9 C50.6,-21.9 52.6,-17.4 54.0,-13.4 C55.4,-9.5 55.5,-4.8 56.8,-2.2 C58.1,0.4 58.1,1.3 62.0,2.0 C65.9,2.7 77.0,15.7 80.0,2.0 C83.0,-11.7 93.4,-66.3 80.0,-80.0 C66.6,-93.7 13.1,-84.0 -0.3,-80.0 Z" fill="#c9c9c9"/><ellipse cx="0" cy="0" rx="14" ry="18.5" transform="translate(-47.5,5.3) rotate(-20)" fill="#c9c9c9" opacity="1"/><path d="M-35.3,40.1 C-30.9,35.7 -17.1,30.8 -11.4,29.5 C-5.7,28.2 -6.1,30.3 -0.8,32.1 C4.5,33.9 11.6,38.3 20.4,40.1 C29.2,41.9 44.3,41.8 52.2,42.7 C60.1,43.6 67.1,41.8 68.0,45.4 C68.9,49.0 63.6,59.9 57.4,64.4 C51.2,68.9 40.7,70.6 31.0,72.4 C21.3,74.2 8.9,75.3 -0.8,75.0 C-10.5,74.7 -21.1,74.0 -27.3,70.8 C-33.5,67.6 -36.6,61.1 -37.9,56.0 C-39.2,50.9 -39.7,44.5 -35.3,40.1 Z" fill="#c9c9c9" opacity="1"/><path d="M23.4,-15.2 C24.4,-15.9 28.1,-13.9 30.0,-12.0 C31.9,-10.1 34.8,-5.3 34.5,-4.0 C34.2,-2.7 29.8,-3.3 28.0,-4.0 C26.2,-4.7 24.8,-6.1 24.0,-8.0 C23.2,-9.9 22.4,-14.5 23.4,-15.2 Z" fill="#c9c9c9" opacity="1"/></g><g stroke="#7a7a7a" stroke-width="0.5" stroke-dasharray="0.7,1.3" fill="none"><circle r="17.4"/><circle r="35.1"/><circle r="53.3"/><line x1="0.0" y1="0.0" x2="0.0" y2="-73.9"/><line x1="8.7" y1="-15.1" x2="36.9" y2="-64.0"/><line x1="15.1" y1="-8.7" x2="64.0" y2="-37.0"/><line x1="0.0" y1="0.0" x2="73.9" y2="-0.0"/><line x1="15.1" y1="8.7" x2="64.0" y2="36.9"/><line x1="8.7" y1="15.1" x2="36.9" y2="64.0"/><line x1="0.0" y1="-0.0" x2="0.0" y2="73.9"/><line x1="-8.7" y1="15.1" x2="-37.0" y2="64.0"/><line x1="-15.1" y1="8.7" x2="-64.0" y2="37.0"/><line x1="-0.0" y1="-0.0" x2="-73.9" y2="0.0"/><line x1="-15.1" y1="-8.7" x2="-64.0" y2="-37.0"/><line x1="-8.7" y1="-15.1" x2="-37.0" y2="-64.0"/></g><g clip-path="url(#cc)"><ellipse rx="24" ry="13" transform="translate(-20.7,-56.6) rotate(0)" fill="none" stroke="#e8261e" stroke-width="1.0"/><ellipse rx="4" ry="2" transform="translate(-19.4,-55.3) rotate(0)" fill="none" stroke="#e8261e" stroke-width="1.0"/><ellipse rx="11" ry="6" transform="translate(-19.9,-55.8) rotate(0)" fill="none" stroke="#111" stroke-width="0.8"/><path d="M-8.9,-54.0 L-10.0,-56.9 L-7.8,-56.9 Z" fill="#111"/><path d="M-30.9,-57.6 L-29.8,-54.7 L-32.0,-54.7 Z" fill="#111"/><ellipse rx="17" ry="9.5" transform="translate(-20.7,-56.6) rotate(0)" fill="none" stroke="#111" stroke-width="0.8"/><path d="M-3.7,-54.8 L-4.8,-57.7 L-2.6,-57.7 Z" fill="#111"/><path d="M-30.9,-48.9 L-27.8,-49.1 L-28.5,-47.0 Z" fill="#111"/><path d="M-27.5,-65.4 L-29.9,-63.5 L-30.6,-65.5 Z" fill="#111"/><path d="M-53.8,-36.8 C-49.4,-35.4 -34.4,-28.8 -27.3,-28.3 C-20.2,-27.8 -17.1,-30.5 -11.4,-33.6 C-5.7,-36.7 4.0,-44.6 7.1,-46.8" fill="none" stroke="#e8261e" stroke-width="1.0" stroke-linecap="round"/><path d="M-12,-46 C-10.1,-45.7 -3.4,-43.6 -0.3,-44.0 C2.8,-44.4 3.7,-46.9 6.7,-48.6 C9.7,-50.3 14.3,-53.5 17.8,-54.2 C21.3,-54.9 24.8,-54.2 27.6,-52.8 C30.4,-51.4 32.2,-48.6 34.5,-45.8 C36.8,-43.0 39.2,-39.6 41.5,-36.1 C43.8,-32.6 46.4,-28.8 48.5,-24.9 C50.6,-20.9 52.6,-16.4 54.0,-12.4 C55.4,-8.5 55.5,-3.8 56.8,-1.2 C58.1,1.4 59.1,2.5 62.0,3.0 C64.9,3.5 72.0,2.2 74.0,2.0" fill="none" stroke="#e8261e" stroke-width="1.0" stroke-linecap="round"/><path d="M55.4,-44.4 C55.0,-42.8 52.2,-38.6 52.7,-34.7 C53.2,-30.8 56.1,-24.8 58.2,-20.8 C60.3,-16.9 62.6,-12.4 65.2,-11.0 C67.8,-9.6 72.2,-12.2 73.6,-12.4" fill="none" stroke="#e8261e" stroke-width="1.0" stroke-linecap="round"/><path d="M-54.6286093236459,-34.92847669088526 C-52.2,-33.9 -44.8,-29.3 -39.9,-29.0 C-35.1,-28.7 -30.3,-30.9 -25.4,-32.9 C-20.4,-34.9 -14.8,-39.4 -10.3,-40.9 C-5.8,-42.5 -1.6,-41.0 1.7,-42.0 C5.0,-42.9 6.5,-45.4 9.6,-46.9 C12.6,-48.4 16.7,-50.7 19.9,-51.0 C23.1,-51.3 26.1,-50.4 28.5,-48.8 C31.0,-47.3 32.7,-44.3 34.8,-41.6 C36.9,-38.9 38.8,-35.9 40.9,-32.5 C42.9,-29.2 45.0,-25.1 46.9,-21.4 C48.7,-17.8 50.6,-13.8 51.9,-10.4 C53.3,-6.9 53.1,-3.1 54.8,-0.6 C56.5,2.0 59.1,4.1 62.3,5.0 C65.5,6.0 72.0,5.0 74.0,5.0" fill="none" stroke="#111" stroke-width="0.8" stroke-linecap="round"/><path d="M-40.1,-29.1 L-43.2,-29.2 L-42.4,-31.2 Z" fill="#111"/><path d="M-14.5,-38.7 L-16.5,-36.4 L-17.5,-38.3 Z" fill="#111"/><path d="M10.9,-47.7 L9.0,-45.3 L7.9,-47.1 Z" fill="#111"/><path d="M34.6,-41.9 L31.9,-43.3 L33.5,-44.8 Z" fill="#111"/><path d="M48.5,-18.0 L46.3,-20.2 L48.2,-21.1 Z" fill="#111"/><path d="M62.0,4.9 L59.1,4.0 L60.4,2.3 Z" fill="#111"/><path d="M-53.32874195640653,-38.17814510898367 C-51.1,-37.2 -44.1,-32.8 -39.7,-32.5 C-35.3,-32.2 -31.4,-34.2 -26.7,-36.2 C-22.0,-38.1 -16.0,-42.7 -11.4,-44.3 C-6.9,-45.8 -2.5,-44.4 0.7,-45.3 C3.9,-46.3 4.9,-48.5 8.0,-50.0 C11.1,-51.6 15.8,-54.2 19.5,-54.5 C23.2,-54.8 27.4,-53.6 30.4,-51.8 C33.4,-50.0 35.4,-46.6 37.6,-43.7 C39.8,-40.8 41.8,-37.8 43.9,-34.3 C45.9,-30.9 48.1,-26.8 50.0,-23.0 C51.9,-19.2 53.9,-15.0 55.2,-11.6 C56.5,-8.2 56.4,-4.8 57.7,-2.5 C59.1,-0.3 60.6,1.0 63.3,1.7 C66.0,2.4 72.2,1.5 74.0,1.5" fill="none" stroke="#111" stroke-width="0.8" stroke-linecap="round"/><path d="M-39.0,-32.2 L-42.1,-32.3 L-41.2,-34.3 Z" fill="#111"/><path d="M-13.7,-43.0 L-15.8,-40.7 L-16.8,-42.6 Z" fill="#111"/><path d="M11.7,-51.5 L9.4,-49.4 L8.6,-51.4 Z" fill="#111"/><path d="M35.6,-45.9 L32.9,-47.4 L34.5,-48.8 Z" fill="#111"/><path d="M50.2,-22.8 L47.8,-24.8 L49.7,-25.8 Z" fill="#111"/><path d="M62.3,1.0 L59.4,0.1 L60.7,-1.6 Z" fill="#111"/><path d="M-55.92847669088526,-31.678808272786853 C-53.3,-30.6 -45.5,-25.8 -40.2,-25.5 C-34.9,-25.2 -29.2,-27.7 -24.1,-29.7 C-18.9,-31.7 -13.7,-36.1 -9.2,-37.6 C-4.7,-39.1 -0.7,-37.6 2.7,-38.6 C6.1,-39.6 8.2,-42.3 11.1,-43.8 C14.0,-45.2 17.7,-47.2 20.3,-47.5 C22.9,-47.9 24.7,-47.2 26.6,-45.9 C28.6,-44.6 30.1,-42.0 32.0,-39.5 C33.9,-37.0 35.9,-34.0 37.9,-30.7 C39.8,-27.4 42.0,-23.5 43.8,-19.9 C45.6,-16.3 47.3,-12.7 48.7,-9.1 C50.0,-5.6 49.8,-1.5 51.9,1.4 C54.0,4.3 57.6,7.2 61.3,8.4 C65.0,9.6 71.9,8.5 74.0,8.5" fill="none" stroke="#111" stroke-width="0.8" stroke-linecap="round"/><path d="M-41.3,-25.9 L-44.4,-26.0 L-43.6,-28.0 Z" fill="#111"/><path d="M-15.2,-34.4 L-17.2,-32.1 L-18.3,-34.0 Z" fill="#111"/><path d="M10.5,-43.4 L8.6,-40.9 L7.4,-42.8 Z" fill="#111"/><path d="M33.3,-37.6 L30.8,-39.4 L32.6,-40.6 Z" fill="#111"/><path d="M46.8,-13.3 L44.6,-15.5 L46.6,-16.4 Z" fill="#111"/><path d="M61.8,8.7 L58.8,7.9 L60.1,6.2 Z" fill="#111"/><line x1="1.1" y1="-69.6" x2="2.2" y2="-67.8" stroke="#111" stroke-width="0.95"/><path d="M3.0,-66.5 L1.0,-68.1 L2.5,-69.0 Z" fill="#111"/><line x1="7.8" y1="-69.1" x2="10.4" y2="-67.5" stroke="#111" stroke-width="0.95"/><path d="M11.6,-66.7 L9.1,-67.2 L10.1,-68.7 Z" fill="#111"/><line x1="14.1" y1="-68.7" x2="16.0" y2="-67.6" stroke="#111" stroke-width="0.95"/><path d="M17.3,-66.8 L14.8,-67.3 L15.7,-68.8 Z" fill="#111"/><line x1="3.9" y1="-62.7" x2="6.4" y2="-60.8" stroke="#111" stroke-width="0.95"/><path d="M7.6,-59.9 L5.1,-60.6 L6.2,-62.1 Z" fill="#111"/><line x1="12.1" y1="-63.5" x2="13.4" y2="-61.8" stroke="#111" stroke-width="0.95"/><path d="M14.3,-60.6 L12.1,-62.0 L13.6,-63.1 Z" fill="#111"/><line x1="17.9" y1="-64.2" x2="19.3" y2="-61.8" stroke="#111" stroke-width="0.95"/><path d="M20.1,-60.5 L18.1,-62.1 L19.7,-63.0 Z" fill="#111"/><line x1="25.3" y1="-63.2" x2="27.0" y2="-61.2" stroke="#111" stroke-width="0.95"/><path d="M27.9,-60.1 L25.7,-61.3 L27.1,-62.5 Z" fill="#111"/><line x1="23.0" y1="-58.6" x2="24.5" y2="-55.8" stroke="#111" stroke-width="0.95"/><path d="M25.3,-54.5 L23.3,-56.1 L24.9,-57.0 Z" fill="#111"/><line x1="29.4" y1="-58.7" x2="30.9" y2="-55.1" stroke="#111" stroke-width="0.95"/><path d="M31.5,-53.7 L29.7,-55.6 L31.4,-56.3 Z" fill="#111"/><line x1="35.5" y1="-57.4" x2="38.4" y2="-55.6" stroke="#111" stroke-width="0.95"/><path d="M39.7,-54.8 L37.2,-55.3 L38.1,-56.8 Z" fill="#111"/><line x1="39.8" y1="-52.1" x2="41.4" y2="-48.7" stroke="#111" stroke-width="0.95"/><path d="M42.0,-47.4 L40.2,-49.2 L41.8,-49.9 Z" fill="#111"/><line x1="45.7" y1="-52.7" x2="48.4" y2="-50.0" stroke="#111" stroke-width="0.95"/><path d="M49.4,-49.0 L47.1,-50.0 L48.4,-51.3 Z" fill="#111"/><line x1="44.1" y1="-46.7" x2="45.5" y2="-43.4" stroke="#111" stroke-width="0.95"/><path d="M46.0,-42.0 L44.3,-43.9 L46.0,-44.5 Z" fill="#111"/><line x1="49.4" y1="-46.7" x2="52.1" y2="-44.9" stroke="#111" stroke-width="0.95"/><path d="M53.4,-44.1 L50.9,-44.6 L51.9,-46.1 Z" fill="#111"/><line x1="46.5" y1="-42.6" x2="48.0" y2="-38.9" stroke="#111" stroke-width="0.95"/><path d="M48.6,-37.5 L46.8,-39.4 L48.5,-40.1 Z" fill="#111"/><line x1="53.5" y1="-40.6" x2="55.4" y2="-39.4" stroke="#111" stroke-width="0.95"/><path d="M56.6,-38.6 L54.1,-39.2 L55.1,-40.7 Z" fill="#111"/><line x1="56.8" y1="-36.8" x2="58.5" y2="-33.1" stroke="#111" stroke-width="0.95"/><path d="M59.1,-31.8 L57.3,-33.6 L58.9,-34.3 Z" fill="#111"/><line x1="54.5" y1="-29.8" x2="56.4" y2="-28.3" stroke="#111" stroke-width="0.95"/><path d="M57.5,-27.4 L55.1,-28.2 L56.2,-29.6 Z" fill="#111"/><line x1="59.9" y1="-31.0" x2="61.9" y2="-27.8" stroke="#111" stroke-width="0.95"/><path d="M62.7,-26.5 L60.7,-28.1 L62.2,-29.0 Z" fill="#111"/><line x1="57.5" y1="-24.5" x2="59.4" y2="-23.2" stroke="#111" stroke-width="0.95"/><path d="M60.6,-22.4 L58.1,-23.0 L59.2,-24.5 Z" fill="#111"/><line x1="64.3" y1="-23.6" x2="67.3" y2="-21.5" stroke="#111" stroke-width="0.95"/><path d="M68.5,-20.7 L66.0,-21.3 L67.1,-22.8 Z" fill="#111"/><line x1="59.9" y1="-18.3" x2="62.1" y2="-16.5" stroke="#111" stroke-width="0.95"/><path d="M63.2,-15.5 L60.8,-16.4 L62.0,-17.8 Z" fill="#111"/><line x1="66.7" y1="-17.8" x2="68.8" y2="-15.8" stroke="#111" stroke-width="0.95"/><path d="M69.9,-14.7 L67.5,-15.7 L68.8,-17.0 Z" fill="#111"/><ellipse rx="6.6" ry="10.8" transform="translate(-47.3,7.8) rotate(-20)" fill="none" stroke="#1f1fe6" stroke-width="0.9" stroke-dasharray="2.6,1.4"/><ellipse rx="11" ry="15" transform="translate(-47,7) rotate(-20)" fill="none" stroke="#111" stroke-width="0.8"/><path d="M-36.0,4.9 L-38.0,2.6 L-36.0,1.9 Z" fill="#111"/><path d="M-49.4,20.5 L-46.4,20.4 L-47.0,22.5 Z" fill="#111"/><path d="M-55.7,-4.9 L-56.3,-1.8 L-58.1,-3.0 Z" fill="#111"/><ellipse rx="17" ry="20" transform="translate(-46,7) rotate(-15)" fill="none" stroke="#1f1fe6" stroke-width="0.9" stroke-dasharray="2.6,1.4"/><ellipse rx="22" ry="24" transform="translate(-43,7) rotate(-10)" fill="none" stroke="#111" stroke-width="0.8"/><path d="M-21.0,5.0 L-22.6,2.3 L-20.5,1.9 Z" fill="#111"/><path d="M-40.6,30.9 L-38.0,29.4 L-37.6,31.5 Z" fill="#111"/><path d="M-65.0,9.0 L-63.4,11.7 L-65.5,12.1 Z" fill="#111"/><path d="M-45.4,-16.9 L-48.0,-15.4 L-48.4,-17.5 Z" fill="#111"/><path d="M-60,-14 C-57.5,-15.0 -50.0,-19.1 -45.0,-19.8 C-40.0,-20.5 -33.5,-19.6 -30.0,-18.0 C-26.5,-16.4 -25.3,-13.0 -24.0,-10.0 C-22.7,-7.0 -23.5,-2.0 -22.0,0.0 C-20.5,2.0 -16.3,0.3 -15.0,2.0 C-13.7,3.7 -13.8,7.3 -14.0,10.0 C-14.2,12.7 -14.2,15.7 -16.0,18.0 C-17.8,20.3 -21.3,22.0 -25.0,24.0 C-28.7,26.0 -33.5,28.7 -38.0,30.0 C-42.5,31.3 -47.7,32.7 -52.0,32.0 C-56.3,31.3 -61.2,29.7 -64.0,26.0 C-66.8,22.3 -68.7,15.3 -69.0,10.0 C-69.3,4.7 -67.5,-2.0 -66.0,-6.0 C-64.5,-10.0 -61.0,-12.7 -60.0,-14.0" fill="none" stroke="#1f1fe6" stroke-width="0.9" stroke-dasharray="2.6,1.4" stroke-linecap="round"/><ellipse rx="29" ry="30" transform="translate(-42,7) rotate(-5)" fill="none" stroke="#111" stroke-width="0.8"/><path d="M-13.0,6.3 L-14.3,3.5 L-12.1,3.3 Z" fill="#111"/><path d="M-32.2,35.4 L-30.0,33.2 L-29.2,35.2 Z" fill="#111"/><path d="M-65.0,25.2 L-62.3,26.7 L-64.0,28.1 Z" fill="#111"/><path d="M-66.0,-10.1 L-66.5,-7.0 L-68.4,-8.1 Z" fill="#111"/><path d="M-33.8,-21.8 L-36.9,-21.4 L-36.4,-23.5 Z" fill="#111"/><path d="M17.8,-33.3 C19.4,-33.1 24.8,-34.0 27.6,-31.9 C30.4,-29.8 32.6,-24.5 34.5,-20.8 C36.4,-17.1 37.5,-13.3 38.7,-9.6 C39.9,-5.9 42.2,0.1 41.5,1.5 C40.8,2.9 36.8,0.2 34.5,-1.2 C32.2,-2.6 30.4,-5.4 27.6,-6.8 C24.8,-8.2 19.7,-7.3 17.8,-9.6 C15.9,-11.9 16.4,-16.9 16.4,-20.8 C16.4,-24.8 17.6,-31.2 17.8,-33.3" fill="none" stroke="#1f1fe6" stroke-width="0.9" stroke-dasharray="2.6,1.4" stroke-linecap="round"/><ellipse rx="26" ry="10" transform="translate(4.5,59.1) rotate(-5)" fill="none" stroke="#e8261e" stroke-width="1.0"/><ellipse rx="16" ry="5.5" transform="translate(4.5,59.1) rotate(-5)" fill="none" stroke="#111" stroke-width="0.8"/><path d="M20.6,59.5 L19.3,56.7 L21.4,56.5 Z" fill="#111"/><path d="M-11.6,58.7 L-10.3,61.5 L-12.4,61.7 Z" fill="#111"/><ellipse rx="34" ry="14" transform="translate(4.5,58.1) rotate(-5)" fill="none" stroke="#111" stroke-width="0.8"/><path d="M38.5,56.9 L37.2,54.2 L39.4,54.0 Z" fill="#111"/><path d="M3.9,72.2 L6.7,70.9 L6.9,73.0 Z" fill="#111"/><path d="M-29.5,59.3 L-28.2,62.0 L-30.4,62.2 Z" fill="#111"/><path d="M5.1,44.0 L2.3,45.3 L2.1,43.2 Z" fill="#111"/><ellipse rx="42" ry="19" transform="translate(5.8,56.0) rotate(-5)" fill="none" stroke="#111" stroke-width="0.8"/><path d="M47.8,54.1 L46.5,51.4 L48.6,51.2 Z" fill="#111"/><path d="M18.6,73.3 L21.1,71.6 L21.6,73.7 Z" fill="#111"/><path d="M-28.7,69.3 L-25.6,69.6 L-26.6,71.5 Z" fill="#111"/><path d="M-27.6,46.8 L-29.2,49.3 L-30.5,47.6 Z" fill="#111"/><path d="M19.0,37.0 L16.0,37.9 L16.1,35.7 Z" fill="#111"/><path d="M-53.8,48.0 C-49.4,46.8 -34.4,42.7 -27.3,40.6 C-20.2,38.5 -15.8,35.8 -11.4,35.3 C-7.0,34.8 -6.1,36.6 -0.8,37.9 C4.5,39.2 11.6,42.3 20.4,43.2 C29.2,44.1 43.6,44.5 52.2,43.2 C60.8,41.9 68.7,36.6 72.0,35.3" fill="none" stroke="#e8261e" stroke-width="1.0" stroke-linecap="round"/><path d="M-64.4,25.799999999999997 C-60.1,25.8 -47.1,26.7 -38.8,25.8 C-30.6,25.0 -21.6,21.2 -15.1,20.6 C-8.5,19.9 -5.5,21.0 0.6,21.9 C6.7,22.8 14.1,24.8 21.6,25.9 C29.2,27.0 38.0,29.3 46.0,28.4 C53.9,27.6 65.4,22.2 69.3,20.9" fill="none" stroke="#111" stroke-width="0.8" stroke-linecap="round"/><path d="M-45.6,25.8 L-48.5,26.9 L-48.5,24.8 Z" fill="#111"/><path d="M-12.2,20.8 L-15.1,21.6 L-15.0,19.5 Z" fill="#111"/><path d="M21.4,25.8 L18.4,26.4 L18.8,24.2 Z" fill="#111"/><path d="M54.8,25.6 L52.4,27.5 L51.8,25.4 Z" fill="#111"/><path d="M-64.4,30.299999999999997 C-60.1,30.3 -46.7,31.2 -38.4,30.3 C-30.1,29.4 -21.0,25.7 -14.6,25.0 C-8.2,24.4 -6.0,25.5 -0.1,26.4 C5.8,27.2 13.3,29.2 21.0,30.3 C28.8,31.4 38.2,33.8 46.4,32.9 C54.7,32.1 66.6,26.5 70.6,25.2" fill="none" stroke="#111" stroke-width="0.8" stroke-linecap="round"/><path d="M-45.4,30.3 L-48.3,31.4 L-48.3,29.2 Z" fill="#111"/><path d="M-11.7,25.3 L-14.6,26.1 L-14.4,24.0 Z" fill="#111"/><path d="M22.2,30.6 L19.2,31.1 L19.6,29.0 Z" fill="#111"/><path d="M56.0,29.9 L53.6,31.8 L52.9,29.7 Z" fill="#111"/><path d="M-64.4,34.8 C-60.0,34.8 -46.3,35.7 -37.9,34.8 C-29.5,33.9 -20.3,30.2 -14.1,29.5 C-7.9,28.8 -6.5,29.9 -0.8,30.8 C5.0,31.7 12.4,33.7 20.4,34.8 C28.3,35.9 38.3,38.3 46.9,37.4 C55.5,36.5 67.8,30.8 72.0,29.5" fill="none" stroke="#111" stroke-width="0.8" stroke-linecap="round"/><path d="M-45.3,34.8 L-48.1,35.9 L-48.1,33.7 Z" fill="#111"/><path d="M-11.2,29.8 L-14.1,30.6 L-13.9,28.4 Z" fill="#111"/><path d="M23.1,35.1 L20.1,35.9 L20.3,33.7 Z" fill="#111"/><path d="M57.2,34.2 L54.7,36.1 L54.1,34.0 Z" fill="#111"/><path d="M-64.4,39.3 C-59.9,39.3 -45.9,40.2 -37.4,39.3 C-29.0,38.4 -19.6,34.6 -13.6,34.0 C-7.6,33.3 -7.1,34.4 -1.5,35.2 C4.1,36.1 11.6,38.2 19.8,39.3 C27.9,40.4 38.4,42.8 47.4,41.9 C56.3,41.0 69.0,35.1 73.4,33.8" fill="none" stroke="#111" stroke-width="0.8" stroke-linecap="round"/><path d="M-45.1,39.3 L-48.0,40.4 L-48.0,38.2 Z" fill="#111"/><path d="M-10.7,34.3 L-13.6,35.1 L-13.4,32.9 Z" fill="#111"/><path d="M23.9,39.7 L21.0,40.5 L21.2,38.3 Z" fill="#111"/><path d="M58.3,38.5 L55.9,40.3 L55.3,38.3 Z" fill="#111"/><path d="M-66.68126086192783,-35.47802181168562 C-64.4,-35.2 -57.9,-35.4 -52.7,-34.0 C-47.6,-32.5 -40.7,-29.6 -36.0,-27.0 C-31.2,-24.4 -27.2,-21.6 -24.3,-18.2 C-21.3,-14.8 -19.4,-8.7 -18.4,-6.8" fill="none" stroke="#111" stroke-width="0.8" stroke-linecap="round"/><path d="M-50.3,-32.9 L-53.3,-33.0 L-52.5,-35.0 Z" fill="#111"/><path d="M-24.5,-18.4 L-27.4,-19.2 L-26.1,-21.0 Z" fill="#111"/><path d="M-67.1,-31.5 C-64.9,-31.3 -58.7,-31.4 -53.8,-30.1 C-48.9,-28.8 -42.3,-25.9 -37.9,-23.5 C-33.5,-21.1 -29.9,-18.7 -27.3,-15.6 C-24.7,-12.5 -22.9,-6.8 -22.0,-5.0" fill="none" stroke="#111" stroke-width="0.8" stroke-linecap="round"/><path d="M-51.6,-29.2 L-54.7,-29.3 L-53.9,-31.3 Z" fill="#111"/><path d="M-27.5,-15.8 L-30.5,-16.6 L-29.2,-18.3 Z" fill="#111"/><path d="M-67.51873913807216,-27.521978188314375 C-65.4,-27.3 -59.5,-27.5 -54.9,-26.2 C-50.2,-25.0 -43.9,-22.2 -39.8,-20.0 C-35.7,-17.8 -32.7,-15.8 -30.3,-13.0 C-28.0,-10.2 -26.4,-4.8 -25.6,-3.2" fill="none" stroke="#111" stroke-width="0.8" stroke-linecap="round"/><path d="M-53.0,-25.5 L-56.1,-25.6 L-55.3,-27.6 Z" fill="#111"/><path d="M-30.5,-13.1 L-33.5,-14.0 L-32.2,-15.7 Z" fill="#111"/><path d="M38.69030675888186,-0.20724704356301027 C40.4,1.1 45.8,5.4 49.0,7.5 C52.3,9.6 54.7,11.5 58.3,12.3 C61.9,13.1 68.6,12.2 70.7,12.2" fill="none" stroke="#111" stroke-width="0.8" stroke-linecap="round"/><path d="M47.3,6.2 L44.3,5.4 L45.6,3.6 Z" fill="#111"/><path d="M63.6,12.3 L60.7,13.4 L60.7,11.2 Z" fill="#111"/><path d="M36.3,3.0 C38.1,4.3 43.4,8.7 46.9,10.9 C50.4,13.1 53.4,15.3 57.4,16.2 C61.4,17.1 68.5,16.2 70.7,16.2" fill="none" stroke="#111" stroke-width="0.8" stroke-linecap="round"/><path d="M45.4,9.8 L42.5,8.9 L43.8,7.2 Z" fill="#111"/><path d="M62.9,16.2 L60.0,17.3 L60.0,15.1 Z" fill="#111"/><path d="M33.909693241118134,6.20724704356301 C35.7,7.6 41.0,12.0 44.8,14.3 C48.5,16.6 52.2,19.1 56.5,20.1 C60.9,21.1 68.3,20.2 70.7,20.2" fill="none" stroke="#111" stroke-width="0.8" stroke-linecap="round"/><path d="M43.5,13.4 L40.6,12.5 L41.9,10.8 Z" fill="#111"/><path d="M62.3,20.1 L59.4,21.2 L59.4,19.0 Z" fill="#111"/><path d="M-69.7,50.7 C-67.0,51.6 -59.1,54.2 -53.8,56.0 C-48.5,57.8 -42.3,59.5 -37.9,61.2 C-33.5,63.0 -29.1,65.6 -27.3,66.5" fill="none" stroke="#111" stroke-width="0.8" stroke-linecap="round"/><path d="M-57.2,54.9 L-60.3,55.0 L-59.6,52.9 Z" fill="#111"/><path d="M-35.8,62.2 L-38.9,61.9 L-37.9,60.0 Z" fill="#111"/><path d="M-71.59736659610103,56.392099788303085 C-68.9,57.3 -60.9,60.0 -55.7,61.7 C-50.4,63.4 -44.4,65.1 -40.1,66.8 C-35.8,68.5 -31.7,71.0 -30.0,71.9" fill="none" stroke="#111" stroke-width="0.8" stroke-linecap="round"/><path d="M-59.3,60.5 L-62.4,60.6 L-61.7,58.5 Z" fill="#111"/><path d="M-38.3,67.7 L-41.4,67.4 L-40.4,65.4 Z" fill="#111"/><path d="M19.685335416607053,7.9863674677056835 C21.6,7.5 27.5,5.2 31.0,5.3 C34.5,5.4 38.2,6.6 40.8,8.6 C43.4,10.6 45.7,15.8 46.7,17.2" fill="none" stroke="#111" stroke-width="0.8" stroke-linecap="round"/><path d="M37.1,7.3 L34.0,7.4 L34.7,5.4 Z" fill="#111"/><path d="M20.4,10.9 C22.2,10.5 27.9,8.3 31.0,8.3 C34.1,8.3 36.7,9.1 38.9,10.9 C41.1,12.7 43.3,17.6 44.2,18.9" fill="none" stroke="#111" stroke-width="0.8" stroke-linecap="round"/><path d="M36.0,10.0 L33.0,10.1 L33.6,8.0 Z" fill="#111"/><path d="M21.114664583392944,13.813632532294317 C22.8,13.4 28.3,11.4 31.0,11.3 C33.7,11.2 35.2,11.7 37.0,13.2 C38.8,14.8 40.9,19.3 41.7,20.6" fill="none" stroke="#111" stroke-width="0.8" stroke-linecap="round"/><path d="M35.0,12.6 L31.9,12.7 L32.6,10.7 Z" fill="#111"/><path d="M13.982192591781466,21.41602683236139 C16.2,20.5 23.2,17.9 27.1,16.2 C31.0,14.4 35.8,11.8 37.6,10.9" fill="none" stroke="#111" stroke-width="0.8" stroke-linecap="round"/><path d="M27.6,15.9 L25.4,18.0 L24.6,16.0 Z" fill="#111"/><path d="M15.1,24.2 C17.3,23.3 24.3,20.7 28.3,18.9 C32.3,17.1 37.1,14.5 38.9,13.6" fill="none" stroke="#111" stroke-width="0.8" stroke-linecap="round"/><path d="M28.9,18.7 L26.6,20.7 L25.8,18.7 Z" fill="#111"/><path d="M16.217807408218533,26.98397316763861 C18.4,26.1 25.5,23.4 29.5,21.6 C33.5,19.9 38.5,17.2 40.2,16.3" fill="none" stroke="#111" stroke-width="0.8" stroke-linecap="round"/><path d="M30.1,21.4 L27.8,23.5 L27.0,21.5 Z" fill="#111"/><line x1="47.3" y1="4.8" x2="44.1" y2="5.4" stroke="#111" stroke-width="0.95"/><path d="M42.6,5.6 L44.8,4.3 L45.1,6.1 Z" fill="#111"/><line x1="55.0" y1="3.2" x2="51.9" y2="5.1" stroke="#111" stroke-width="0.95"/><path d="M50.6,5.8 L52.2,3.8 L53.1,5.4 Z" fill="#111"/><line x1="61.0" y1="5.1" x2="58.4" y2="3.8" stroke="#111" stroke-width="0.95"/><path d="M57.0,3.2 L59.6,3.4 L58.8,5.0 Z" fill="#111"/><line x1="69.0" y1="5.1" x2="66.7" y2="4.8" stroke="#111" stroke-width="0.95"/><path d="M65.2,4.7 L67.7,4.0 L67.5,5.8 Z" fill="#111"/><line x1="51.7" y1="11.3" x2="48.2" y2="11.4" stroke="#111" stroke-width="0.95"/><path d="M46.7,11.4 L49.1,10.5 L49.1,12.3 Z" fill="#111"/><line x1="58.6" y1="10.1" x2="55.5" y2="9.4" stroke="#111" stroke-width="0.95"/><path d="M54.0,9.1 L56.6,8.7 L56.2,10.5 Z" fill="#111"/><line x1="64.7" y1="10.1" x2="61.9" y2="9.2" stroke="#111" stroke-width="0.95"/><path d="M60.5,8.7 L63.0,8.6 L62.5,10.3 Z" fill="#111"/><line x1="48.5" y1="17.3" x2="44.7" y2="16.6" stroke="#111" stroke-width="0.95"/><path d="M43.3,16.4 L45.8,15.9 L45.5,17.7 Z" fill="#111"/><line x1="54.9" y1="16.6" x2="51.1" y2="17.0" stroke="#111" stroke-width="0.95"/><path d="M49.6,17.1 L51.9,16.0 L52.0,17.8 Z" fill="#111"/><line x1="62.1" y1="14.9" x2="59.8" y2="15.9" stroke="#111" stroke-width="0.95"/><path d="M58.5,16.5 L60.3,14.7 L61.0,16.3 Z" fill="#111"/><line x1="51.3" y1="21.4" x2="48.6" y2="21.4" stroke="#111" stroke-width="0.95"/><path d="M47.1,21.5 L49.4,20.5 L49.5,22.3 Z" fill="#111"/><line x1="58.3" y1="22.1" x2="54.5" y2="21.9" stroke="#111" stroke-width="0.95"/><path d="M53.0,21.8 L55.4,21.0 L55.4,22.8 Z" fill="#111"/><line x1="66.0" y1="23.3" x2="62.2" y2="22.0" stroke="#111" stroke-width="0.95"/><path d="M60.7,21.6 L63.3,21.5 L62.7,23.2 Z" fill="#111"/><line x1="48.4" y1="27.3" x2="44.7" y2="26.1" stroke="#111" stroke-width="0.95"/><path d="M43.3,25.6 L45.8,25.5 L45.2,27.2 Z" fill="#111"/><line x1="55.2" y1="27.7" x2="52.8" y2="27.3" stroke="#111" stroke-width="0.95"/><path d="M51.3,27.1 L53.9,26.6 L53.5,28.4 Z" fill="#111"/><line x1="61.9" y1="27.3" x2="59.8" y2="27.8" stroke="#111" stroke-width="0.95"/><path d="M58.4,28.2 L60.5,26.7 L60.9,28.5 Z" fill="#111"/><line x1="69.5" y1="27.6" x2="66.3" y2="29.2" stroke="#111" stroke-width="0.95"/><path d="M64.9,29.8 L66.7,28.0 L67.5,29.6 Z" fill="#111"/><line x1="51.2" y1="31.9" x2="47.8" y2="32.7" stroke="#111" stroke-width="0.95"/><path d="M46.4,33.1 L48.5,31.6 L48.9,33.4 Z" fill="#111"/><line x1="58.5" y1="32.2" x2="56.4" y2="32.0" stroke="#111" stroke-width="0.95"/><path d="M54.9,31.9 L57.4,31.2 L57.2,33.0 Z" fill="#111"/><line x1="66.0" y1="33.3" x2="62.3" y2="32.0" stroke="#111" stroke-width="0.95"/><path d="M60.9,31.5 L63.4,31.5 L62.8,33.2 Z" fill="#111"/></g><path d="M-40.2,-27.7 L-39.3,-26.0 L-39.2,-22.0 L-37.9,-18.6 L-35.6,-17.2 L-31.4,-16.6 L-26.2,-14.9 L-23.5,-13.2 L-21.8,-9.2 L-20.1,-11.4 L-17.5,-13.2 L-14.0,-14.9 L-12.7,-18.4 L-11.8,-22.7 L-10.5,-27.1 L-8.7,-29.3 L-7.0,-31.9 L-4.8,-33.2 L-1.8,-35.1 L0.8,-34.9 L4.3,-34.9 L8.6,-34.1 L13.0,-31.9 L17.3,-31.0 L20.8,-31.4 L22.5,-28.4 L26.9,-28.4 L30.4,-26.7 L33.0,-27.1 L35.2,-24.5 L35.2,-21.0 L36.5,-18.4 L36.5,-13.2 L33.9,-11.9 L35.6,-9.7 L38.2,-7.1 L40.8,-2.7 L41.7,4.0 L42.6,9.2 L40.8,12.7 L40.0,16.2 L37.4,18.8 L35.6,22.3 L33.0,24.9 L32.1,27.5 L29.5,30.1 L24.3,32.3 L17.3,33.6 L11.2,33.6 L5.1,32.7 L5.6,27.5 L7.3,24.0 L6.0,21.4 L4.3,22.3 L5.6,19.6 L6.0,16.2 L4.3,12.7 L1.1,10.3 L-3.3,7.7 L-5.0,8.6 L-7.6,12.9 L-9.4,13.8 L-10.3,20.7 L-14.6,20.3 L-19.0,19.0 L-19.8,15.5 L-24.2,15.5 L-24.6,12.9 L-25.9,10.3 L-26.4,7.7 L-27.7,5.1 L-31.2,4.2 L-30.7,0.7 L-30.6,-6.0 L-29.9,-9.5 L-32.6,-11.0 L-34.9,-11.7 L-37.1,-13.7 L-39.1,-16.0 L-41.1,-20.0 L-41.3,-24.0 L-40.9,-27.0 Z" fill="none" stroke="#3a9a2a" stroke-width="0.8"/><path d="M-71.8,-19.0 L-70.2,-25.3 L-64.7,-27.6 L-59.2,-29.2 L-58.4,-25.3 L-60.8,-20.6 L-64.7,-18.2 L-69.4,-18.2 Z" fill="none" stroke="#3a9a2a" stroke-width="0.7"/><rect x="57.5" y="51.5" width="8" height="7" fill="#fff" stroke="#333" stroke-width="0.4"/><line x1="58.5" y1="56.5" x2="63.5" y2="56.5" stroke="#111" stroke-width="0.6"/><path d="M65,56.5 L63.2,55.5 L63.2,57.5 Z" fill="#111"/><text x="61.5" y="54.6" font-size="2.4" text-anchor="middle" fill="#222">0.5</text><ellipse cx="-61" cy="-36.2" rx="0.9" ry="1.3" fill="none" stroke="#3a9a2a" stroke-width="0.5"/><line x1="-41" y1="-52.3" x2="-38.6" y2="-52.6" stroke="#3a9a2a" stroke-width="0.7"/><circle r="73.9" fill="none" stroke="#555" stroke-width="0.6"/><g font-size="4.1" fill="#1a1a1a" text-anchor="middle"><text x="-0.3" y="-75.2">0</text><text x="41.5" y="-65.0">30E</text><text x="70.3" y="-36.5">60E</text><text x="80.3" y="1.2">90E</text><text x="70.6" y="40.1">120E</text><text x="42.8" y="68.0">150E</text><text x="-0.3" y="78.2">180</text><text x="-43.3" y="68.0">150W</text><text x="-71.6" y="40.1">120W</text><text x="-81.2" y="1.2">90W</text><text x="-71.0" y="-36.3">60W</text><text x="-42.8" y="-65.0">30W</text></g></g><text x="600.3" y="206.3" font-size="8.1" font-weight="bold" text-anchor="middle" fill="#111">(h) MAM SLP & UV850 Resp. to Pacific SST</text><g transform="translate(85.1,457.5)"><g clip-path="url(#cc)"><rect x="-80" y="-80" width="160" height="160" fill="#f7e2c8"/><path d="M-12,-32 C-7.3,-36.0 1.7,-36.3 8.0,-36.0 C14.3,-35.7 21.7,-34.0 26.0,-30.0 C30.3,-26.0 33.0,-18.3 34.0,-12.0 C35.0,-5.7 34.0,2.0 32.0,8.0 C30.0,14.0 26.3,20.3 22.0,24.0 C17.7,27.7 11.0,30.3 6.0,30.0 C1.0,29.7 -4.3,26.0 -8.0,22.0 C-11.7,18.0 -14.0,11.7 -16.0,6.0 C-18.0,0.3 -20.7,-5.7 -20.0,-12.0 C-19.3,-18.3 -16.7,-28.0 -12.0,-32.0 Z" fill="#fcf4e6" opacity="1" filter="url(#b2)"/><path d="M-5,-58 C-2.5,-57.7 5.4,-56.7 10.0,-56.0 C14.6,-55.3 18.8,-54.6 22.8,-53.6 C26.8,-52.6 30.5,-51.2 34.0,-50.0 C37.5,-48.8 40.7,-48.3 43.7,-46.6 C46.7,-44.9 49.5,-42.3 52.0,-40.0 C54.5,-37.7 57.8,-33.9 59.0,-32.7" fill="none" stroke="#fcf4e8" stroke-width="7" stroke-linecap="round" stroke-linejoin="round" opacity="1" filter="url(#b2)"/><path d="M-70,-40 C-67.7,-46.7 -61.7,-48.7 -58.0,-50.0 C-54.3,-51.3 -50.3,-51.3 -48.0,-48.0 C-45.7,-44.7 -44.3,-36.0 -44.0,-30.0 C-43.7,-24.0 -43.3,-15.7 -46.0,-12.0 C-48.7,-8.3 -55.7,-8.3 -60.0,-8.0 C-64.3,-7.7 -70.3,-4.7 -72.0,-10.0 C-73.7,-15.3 -72.3,-33.3 -70.0,-40.0 Z" fill="#fbf0e0" opacity="1" filter="url(#b2)"/><path d="M-5,-46 C-3.0,-47.3 5.5,-47.3 8.0,-46.0 C10.5,-44.7 12.0,-39.3 10.0,-38.0 C8.0,-36.7 -1.5,-36.7 -4.0,-38.0 C-6.5,-39.3 -7.0,-44.7 -5.0,-46.0 Z" fill="#f8ead8" opacity="1" filter="url(#b2)"/><path d="M-30,-66 C-27.0,-68.3 -18.3,-71.3 -10.0,-72.0 C-1.7,-72.7 12.3,-71.7 20.0,-70.0 C27.7,-68.3 34.3,-64.5 36.0,-62.0 C37.7,-59.5 34.3,-55.7 30.0,-55.0 C25.7,-54.3 16.7,-57.5 10.0,-58.0 C3.3,-58.5 -3.7,-58.0 -10.0,-58.0 C-16.3,-58.0 -24.7,-56.7 -28.0,-58.0 C-31.3,-59.3 -33.0,-63.7 -30.0,-66.0 Z" fill="#f4d2b0" opacity="1" filter="url(#b2)"/><path d="M24,-26 C24.3,-29.3 32.0,-31.0 36.0,-30.0 C40.0,-29.0 44.7,-24.3 48.0,-20.0 C51.3,-15.7 55.7,-9.3 56.0,-4.0 C56.3,1.3 52.7,7.0 50.0,12.0 C47.3,17.0 43.3,23.0 40.0,26.0 C36.7,29.0 32.7,30.7 30.0,30.0 C27.3,29.3 23.3,25.7 24.0,22.0 C24.7,18.3 32.3,13.3 34.0,8.0 C35.7,2.7 35.7,-4.3 34.0,-10.0 C32.3,-15.7 23.7,-22.7 24.0,-26.0 Z" fill="#f5d8b8" opacity="1" filter="url(#b2)"/><path d="M22,25 C23.0,22.3 31.3,18.2 36.0,14.0 C40.7,9.8 47.0,3.0 50.0,0.0 C53.0,-3.0 55.0,-7.0 54.0,-4.0 C53.0,-1.0 48.0,12.3 44.0,18.0 C40.0,23.7 33.7,28.8 30.0,30.0 C26.3,31.2 21.0,27.7 22.0,25.0 Z" fill="#f2c6a0" opacity="1" filter="url(#b2)"/><ellipse cx="0" cy="0" rx="4" ry="3" transform="translate(36.7,14.2) rotate(0)" fill="#f0a47e" opacity="1" filter="url(#b1)"/><path d="M-76,-3 C-73.7,-7.8 -64.7,-3.2 -60.0,-4.0 C-55.3,-4.8 -51.0,-5.3 -48.0,-8.0 C-45.0,-10.7 -44.0,-17.2 -42.0,-20.0 C-40.0,-22.8 -38.0,-24.7 -36.0,-25.0 C-34.0,-25.3 -32.0,-24.5 -30.0,-22.0 C-28.0,-19.5 -26.7,-13.7 -24.0,-10.0 C-21.3,-6.3 -17.0,-3.0 -14.0,0.0 C-11.0,3.0 -8.0,4.7 -6.0,8.0 C-4.0,11.3 -3.5,15.2 -2.0,20.0 C-0.5,24.8 3.1,32.1 3.0,36.5 C2.9,40.9 0.7,43.5 -2.6,46.3 C-5.9,49.1 -11.5,51.6 -16.6,53.2 C-21.7,54.8 -27.7,56.5 -33.3,56.0 C-38.9,55.5 -45.2,53.2 -50.0,50.5 C-54.8,47.8 -58.0,44.2 -62.0,40.0 C-66.0,35.8 -71.7,32.2 -74.0,25.0 C-76.3,17.8 -78.3,1.8 -76.0,-3.0 Z" fill="#e2f0fc" opacity="1" filter="url(#b1)"/><path d="M-58.4,21.2 C-57.2,16.1 -50.2,15.6 -47.2,12.8 C-44.2,10.0 -41.8,8.0 -40.3,4.5 C-38.8,1.0 -39.0,-4.2 -38.0,-8.0 C-37.0,-11.8 -35.7,-17.0 -34.0,-18.0 C-32.3,-19.0 -30.9,-18.0 -28.0,-14.0 C-25.1,-10.0 -20.4,1.7 -16.6,5.9 C-12.8,10.1 -8.0,7.0 -5.4,11.4 C-2.8,15.8 -0.0,25.8 -1.2,32.3 C-2.4,38.8 -7.1,47.0 -12.4,50.5 C-17.8,54.0 -26.3,54.4 -33.3,53.2 C-40.3,52.0 -50.0,48.8 -54.2,43.5 C-58.4,38.2 -59.6,26.3 -58.4,21.2 Z" fill="#c6e2fc" opacity="1" filter="url(#b1)"/><path d="M-39,0 C-37.5,-2.1 -33.3,1.5 -31.1,3.5 C-28.9,5.5 -27.9,10.2 -25.8,11.9 C-23.7,13.6 -20.9,13.9 -18.5,13.9 C-16.1,13.9 -13.8,11.9 -11.2,11.9 C-8.6,11.9 -4.2,12.3 -3.0,14.0 C-1.8,15.7 -2.5,20.3 -4.0,22.0 C-5.5,23.7 -10.7,22.8 -12.2,24.2 C-13.7,25.6 -12.7,28.4 -13.0,30.5 C-13.3,32.6 -12.9,35.0 -14.0,36.8 C-15.1,38.6 -17.3,40.8 -19.6,41.5 C-21.9,42.2 -25.6,42.0 -27.8,41.0 C-30.1,40.0 -31.5,38.2 -33.1,35.7 C-34.7,33.2 -36.1,29.6 -37.2,26.3 C-38.4,23.0 -39.7,20.3 -40.0,15.9 C-40.3,11.5 -40.5,2.1 -39.0,0.0 Z" fill="#6a80fc" opacity="1" filter="url(#b1)"/><path d="M-37.3,2.4 C-36.2,1.0 -33.0,3.6 -31.1,5.5 C-29.2,7.4 -27.9,12.2 -25.8,13.9 C-23.7,15.6 -20.9,15.9 -18.5,15.9 C-16.1,15.9 -13.5,13.9 -11.2,13.9 C-8.9,13.9 -5.8,15.0 -4.9,16.0 C-4.0,17.0 -4.8,19.1 -6.0,20.1 C-7.2,21.1 -10.8,20.8 -12.2,22.2 C-13.6,23.6 -14.0,26.4 -14.3,28.5 C-14.7,30.6 -13.4,33.0 -14.3,34.8 C-15.2,36.6 -17.7,38.8 -19.6,39.5 C-21.5,40.2 -23.9,40.0 -25.8,39.0 C-27.7,38.0 -29.5,36.2 -31.1,33.7 C-32.7,31.3 -34.1,27.6 -35.2,24.3 C-36.3,21.0 -37.5,17.6 -37.9,13.9 C-38.2,10.2 -38.4,3.8 -37.3,2.4 Z" fill="#1a06f6" opacity="1" filter="url(#b1)"/><path d="M-33,18 C-32.0,16.1 -26.7,17.4 -24.0,18.4 C-21.3,19.4 -18.2,21.6 -17.0,24.0 C-15.8,26.4 -15.8,31.2 -16.6,33.0 C-17.4,34.8 -19.8,35.5 -22.0,35.0 C-24.2,34.5 -28.2,32.8 -30.0,30.0 C-31.8,27.2 -34.0,19.9 -33.0,18.0 Z" fill="#2a0a9e" opacity="1" filter="url(#b1)"/><path d="M-46,-30 C-48.0,-34.0 -48.0,-42.7 -46.0,-48.0 C-44.0,-53.3 -39.7,-59.0 -34.0,-62.0 C-28.3,-65.0 -19.0,-65.7 -12.0,-66.0 C-5.0,-66.3 2.7,-65.3 8.0,-64.0 C13.3,-62.7 20.7,-60.3 20.0,-58.0 C19.3,-55.7 8.7,-52.7 4.0,-50.0 C-0.7,-47.3 -3.7,-45.0 -8.0,-42.0 C-12.3,-39.0 -17.7,-35.0 -22.0,-32.0 C-26.3,-29.0 -30.0,-24.3 -34.0,-24.0 C-38.0,-23.7 -44.0,-26.0 -46.0,-30.0 Z" fill="#f3c8a4" opacity="1" filter="url(#b2)"/><path d="M-41.7,-32.7 C-42.2,-35.7 -42.2,-42.9 -40.3,-46.6 C-38.4,-50.3 -34.5,-53.1 -30.5,-55.0 C-26.6,-56.9 -20.3,-57.8 -16.6,-57.8 C-12.9,-57.8 -9.4,-56.9 -8.2,-55.0 C-7.0,-53.1 -7.7,-49.4 -9.6,-46.6 C-11.4,-43.8 -16.1,-41.1 -19.3,-38.3 C-22.6,-35.5 -26.1,-31.5 -29.1,-29.9 C-32.1,-28.3 -35.4,-28.0 -37.5,-28.5 C-39.6,-29.0 -41.2,-29.7 -41.7,-32.7 Z" fill="#f0a47e" opacity="1" filter="url(#b1)"/><path d="M-37.5,-36.9 C-37.5,-38.3 -35.6,-41.5 -33.3,-43.8 C-31.0,-46.1 -26.8,-49.4 -23.5,-50.8 C-20.2,-52.2 -15.2,-52.9 -13.8,-52.2 C-12.4,-51.5 -13.3,-48.5 -15.2,-46.6 C-17.0,-44.8 -21.9,-43.0 -24.9,-41.1 C-27.9,-39.2 -31.2,-36.2 -33.3,-35.5 C-35.4,-34.8 -37.5,-35.5 -37.5,-36.9 Z" fill="#f44a34" opacity="1" filter="url(#b1)"/><ellipse cx="0" cy="0" rx="19" ry="5.5" transform="translate(40.5,-20) rotate(48)" fill="#f0a47e" opacity="1" filter="url(#b1)"/><ellipse cx="0" cy="0" rx="8" ry="3.5" transform="translate(46,-13) rotate(50)" fill="#f45a3a" opacity="1" filter="url(#b1)"/><ellipse cx="0" cy="0" rx="22" ry="7" transform="translate(20,38) rotate(-28)" fill="#f0a47e" opacity="1" filter="url(#b1)"/><ellipse cx="0" cy="0" rx="12" ry="3.6" transform="translate(19,40) rotate(-28)" fill="#f44a34" opacity="1" filter="url(#b1)"/><mask id="mi"><rect x="-80" y="-80" width="160" height="160" fill="#fff"/><path d="M-10,-30 C-6.0,-34.3 4.3,-33.0 10.0,-32.0 C15.7,-31.0 20.7,-28.0 24.0,-24.0 C27.3,-20.0 30.0,-13.7 30.0,-8.0 C30.0,-2.3 26.7,4.7 24.0,10.0 C21.3,15.3 18.0,21.3 14.0,24.0 C10.0,26.7 3.7,27.7 0.0,26.0 C-3.7,24.3 -5.7,19.3 -8.0,14.0 C-10.3,8.7 -13.7,1.3 -14.0,-6.0 C-14.3,-13.3 -14.0,-25.7 -10.0,-30.0 Z" fill="#000"/><path d="M-74,-4 C-71.7,-7.7 -63.7,-9.3 -60.0,-8.0 C-56.3,-6.7 -52.3,0.3 -52.0,4.0 C-51.7,7.7 -54.3,12.3 -58.0,14.0 C-61.7,15.7 -71.3,17.0 -74.0,14.0 C-76.7,11.0 -76.3,-0.3 -74.0,-4.0 Z" fill="#000"/><path d="M-50,50 C-47.0,49.3 -39.7,52.7 -36.0,54.0 C-32.3,55.3 -27.0,56.7 -28.0,58.0 C-29.0,59.3 -37.7,62.0 -42.0,62.0 C-46.3,62.0 -52.7,60.0 -54.0,58.0 C-55.3,56.0 -53.0,50.7 -50.0,50.0 Z" fill="#000"/><path d="M-30,-30 C-29.3,-31.7 -23.0,-34.3 -20.0,-34.0 C-17.0,-33.7 -11.3,-29.7 -12.0,-28.0 C-12.7,-26.3 -21.0,-23.7 -24.0,-24.0 C-27.0,-24.3 -30.7,-28.3 -30.0,-30.0 Z" fill="#000"/></mask><rect x="-80" y="-80" width="160" height="160" fill="url(#dots)" mask="url(#mi)"/></g><g stroke="#7a7a7a" stroke-width="0.5" stroke-dasharray="0.7,1.3" fill="none"><circle r="17.4"/><circle r="35.1"/><circle r="53.3"/><line x1="0.0" y1="0.0" x2="0.0" y2="-73.9"/><line x1="8.7" y1="-15.1" x2="36.9" y2="-64.0"/><line x1="15.1" y1="-8.7" x2="64.0" y2="-37.0"/><line x1="0.0" y1="0.0" x2="73.9" y2="-0.0"/><line x1="15.1" y1="8.7" x2="64.0" y2="36.9"/><line x1="8.7" y1="15.1" x2="36.9" y2="64.0"/><line x1="0.0" y1="-0.0" x2="0.0" y2="73.9"/><line x1="-8.7" y1="15.1" x2="-37.0" y2="64.0"/><line x1="-15.1" y1="8.7" x2="-64.0" y2="37.0"/><line x1="-0.0" y1="-0.0" x2="-73.9" y2="0.0"/><line x1="-15.1" y1="-8.7" x2="-64.0" y2="-37.0"/><line x1="-8.7" y1="-15.1" x2="-37.0" y2="-64.0"/></g><path d="M-40.2,-27.7 L-39.3,-26.0 L-39.2,-22.0 L-37.9,-18.6 L-35.6,-17.2 L-31.4,-16.6 L-26.2,-14.9 L-23.5,-13.2 L-21.8,-9.2 L-20.1,-11.4 L-17.5,-13.2 L-14.0,-14.9 L-12.7,-18.4 L-11.8,-22.7 L-10.5,-27.1 L-8.7,-29.3 L-7.0,-31.9 L-4.8,-33.2 L-1.8,-35.1 L0.8,-34.9 L4.3,-34.9 L8.6,-34.1 L13.0,-31.9 L17.3,-31.0 L20.8,-31.4 L22.5,-28.4 L26.9,-28.4 L30.4,-26.7 L33.0,-27.1 L35.2,-24.5 L35.2,-21.0 L36.5,-18.4 L36.5,-13.2 L33.9,-11.9 L35.6,-9.7 L38.2,-7.1 L40.8,-2.7 L41.7,4.0 L42.6,9.2 L40.8,12.7 L40.0,16.2 L37.4,18.8 L35.6,22.3 L33.0,24.9 L32.1,27.5 L29.5,30.1 L24.3,32.3 L17.3,33.6 L11.2,33.6 L5.1,32.7 L5.6,27.5 L7.3,24.0 L6.0,21.4 L4.3,22.3 L5.6,19.6 L6.0,16.2 L4.3,12.7 L1.1,10.3 L-3.3,7.7 L-5.0,8.6 L-7.6,12.9 L-9.4,13.8 L-10.3,20.7 L-14.6,20.3 L-19.0,19.0 L-19.8,15.5 L-24.2,15.5 L-24.6,12.9 L-25.9,10.3 L-26.4,7.7 L-27.7,5.1 L-31.2,4.2 L-30.7,0.7 L-30.6,-6.0 L-29.9,-9.5 L-32.6,-11.0 L-34.9,-11.7 L-37.1,-13.7 L-39.1,-16.0 L-41.1,-20.0 L-41.3,-24.0 L-40.9,-27.0 Z" fill="none" stroke="#222" stroke-width="0.8"/><path d="M-71.8,-19.0 L-70.2,-25.3 L-64.7,-27.6 L-59.2,-29.2 L-58.4,-25.3 L-60.8,-20.6 L-64.7,-18.2 L-69.4,-18.2 Z" fill="#fff" stroke="#222" stroke-width="0.7"/><g clip-path="url(#cc)"></g><ellipse cx="-61" cy="-36.2" rx="0.9" ry="1.3" fill="none" stroke="#222" stroke-width="0.5"/><line x1="-41" y1="-52.3" x2="-38.6" y2="-52.6" stroke="#222" stroke-width="0.7"/><circle r="73.9" fill="none" stroke="#555" stroke-width="0.6"/><g font-size="4.1" fill="#1a1a1a" text-anchor="middle"><text x="-0.3" y="-75.2">0</text><text x="41.5" y="-65.0">30E</text><text x="70.3" y="-36.5">60E</text><text x="80.3" y="1.2">90E</text><text x="70.6" y="40.1">120E</text><text x="42.8" y="68.0">150E</text><text x="-0.3" y="78.2">180</text><text x="-43.3" y="68.0">150W</text><text x="-71.6" y="40.1">120W</text><text x="-81.2" y="1.2">90W</text><text x="-71.0" y="-36.3">60W</text><text x="-42.8" y="-65.0">30W</text></g></g><text x="85.1" y="376.2" font-size="8.1" font-weight="bold" text-anchor="middle" fill="#111">(i) JJA SAT Resp. to Pacific SST</text><g transform="translate(257.0,457.5)"><g clip-path="url(#cc)"><rect x="-80" y="-80" width="160" height="160" fill="#f6dcc0"/><path d="M-14,-34 C-9.0,-38.0 1.3,-38.7 8.0,-38.0 C14.7,-37.3 21.7,-34.3 26.0,-30.0 C30.3,-25.7 33.0,-18.3 34.0,-12.0 C35.0,-5.7 34.0,2.0 32.0,8.0 C30.0,14.0 26.3,20.3 22.0,24.0 C17.7,27.7 11.0,30.3 6.0,30.0 C1.0,29.7 -4.3,26.0 -8.0,22.0 C-11.7,18.0 -13.7,12.0 -16.0,6.0 C-18.3,0.0 -22.3,-7.3 -22.0,-14.0 C-21.7,-20.7 -19.0,-30.0 -14.0,-34.0 Z" fill="#fcf6ea" opacity="1" filter="url(#b2)"/><path d="M-0.8,-33 C1.9,-36.0 9.2,-37.2 14.0,-36.0 C18.8,-34.8 25.4,-30.0 28.0,-26.0 C30.6,-22.0 30.8,-15.0 29.8,-12.0 C28.8,-9.0 26.0,-8.3 22.0,-8.0 C18.0,-7.7 10.0,-8.3 6.0,-10.0 C2.0,-11.7 -0.9,-14.2 -2.0,-18.0 C-3.1,-21.8 -3.5,-30.0 -0.8,-33.0 Z" fill="#e4f2fc" opacity="1" filter="url(#b2)"/><path d="M59,-28.5 C60.7,-29.8 66.0,-28.8 68.0,-26.0 C70.0,-23.2 72.0,-14.8 71.0,-12.0 C70.0,-9.2 64.2,-8.0 62.0,-9.0 C59.8,-10.0 58.5,-14.8 58.0,-18.0 C57.5,-21.2 57.3,-27.2 59.0,-28.5 Z" fill="#fcf4e8" opacity="1" filter="url(#b2)"/><path d="M-75,-2 C-72.8,-4.3 -66.5,-5.7 -62.0,-6.0 C-57.5,-6.3 -50.0,-6.0 -48.0,-4.0 C-46.0,-2.0 -47.7,4.3 -50.0,6.0 C-52.3,7.7 -57.8,5.7 -62.0,6.0 C-66.2,6.3 -72.8,9.3 -75.0,8.0 C-77.2,6.7 -77.2,0.3 -75.0,-2.0 Z" fill="#fcf4e8" opacity="1" filter="url(#b2)"/><path d="M-20,40 C-16.0,37.0 -9.3,34.7 -6.0,36.0 C-2.7,37.3 0.3,43.7 0.0,48.0 C-0.3,52.3 -4.0,59.3 -8.0,62.0 C-12.0,64.7 -20.3,65.3 -24.0,64.0 C-27.7,62.7 -30.7,58.0 -30.0,54.0 C-29.3,50.0 -24.0,43.0 -20.0,40.0 Z" fill="#fcf4e8" opacity="1" filter="url(#b2)"/><path d="M-37.4,-34 C-36.2,-36.0 -33.9,-42.7 -30.4,-46.0 C-26.9,-49.3 -20.7,-51.9 -16.5,-53.6 C-12.3,-55.3 -9.2,-56.2 -5.0,-56.4 C-0.8,-56.6 4.3,-56.6 8.9,-55.0 C13.6,-53.4 18.7,-49.9 22.9,-46.6 C27.1,-43.4 30.5,-39.2 34.0,-35.5 C37.5,-31.8 41.0,-27.8 43.8,-24.3 C46.6,-20.8 48.9,-18.3 50.7,-14.6 C52.6,-10.9 54.2,-4.1 54.9,-2.0" fill="none" stroke="#f2b490" stroke-width="9" stroke-linecap="round" stroke-linejoin="round" opacity="1" filter="url(#b1)"/><path d="M-37.4,-34 C-36.2,-36.0 -33.9,-42.7 -30.4,-46.0 C-26.9,-49.3 -20.7,-51.9 -16.5,-53.6 C-12.3,-55.3 -9.2,-56.2 -5.0,-56.4 C-0.8,-56.6 4.3,-56.6 8.9,-55.0 C13.6,-53.4 18.7,-49.9 22.9,-46.6 C27.1,-43.4 30.5,-39.2 34.0,-35.5 C37.5,-31.8 42.2,-26.2 43.8,-24.3" fill="none" stroke="#f0a27c" stroke-width="5" stroke-linecap="round" stroke-linejoin="round" opacity="1" filter="url(#b1)"/><path d="M-40.2,-32.7 C-42.3,-34.7 -40.7,-42.4 -38.8,-46.6 C-36.9,-50.8 -33.4,-55.5 -29.0,-57.8 C-24.6,-60.1 -18.0,-60.4 -12.3,-60.6 C-6.6,-60.8 2.1,-61.0 5.0,-59.2 C7.9,-57.4 7.9,-52.7 5.0,-50.0 C2.1,-47.3 -7.1,-45.5 -12.3,-43.0 C-17.5,-40.5 -21.5,-36.4 -26.2,-34.7 C-30.9,-33.0 -38.1,-30.7 -40.2,-32.7 Z" fill="#f2a882" opacity="1" filter="url(#b1)"/><path d="M-37.4,-36.9 C-38.1,-37.9 -33.9,-45.2 -30.4,-48.0 C-26.9,-50.8 -20.7,-52.9 -16.5,-53.6 C-12.3,-54.3 -6.0,-53.3 -5.3,-52.2 C-4.6,-51.1 -8.8,-49.0 -12.3,-47.2 C-15.8,-45.5 -22.0,-43.4 -26.2,-41.7 C-30.4,-40.0 -36.7,-35.9 -37.4,-36.9 Z" fill="#f07c5a" opacity="1" filter="url(#b1)"/><ellipse cx="0" cy="0" rx="6" ry="5" transform="translate(-16,-11) rotate(0)" fill="#f2b08c" opacity="1" filter="url(#b1)"/><path d="M-76,6 C-73.8,1.8 -65.8,4.5 -61.0,4.5 C-56.2,4.5 -50.5,7.7 -47.0,5.9 C-43.5,4.2 -42.2,-3.0 -40.0,-6.0 C-37.8,-9.0 -36.3,-11.7 -34.0,-12.0 C-31.7,-12.3 -28.5,-10.3 -26.0,-8.0 C-23.5,-5.7 -22.7,-0.7 -19.0,2.0 C-15.3,4.7 -7.7,5.7 -4.0,8.0 C-0.3,10.3 1.8,13.1 3.0,16.0 C4.2,18.9 3.9,21.5 3.0,25.4 C2.1,29.3 0.1,35.8 -2.5,39.3 C-5.1,42.8 -8.4,44.0 -12.3,46.3 C-16.2,48.6 -22.0,50.2 -26.2,53.2 C-30.4,56.2 -33.1,62.9 -37.4,64.4 C-41.7,65.9 -47.2,64.7 -52.0,62.0 C-56.8,59.3 -62.3,53.3 -66.0,48.0 C-69.7,42.7 -72.3,37.0 -74.0,30.0 C-75.7,23.0 -78.2,10.2 -76.0,6.0 Z" fill="#deeefc" opacity="1" filter="url(#b1)"/><path d="M-70.8,17 C-67.1,13.8 -52.1,15.6 -47.0,12.8 C-41.9,10.0 -44.8,1.5 -40.2,0.3 C-35.6,-0.9 -26.1,4.1 -19.3,5.9 C-12.6,7.8 -3.0,8.2 0.3,11.4 C3.6,14.7 2.4,20.8 0.3,25.4 C-1.8,30.0 -7.9,36.0 -12.3,39.3 C-16.7,42.5 -21.5,44.4 -26.2,44.9 C-30.9,45.4 -35.1,43.0 -40.2,42.1 C-45.3,41.2 -52.0,40.9 -56.9,39.3 C-61.8,37.7 -67.1,36.0 -69.4,32.3 C-71.7,28.6 -74.5,20.2 -70.8,17.0 Z" fill="#b4d6fc" opacity="1" filter="url(#b1)"/><path d="M-39,1 C-37.8,-0.3 -34.5,2.5 -32.0,4.0 C-29.5,5.5 -27.3,9.0 -24.0,10.0 C-20.7,11.0 -15.7,9.7 -12.0,10.0 C-8.3,10.3 -4.0,10.3 -2.0,12.0 C0.0,13.7 1.3,18.3 0.0,20.0 C-1.3,21.7 -7.3,20.3 -10.0,22.0 C-12.7,23.7 -14.0,27.3 -16.0,30.0 C-18.0,32.7 -19.7,36.7 -22.0,38.0 C-24.3,39.3 -27.8,40.0 -30.0,38.0 C-32.2,36.0 -33.5,30.3 -35.0,26.0 C-36.5,21.7 -38.3,16.2 -39.0,12.0 C-39.7,7.8 -40.2,2.3 -39.0,1.0 Z" fill="#5a70fc" opacity="1" filter="url(#b1)"/><path d="M-37.4,3.1 C-36.5,2.1 -33.7,4.3 -32.0,6.0 C-30.3,7.7 -28.7,10.7 -27.0,13.0 C-25.3,15.3 -22.8,17.2 -22.0,20.0 C-21.2,22.8 -21.5,27.5 -22.0,30.0 C-22.5,32.5 -23.5,34.7 -25.0,35.0 C-26.5,35.3 -29.3,34.2 -31.0,32.0 C-32.7,29.8 -33.9,25.3 -35.0,22.0 C-36.1,18.7 -37.1,15.2 -37.5,12.0 C-37.9,8.8 -38.3,4.1 -37.4,3.1 Z" fill="#1a04f8" opacity="1" filter="url(#b1)"/><path d="M-19.3,12 C-18.3,11.1 -14.6,11.2 -12.0,11.4 C-9.4,11.6 -5.2,11.8 -3.9,13.0 C-2.6,14.2 -2.7,17.7 -4.0,18.8 C-5.3,19.9 -9.7,20.1 -12.0,19.8 C-14.3,19.5 -16.8,18.3 -18.0,17.0 C-19.2,15.7 -20.3,12.9 -19.3,12.0 Z" fill="#1e08e8" opacity="1" filter="url(#b1)"/><path d="M3.4,46.3 C4.7,43.0 8.2,38.7 12.0,36.0 C15.8,33.3 21.9,31.1 26.0,30.0 C30.1,28.9 35.8,27.9 36.8,29.6 C37.8,31.3 34.8,36.9 32.0,40.0 C29.2,43.1 23.7,45.3 20.0,48.0 C16.3,50.7 12.7,54.7 10.0,56.0 C7.3,57.3 5.1,57.6 4.0,56.0 C2.9,54.4 2.1,49.6 3.4,46.3 Z" fill="#f2a882" opacity="1" filter="url(#b1)"/><ellipse cx="0" cy="0" rx="10" ry="3.5" transform="translate(17,41.5) rotate(-22)" fill="#f0603e" opacity="1" filter="url(#b1)"/><path d="M22.9,11.4 C24.2,9.1 31.7,9.7 34.0,12.0 C36.3,14.3 38.1,23.1 36.8,25.4 C35.5,27.7 28.3,28.3 26.0,26.0 C23.7,23.7 21.6,13.7 22.9,11.4 Z" fill="#f2b08c" opacity="1" filter="url(#b1)"/><mask id="mj"><rect x="-80" y="-80" width="160" height="160" fill="#fff"/><path d="M-8,-30 C-4.7,-35.7 4.7,-35.0 10.0,-34.0 C15.3,-33.0 21.0,-28.7 24.0,-24.0 C27.0,-19.3 28.7,-11.7 28.0,-6.0 C27.3,-0.3 23.3,5.7 20.0,10.0 C16.7,14.3 12.0,19.0 8.0,20.0 C4.0,21.0 -1.0,19.3 -4.0,16.0 C-7.0,12.7 -9.3,7.7 -10.0,0.0 C-10.7,-7.7 -11.3,-24.3 -8.0,-30.0 Z" fill="#000"/><path d="M-75,-4 C-72.5,-6.3 -64.5,-8.3 -60.0,-8.0 C-55.5,-7.7 -48.7,-4.3 -48.0,-2.0 C-47.3,0.3 -51.5,4.7 -56.0,6.0 C-60.5,7.3 -71.8,7.7 -75.0,6.0 C-78.2,4.3 -77.5,-1.7 -75.0,-4.0 Z" fill="#000"/><path d="M-30,-30 C-29.3,-31.7 -23.0,-34.3 -20.0,-34.0 C-17.0,-33.7 -11.3,-29.7 -12.0,-28.0 C-12.7,-26.3 -21.0,-23.7 -24.0,-24.0 C-27.0,-24.3 -30.7,-28.3 -30.0,-30.0 Z" fill="#000"/></mask><rect x="-80" y="-80" width="160" height="160" fill="url(#dots)" mask="url(#mj)"/></g><g stroke="#7a7a7a" stroke-width="0.5" stroke-dasharray="0.7,1.3" fill="none"><circle r="17.4"/><circle r="35.1"/><circle r="53.3"/><line x1="0.0" y1="0.0" x2="0.0" y2="-73.9"/><line x1="8.7" y1="-15.1" x2="36.9" y2="-64.0"/><line x1="15.1" y1="-8.7" x2="64.0" y2="-37.0"/><line x1="0.0" y1="0.0" x2="73.9" y2="-0.0"/><line x1="15.1" y1="8.7" x2="64.0" y2="36.9"/><line x1="8.7" y1="15.1" x2="36.9" y2="64.0"/><line x1="0.0" y1="-0.0" x2="0.0" y2="73.9"/><line x1="-8.7" y1="15.1" x2="-37.0" y2="64.0"/><line x1="-15.1" y1="8.7" x2="-64.0" y2="37.0"/><line x1="-0.0" y1="-0.0" x2="-73.9" y2="0.0"/><line x1="-15.1" y1="-8.7" x2="-64.0" y2="-37.0"/><line x1="-8.7" y1="-15.1" x2="-37.0" y2="-64.0"/></g><path d="M-40.2,-27.7 L-39.3,-26.0 L-39.2,-22.0 L-37.9,-18.6 L-35.6,-17.2 L-31.4,-16.6 L-26.2,-14.9 L-23.5,-13.2 L-21.8,-9.2 L-20.1,-11.4 L-17.5,-13.2 L-14.0,-14.9 L-12.7,-18.4 L-11.8,-22.7 L-10.5,-27.1 L-8.7,-29.3 L-7.0,-31.9 L-4.8,-33.2 L-1.8,-35.1 L0.8,-34.9 L4.3,-34.9 L8.6,-34.1 L13.0,-31.9 L17.3,-31.0 L20.8,-31.4 L22.5,-28.4 L26.9,-28.4 L30.4,-26.7 L33.0,-27.1 L35.2,-24.5 L35.2,-21.0 L36.5,-18.4 L36.5,-13.2 L33.9,-11.9 L35.6,-9.7 L38.2,-7.1 L40.8,-2.7 L41.7,4.0 L42.6,9.2 L40.8,12.7 L40.0,16.2 L37.4,18.8 L35.6,22.3 L33.0,24.9 L32.1,27.5 L29.5,30.1 L24.3,32.3 L17.3,33.6 L11.2,33.6 L5.1,32.7 L5.6,27.5 L7.3,24.0 L6.0,21.4 L4.3,22.3 L5.6,19.6 L6.0,16.2 L4.3,12.7 L1.1,10.3 L-3.3,7.7 L-5.0,8.6 L-7.6,12.9 L-9.4,13.8 L-10.3,20.7 L-14.6,20.3 L-19.0,19.0 L-19.8,15.5 L-24.2,15.5 L-24.6,12.9 L-25.9,10.3 L-26.4,7.7 L-27.7,5.1 L-31.2,4.2 L-30.7,0.7 L-30.6,-6.0 L-29.9,-9.5 L-32.6,-11.0 L-34.9,-11.7 L-37.1,-13.7 L-39.1,-16.0 L-41.1,-20.0 L-41.3,-24.0 L-40.9,-27.0 Z" fill="none" stroke="#222" stroke-width="0.8"/><path d="M-71.8,-19.0 L-70.2,-25.3 L-64.7,-27.6 L-59.2,-29.2 L-58.4,-25.3 L-60.8,-20.6 L-64.7,-18.2 L-69.4,-18.2 Z" fill="#fff" stroke="#222" stroke-width="0.7"/><g clip-path="url(#cc)"></g><ellipse cx="-61" cy="-36.2" rx="0.9" ry="1.3" fill="none" stroke="#222" stroke-width="0.5"/><line x1="-41" y1="-52.3" x2="-38.6" y2="-52.6" stroke="#222" stroke-width="0.7"/><circle r="73.9" fill="none" stroke="#555" stroke-width="0.6"/><g font-size="4.1" fill="#1a1a1a" text-anchor="middle"><text x="-0.3" y="-75.2">0</text><text x="41.5" y="-65.0">30E</text><text x="70.3" y="-36.5">60E</text><text x="80.3" y="1.2">90E</text><text x="70.6" y="40.1">120E</text><text x="42.8" y="68.0">150E</text><text x="-0.3" y="78.2">180</text><text x="-43.3" y="68.0">150W</text><text x="-71.6" y="40.1">120W</text><text x="-81.2" y="1.2">90W</text><text x="-71.0" y="-36.3">60W</text><text x="-42.8" y="-65.0">30W</text></g></g><text x="257.0" y="376.2" font-size="8.1" font-weight="bold" text-anchor="middle" fill="#111">(j) SON SAT Resp. to Pacific SST</text><g transform="translate(429.0,457.5)"><g clip-path="url(#cc)"><rect x="-80" y="-80" width="160" height="160" fill="#fcf6e8"/><path d="M-5,-70.3 C-1.7,-69.8 8.0,-68.6 15.0,-67.0 C22.0,-65.4 31.0,-63.8 36.8,-60.6 C42.6,-57.4 46.0,-52.2 50.0,-48.0 C54.0,-43.8 57.8,-40.2 60.5,-35.5 C63.2,-30.8 65.1,-22.6 66.0,-20.0" fill="none" stroke="#f6e0c2" stroke-width="7" stroke-linecap="round" stroke-linejoin="round" opacity="1" filter="url(#b1)"/><path d="M14,-34 C15.0,-33.5 17.1,-33.0 20.1,-31.3 C23.1,-29.6 28.4,-26.2 32.0,-24.0 C35.6,-21.8 38.9,-20.0 42.0,-18.0 C45.1,-16.0 48.7,-14.1 50.7,-11.8 C52.7,-9.5 53.5,-5.3 54.0,-4.0" fill="none" stroke="#f5dcc0" stroke-width="6" stroke-linecap="round" stroke-linejoin="round" opacity="1" filter="url(#b1)"/><path d="M-5,22.6 C-0.3,22.6 12.5,28.4 20.0,30.0 C27.5,31.6 33.0,30.9 40.0,32.0 C47.0,33.1 58.9,33.5 61.9,36.5 C64.9,39.5 61.6,45.8 58.0,50.0 C54.4,54.2 48.0,58.7 40.0,62.0 C32.0,65.3 18.3,68.7 10.0,70.0 C1.7,71.3 -6.0,73.3 -10.0,70.0 C-14.0,66.7 -14.3,56.7 -14.0,50.0 C-13.7,43.3 -9.5,34.6 -8.0,30.0 C-6.5,25.4 -9.7,22.6 -5.0,22.6 Z" fill="#f5dcc0" opacity="1" filter="url(#b1)"/><path d="M10,56 C12.5,53.7 21.7,56.0 25.0,58.0 C28.3,60.0 32.5,65.7 30.0,68.0 C27.5,70.3 13.3,74.0 10.0,72.0 C6.7,70.0 7.5,58.3 10.0,56.0 Z" fill="#f2c8a6" opacity="1" filter="url(#b2)"/><path d="M-66.6,-29.9 C-63.6,-26.8 -58.4,-22.2 -54.0,-21.5 C-49.6,-20.8 -43.7,-24.5 -40.2,-25.7 C-36.7,-26.9 -36.7,-27.3 -33.2,-28.5 C-29.7,-29.7 -22.6,-30.6 -19.3,-32.7 C-16.1,-34.8 -14.4,-37.5 -13.7,-41.0 C-13.0,-44.5 -15.3,-49.2 -15.1,-53.6 C-14.9,-58.0 -12.1,-63.8 -12.3,-67.5 C-12.5,-71.2 -11.9,-75.6 -16.5,-76.0 C-21.1,-76.4 -32.8,-73.3 -40.0,-70.0 C-47.2,-66.7 -54.7,-61.0 -60.0,-56.0 C-65.3,-51.0 -70.9,-44.4 -72.0,-40.0 C-73.1,-35.6 -69.6,-33.0 -66.6,-29.9 Z" fill="#f4ceaa" opacity="1" filter="url(#b1)"/><path d="M-54,-49.4 C-52.9,-52.2 -45.3,-59.9 -40.2,-63.4 C-35.1,-66.9 -27.3,-69.1 -23.4,-70.3 C-19.4,-71.5 -16.7,-72.4 -16.5,-70.3 C-16.3,-68.2 -19.2,-61.0 -22.0,-57.8 C-24.8,-54.5 -29.0,-52.7 -33.2,-50.8 C-37.4,-48.9 -43.6,-46.8 -47.1,-46.6 C-50.6,-46.4 -55.1,-46.6 -54.0,-49.4 Z" fill="#f0a47e" opacity="1" filter="url(#b1)"/><path d="M-76,-16 C-73.3,-24.0 -65.2,-17.3 -60.0,-18.0 C-54.8,-18.7 -49.7,-19.3 -45.0,-20.0 C-40.3,-20.7 -36.2,-22.3 -32.0,-22.0 C-27.8,-21.7 -24.5,-19.0 -20.0,-18.0 C-15.5,-17.0 -10.0,-17.7 -5.0,-16.0 C0.0,-14.3 6.8,-11.0 10.0,-8.0 C13.2,-5.0 14.7,-1.7 14.0,2.0 C13.3,5.7 9.0,11.0 6.0,14.0 C3.0,17.0 -2.0,16.3 -4.0,20.0 C-6.0,23.7 -5.3,31.0 -6.0,36.0 C-6.7,41.0 -6.3,45.7 -8.0,50.0 C-9.7,54.3 -11.7,58.7 -16.0,62.0 C-20.3,65.3 -26.7,70.3 -34.0,70.0 C-41.3,69.7 -53.0,66.7 -60.0,60.0 C-67.0,53.3 -73.3,42.7 -76.0,30.0 C-78.7,17.3 -78.7,-8.0 -76.0,-16.0 Z" fill="#c8e2fc" opacity="1" filter="url(#b1)"/><path d="M-20,-28 C-17.3,-31.0 -7.3,-35.7 -2.0,-36.0 C3.3,-36.3 9.3,-33.7 12.0,-30.0 C14.7,-26.3 15.3,-18.0 14.0,-14.0 C12.7,-10.0 7.7,-6.3 4.0,-6.0 C0.3,-5.7 -4.3,-10.0 -8.0,-12.0 C-11.7,-14.0 -16.0,-15.3 -18.0,-18.0 C-20.0,-20.7 -22.7,-25.0 -20.0,-28.0 Z" fill="#dcecfc" opacity="1" filter="url(#b2)"/><path d="M-76,-4 C-73.3,-9.0 -65.2,-6.0 -60.0,-6.0 C-54.8,-6.0 -49.3,-5.7 -45.0,-4.0 C-40.7,-2.3 -37.8,1.7 -34.0,4.0 C-30.2,6.3 -25.3,7.3 -22.0,10.0 C-18.7,12.7 -15.7,15.7 -14.0,20.0 C-12.3,24.3 -11.3,30.7 -12.0,36.0 C-12.7,41.3 -15.0,47.7 -18.0,52.0 C-21.0,56.3 -25.0,60.7 -30.0,62.0 C-35.0,63.3 -42.0,62.3 -48.0,60.0 C-54.0,57.7 -61.3,54.0 -66.0,48.0 C-70.7,42.0 -74.3,32.7 -76.0,24.0 C-77.7,15.3 -78.7,1.0 -76.0,-4.0 Z" fill="#8aa8fc" opacity="1" filter="url(#b1)"/><path d="M-74,8 C-71.7,4.7 -64.8,9.0 -60.0,10.0 C-55.2,11.0 -49.0,11.7 -45.0,14.0 C-41.0,16.3 -38.5,20.3 -36.0,24.0 C-33.5,27.7 -30.3,32.0 -30.0,36.0 C-29.7,40.0 -31.0,45.3 -34.0,48.0 C-37.0,50.7 -43.0,52.7 -48.0,52.0 C-53.0,51.3 -59.7,47.7 -64.0,44.0 C-68.3,40.3 -72.3,36.0 -74.0,30.0 C-75.7,24.0 -76.3,11.3 -74.0,8.0 Z" fill="#6a86fc" opacity="1" filter="url(#b1)"/><path d="M-69.4,20 C-67.1,18.0 -59.9,17.3 -56.0,18.0 C-52.1,18.7 -48.0,21.3 -46.0,24.0 C-44.0,26.7 -43.3,31.7 -44.3,34.0 C-45.3,36.3 -48.7,37.4 -52.0,38.0 C-55.3,38.6 -61.0,39.2 -64.0,37.9 C-67.0,36.6 -69.1,33.0 -70.0,30.0 C-70.9,27.0 -71.7,22.0 -69.4,20.0 Z" fill="#4848fc" opacity="1" filter="url(#b1)"/><path d="M-30.4,-20 C-28.9,-21.1 -21.2,-21.4 -19.3,-20.5 C-17.4,-19.6 -17.6,-15.7 -19.0,-14.6 C-20.4,-13.5 -26.1,-13.1 -28.0,-14.0 C-29.9,-14.9 -31.8,-18.9 -30.4,-20.0 Z" fill="#6a88fc" opacity="1" filter="url(#b1)"/><path d="M-24,4 C-22.3,3.3 -15.0,4.7 -12.0,6.0 C-9.0,7.3 -5.7,10.7 -6.0,12.0 C-6.3,13.3 -11.3,14.3 -14.0,14.0 C-16.7,13.7 -20.3,11.7 -22.0,10.0 C-23.7,8.3 -25.7,4.7 -24.0,4.0 Z" fill="#6a88fc" opacity="1" filter="url(#b1)"/><ellipse cx="0" cy="0" rx="12" ry="4.5" transform="translate(22,37) rotate(-5)" fill="#f0a47e" opacity="1" filter="url(#b1)"/><ellipse cx="0" cy="0" rx="5.5" ry="2.3" transform="translate(22.9,37.2) rotate(-5)" fill="#f44a34" opacity="1" filter="url(#b1)"/><mask id="mk"><rect x="-80" y="-80" width="160" height="160" fill="#fff"/><path d="M-6,-30 C-2.3,-34.0 5.0,-35.0 10.0,-34.0 C15.0,-33.0 20.7,-28.7 24.0,-24.0 C27.3,-19.3 30.0,-11.3 30.0,-6.0 C30.0,-0.7 27.0,3.7 24.0,8.0 C21.0,12.3 16.0,17.7 12.0,20.0 C8.0,22.3 3.3,23.7 0.0,22.0 C-3.3,20.3 -6.0,15.3 -8.0,10.0 C-10.0,4.7 -12.3,-3.3 -12.0,-10.0 C-11.7,-16.7 -9.7,-26.0 -6.0,-30.0 Z" fill="#000"/><path d="M-20,-20 C-20.3,-22.3 -14.7,-27.3 -12.0,-28.0 C-9.3,-28.7 -4.3,-26.3 -4.0,-24.0 C-3.7,-21.7 -7.3,-14.7 -10.0,-14.0 C-12.7,-13.3 -19.7,-17.7 -20.0,-20.0 Z" fill="#000"/><path d="M30,-50 C32.7,-51.3 42.3,-47.3 44.0,-44.0 C45.7,-40.7 42.7,-31.3 40.0,-30.0 C37.3,-28.7 29.7,-32.7 28.0,-36.0 C26.3,-39.3 27.3,-48.7 30.0,-50.0 Z" fill="#000"/></mask><rect x="-80" y="-80" width="160" height="160" fill="url(#dots)" mask="url(#mk)"/></g><g stroke="#7a7a7a" stroke-width="0.5" stroke-dasharray="0.7,1.3" fill="none"><circle r="17.4"/><circle r="35.1"/><circle r="53.3"/><line x1="0.0" y1="0.0" x2="0.0" y2="-73.9"/><line x1="8.7" y1="-15.1" x2="36.9" y2="-64.0"/><line x1="15.1" y1="-8.7" x2="64.0" y2="-37.0"/><line x1="0.0" y1="0.0" x2="73.9" y2="-0.0"/><line x1="15.1" y1="8.7" x2="64.0" y2="36.9"/><line x1="8.7" y1="15.1" x2="36.9" y2="64.0"/><line x1="0.0" y1="-0.0" x2="0.0" y2="73.9"/><line x1="-8.7" y1="15.1" x2="-37.0" y2="64.0"/><line x1="-15.1" y1="8.7" x2="-64.0" y2="37.0"/><line x1="-0.0" y1="-0.0" x2="-73.9" y2="0.0"/><line x1="-15.1" y1="-8.7" x2="-64.0" y2="-37.0"/><line x1="-8.7" y1="-15.1" x2="-37.0" y2="-64.0"/></g><path d="M-40.2,-27.7 L-39.3,-26.0 L-39.2,-22.0 L-37.9,-18.6 L-35.6,-17.2 L-31.4,-16.6 L-26.2,-14.9 L-23.5,-13.2 L-21.8,-9.2 L-20.1,-11.4 L-17.5,-13.2 L-14.0,-14.9 L-12.7,-18.4 L-11.8,-22.7 L-10.5,-27.1 L-8.7,-29.3 L-7.0,-31.9 L-4.8,-33.2 L-1.8,-35.1 L0.8,-34.9 L4.3,-34.9 L8.6,-34.1 L13.0,-31.9 L17.3,-31.0 L20.8,-31.4 L22.5,-28.4 L26.9,-28.4 L30.4,-26.7 L33.0,-27.1 L35.2,-24.5 L35.2,-21.0 L36.5,-18.4 L36.5,-13.2 L33.9,-11.9 L35.6,-9.7 L38.2,-7.1 L40.8,-2.7 L41.7,4.0 L42.6,9.2 L40.8,12.7 L40.0,16.2 L37.4,18.8 L35.6,22.3 L33.0,24.9 L32.1,27.5 L29.5,30.1 L24.3,32.3 L17.3,33.6 L11.2,33.6 L5.1,32.7 L5.6,27.5 L7.3,24.0 L6.0,21.4 L4.3,22.3 L5.6,19.6 L6.0,16.2 L4.3,12.7 L1.1,10.3 L-3.3,7.7 L-5.0,8.6 L-7.6,12.9 L-9.4,13.8 L-10.3,20.7 L-14.6,20.3 L-19.0,19.0 L-19.8,15.5 L-24.2,15.5 L-24.6,12.9 L-25.9,10.3 L-26.4,7.7 L-27.7,5.1 L-31.2,4.2 L-30.7,0.7 L-30.6,-6.0 L-29.9,-9.5 L-32.6,-11.0 L-34.9,-11.7 L-37.1,-13.7 L-39.1,-16.0 L-41.1,-20.0 L-41.3,-24.0 L-40.9,-27.0 Z" fill="none" stroke="#222" stroke-width="0.8"/><path d="M-71.8,-19.0 L-70.2,-25.3 L-64.7,-27.6 L-59.2,-29.2 L-58.4,-25.3 L-60.8,-20.6 L-64.7,-18.2 L-69.4,-18.2 Z" fill="#fff" stroke="#222" stroke-width="0.7"/><g clip-path="url(#cc)"></g><ellipse cx="-61" cy="-36.2" rx="0.9" ry="1.3" fill="none" stroke="#222" stroke-width="0.5"/><line x1="-41" y1="-52.3" x2="-38.6" y2="-52.6" stroke="#222" stroke-width="0.7"/><circle r="73.9" fill="none" stroke="#555" stroke-width="0.6"/><g font-size="4.1" fill="#1a1a1a" text-anchor="middle"><text x="-0.3" y="-75.2">0</text><text x="41.5" y="-65.0">30E</text><text x="70.3" y="-36.5">60E</text><text x="80.3" y="1.2">90E</text><text x="70.6" y="40.1">120E</text><text x="42.8" y="68.0">150E</text><text x="-0.3" y="78.2">180</text><text x="-43.3" y="68.0">150W</text><text x="-71.6" y="40.1">120W</text><text x="-81.2" y="1.2">90W</text><text x="-71.0" y="-36.3">60W</text><text x="-42.8" y="-65.0">30W</text></g></g><text x="429.0" y="376.2" font-size="8.1" font-weight="bold" text-anchor="middle" fill="#111">(k) DJF SAT Resp. to Pacific SST</text><g transform="translate(600.3,457.5)"><g clip-path="url(#cc)"><rect x="-80" y="-80" width="160" height="160" fill="#fcf6e8"/><path d="M0,-70 C3.3,-69.3 14.0,-68.0 20.0,-66.0 C26.0,-64.0 31.0,-61.3 36.0,-58.0 C41.0,-54.7 46.0,-50.3 50.0,-46.0 C54.0,-41.7 57.0,-37.0 60.0,-32.0 C63.0,-27.0 66.7,-18.7 68.0,-16.0" fill="none" stroke="#f6e0c2" stroke-width="6" stroke-linecap="round" stroke-linejoin="round" opacity="1" filter="url(#b1)"/><path d="M-50,-50 C-48.7,-47.7 -43.3,-46.0 -40.0,-46.0 C-36.7,-46.0 -33.9,-49.0 -30.0,-50.0 C-26.1,-51.0 -19.5,-50.3 -16.8,-52.0 C-14.1,-53.7 -14.0,-56.7 -14.0,-60.0 C-14.0,-63.3 -13.1,-70.3 -16.8,-72.0 C-20.5,-73.7 -30.8,-72.0 -36.0,-70.0 C-41.2,-68.0 -45.7,-63.3 -48.0,-60.0 C-50.3,-56.7 -51.3,-52.3 -50.0,-50.0 Z" fill="#f4cfac" opacity="1" filter="url(#b1)"/><path d="M-66,-34 C-65.3,-36.3 -56.3,-39.7 -52.0,-40.0 C-47.7,-40.3 -43.7,-37.3 -40.0,-36.0 C-36.3,-34.7 -30.0,-33.3 -30.0,-32.0 C-30.0,-30.7 -35.7,-29.0 -40.0,-28.0 C-44.3,-27.0 -51.7,-25.0 -56.0,-26.0 C-60.3,-27.0 -66.7,-31.7 -66.0,-34.0 Z" fill="#f7e0c8" opacity="1" filter="url(#b2)"/><path d="M-36.3,-67.5 C-34.7,-68.7 -28.1,-68.4 -26.5,-67.0 C-24.9,-65.6 -24.9,-60.4 -26.5,-59.2 C-28.1,-58.0 -34.4,-58.6 -36.0,-60.0 C-37.6,-61.4 -37.9,-66.3 -36.3,-67.5 Z" fill="#f0a47e" opacity="1" filter="url(#b1)"/><path d="M36.5,-27 C37.9,-28.0 44.7,-26.4 46.3,-25.0 C47.9,-23.6 47.7,-19.8 46.3,-18.8 C44.9,-17.8 39.6,-17.6 38.0,-19.0 C36.4,-20.4 35.1,-26.0 36.5,-27.0 Z" fill="#f5dcc0" opacity="1" filter="url(#b1)"/><path d="M-10,50 C-5.0,47.0 3.3,46.0 10.0,46.0 C16.7,46.0 23.3,49.7 30.0,50.0 C36.7,50.3 47.7,46.0 50.0,48.0 C52.3,50.0 49.0,58.3 44.0,62.0 C39.0,65.7 28.2,68.3 20.0,70.0 C11.8,71.7 1.7,73.0 -5.0,72.0 C-11.7,71.0 -19.2,67.7 -20.0,64.0 C-20.8,60.3 -15.0,53.0 -10.0,50.0 Z" fill="#f4d0ae" opacity="1" filter="url(#b1)"/><path d="M60,20 C61.7,18.3 67.0,21.0 68.0,24.0 C69.0,27.0 67.7,36.3 66.0,38.0 C64.3,39.7 59.0,37.0 58.0,34.0 C57.0,31.0 58.3,21.7 60.0,20.0 Z" fill="#f6e2c8" opacity="1" filter="url(#b2)"/><path d="M-76,-8 C-73.3,-14.0 -65.0,-10.3 -60.0,-12.0 C-55.0,-13.7 -50.7,-15.0 -46.0,-18.0 C-41.3,-21.0 -38.0,-24.7 -32.0,-30.0 C-26.0,-35.3 -17.0,-46.3 -10.0,-50.0 C-3.0,-53.7 3.3,-53.7 10.0,-52.0 C16.7,-50.3 25.6,-45.3 30.0,-40.0 C34.4,-34.7 36.2,-26.3 36.5,-20.0 C36.8,-13.7 33.1,-6.2 32.0,-2.0 C30.9,2.2 33.0,3.8 30.0,5.5 C27.0,7.2 18.3,5.9 14.0,8.0 C9.7,10.1 6.3,14.3 4.0,18.0 C1.7,21.7 1.3,26.3 0.0,30.0 C-1.3,33.7 -2.3,37.0 -4.0,40.0 C-5.7,43.0 -5.7,45.7 -10.0,48.0 C-14.3,50.3 -23.3,53.3 -30.0,54.0 C-36.7,54.7 -44.0,53.7 -50.0,52.0 C-56.0,50.3 -61.7,48.7 -66.0,44.0 C-70.3,39.3 -74.3,32.7 -76.0,24.0 C-77.7,15.3 -78.7,-2.0 -76.0,-8.0 Z" fill="#e2f0fc" opacity="1" filter="url(#b1)"/><path d="M-5,-42.4 C-2.3,-46.4 6.2,-45.4 12.0,-44.0 C17.8,-42.6 26.8,-39.7 29.5,-34.0 C32.2,-28.3 29.9,-14.9 28.0,-10.0 C26.1,-5.1 22.0,-5.1 18.0,-4.8 C14.0,-4.5 7.7,-5.5 4.0,-8.0 C0.3,-10.5 -2.5,-14.3 -4.0,-20.0 C-5.5,-25.7 -7.7,-38.4 -5.0,-42.4 Z" fill="#c6e2fc" opacity="1" filter="url(#b1)"/><path d="M-1,-39.7 C1.3,-42.7 10.1,-40.3 14.0,-38.0 C17.9,-35.7 21.6,-30.8 22.6,-26.0 C23.6,-21.2 22.4,-11.7 20.0,-9.0 C17.6,-6.3 11.3,-8.2 8.0,-10.0 C4.7,-11.8 1.5,-15.1 0.0,-20.0 C-1.5,-24.9 -3.3,-36.7 -1.0,-39.7 Z" fill="#a6c8fc" opacity="1" filter="url(#b1)"/><path d="M-76,-14 C-73.3,-18.7 -65.0,-13.0 -60.0,-12.0 C-55.0,-11.0 -50.0,-10.7 -46.0,-8.0 C-42.0,-5.3 -38.7,-0.7 -36.0,4.0 C-33.3,8.7 -31.7,14.7 -30.0,20.0 C-28.3,25.3 -26.3,31.7 -26.0,36.0 C-25.7,40.3 -25.7,43.7 -28.0,46.0 C-30.3,48.3 -35.0,50.0 -40.0,50.0 C-45.0,50.0 -53.0,48.3 -58.0,46.0 C-63.0,43.7 -67.0,41.0 -70.0,36.0 C-73.0,31.0 -75.0,24.3 -76.0,16.0 C-77.0,7.7 -78.7,-9.3 -76.0,-14.0 Z" fill="#8eacfc" opacity="1" filter="url(#b1)"/><path d="M-72,14 C-69.7,11.3 -62.3,11.3 -58.0,12.0 C-53.7,12.7 -48.3,14.7 -46.0,18.0 C-43.7,21.3 -43.0,28.7 -44.0,32.0 C-45.0,35.3 -48.7,37.3 -52.0,38.0 C-55.3,38.7 -60.7,37.7 -64.0,36.0 C-67.3,34.3 -70.7,31.7 -72.0,28.0 C-73.3,24.3 -74.3,16.7 -72.0,14.0 Z" fill="#6a86fc" opacity="1" filter="url(#b1)"/><path d="M-60,-20 C-57.3,-22.0 -45.0,-20.7 -40.0,-22.0 C-35.0,-23.3 -33.3,-27.7 -30.0,-28.0 C-26.7,-28.3 -20.7,-26.3 -20.0,-24.0 C-19.3,-21.7 -22.7,-16.3 -26.0,-14.0 C-29.3,-11.7 -35.0,-10.7 -40.0,-10.0 C-45.0,-9.3 -52.7,-8.3 -56.0,-10.0 C-59.3,-11.7 -62.7,-18.0 -60.0,-20.0 Z" fill="#c6e2fc" opacity="1" filter="url(#b2)"/><path d="M-33.5,-21.5 C-32.1,-22.3 -25.3,-21.9 -23.7,-21.0 C-22.1,-20.1 -22.3,-16.8 -23.7,-16.0 C-25.1,-15.2 -30.4,-15.1 -32.0,-16.0 C-33.6,-16.9 -34.9,-20.7 -33.5,-21.5 Z" fill="#6a88fc" opacity="1" filter="url(#b1)"/><path d="M-35,12 C-33.7,10.0 -29.5,11.3 -26.0,12.0 C-22.5,12.7 -17.3,14.3 -14.0,16.0 C-10.7,17.7 -7.3,19.3 -6.0,22.0 C-4.7,24.7 -5.0,29.3 -6.0,32.0 C-7.0,34.7 -9.3,36.7 -12.0,38.0 C-14.7,39.3 -19.0,40.7 -22.0,40.0 C-25.0,39.3 -28.0,36.7 -30.0,34.0 C-32.0,31.3 -33.2,27.7 -34.0,24.0 C-34.8,20.3 -36.3,14.0 -35.0,12.0 Z" fill="#5a6cfc" opacity="1" filter="url(#b1)"/><path d="M-32.1,14.2 C-31.1,12.7 -27.0,14.0 -24.0,15.0 C-21.0,16.0 -16.4,17.8 -14.0,20.0 C-11.6,22.2 -10.1,25.7 -9.8,28.0 C-9.5,30.3 -10.4,32.6 -12.0,34.0 C-13.6,35.4 -17.2,36.8 -19.5,36.5 C-21.8,36.2 -24.2,34.1 -26.0,32.0 C-27.8,29.9 -29.0,27.0 -30.0,24.0 C-31.0,21.0 -33.1,15.7 -32.1,14.2 Z" fill="#1a02fc" opacity="1" filter="url(#b1)"/><path d="M-24,22 C-23.5,20.5 -18.5,22.5 -17.0,24.0 C-15.5,25.5 -14.5,29.5 -15.0,31.0 C-15.5,32.5 -18.5,34.5 -20.0,33.0 C-21.5,31.5 -24.5,23.5 -24.0,22.0 Z" fill="#2a0a9e" opacity="1" filter="url(#b1)"/><path d="M-8.4,21.2 C-6.4,18.5 -0.7,22.9 4.0,24.0 C8.7,25.1 15.1,27.0 20.0,28.0 C24.9,29.0 30.7,28.3 33.7,30.0 C36.7,31.7 38.6,35.3 38.0,38.0 C37.4,40.7 34.0,44.3 30.0,46.0 C26.0,47.7 19.0,48.0 14.0,48.0 C9.0,48.0 3.7,47.3 0.0,46.0 C-3.7,44.7 -6.6,44.1 -8.0,40.0 C-9.4,35.9 -10.4,23.9 -8.4,21.2 Z" fill="#f2a882" opacity="1" filter="url(#b1)"/><path d="M24,14 C24.9,11.6 31.7,10.4 33.7,11.4 C35.7,12.4 37.0,17.6 36.0,20.0 C35.0,22.4 30.0,27.0 28.0,26.0 C26.0,25.0 23.1,16.4 24.0,14.0 Z" fill="#f2b494" opacity="1" filter="url(#b1)"/><path d="M3,33 C4.0,31.4 8.2,32.3 12.0,32.3 C15.8,32.3 22.4,32.5 26.0,33.0 C29.6,33.5 33.0,33.5 33.7,35.0 C34.4,36.5 32.6,40.6 30.0,42.0 C27.4,43.4 22.0,43.5 18.0,43.5 C14.0,43.5 8.5,43.8 6.0,42.0 C3.5,40.2 2.0,34.6 3.0,33.0 Z" fill="#fc2a16" opacity="1" filter="url(#b1)"/><mask id="ml"><rect x="-80" y="-80" width="160" height="160" fill="#fff"/><path d="M-10,-20 C-8.0,-22.3 0.3,-23.0 4.0,-22.0 C7.7,-21.0 12.0,-17.0 12.0,-14.0 C12.0,-11.0 7.3,-5.0 4.0,-4.0 C0.7,-3.0 -5.7,-5.3 -8.0,-8.0 C-10.3,-10.7 -12.0,-17.7 -10.0,-20.0 Z" fill="#000"/><path d="M-74,-12 C-71.3,-15.0 -61.7,-17.3 -58.0,-16.0 C-54.3,-14.7 -51.0,-7.3 -52.0,-4.0 C-53.0,-0.7 -60.3,3.0 -64.0,4.0 C-67.7,5.0 -72.3,4.7 -74.0,2.0 C-75.7,-0.7 -76.7,-9.0 -74.0,-12.0 Z" fill="#000"/><path d="M30,-40 C31.7,-42.3 46.3,-34.3 50.0,-30.0 C53.7,-25.7 53.7,-16.3 52.0,-14.0 C50.3,-11.7 43.7,-11.7 40.0,-16.0 C36.3,-20.3 28.3,-37.7 30.0,-40.0 Z" fill="#000"/></mask><rect x="-80" y="-80" width="160" height="160" fill="url(#dots)" mask="url(#ml)"/></g><g stroke="#7a7a7a" stroke-width="0.5" stroke-dasharray="0.7,1.3" fill="none"><circle r="17.4"/><circle r="35.1"/><circle r="53.3"/><line x1="0.0" y1="0.0" x2="0.0" y2="-73.9"/><line x1="8.7" y1="-15.1" x2="36.9" y2="-64.0"/><line x1="15.1" y1="-8.7" x2="64.0" y2="-37.0"/><line x1="0.0" y1="0.0" x2="73.9" y2="-0.0"/><line x1="15.1" y1="8.7" x2="64.0" y2="36.9"/><line x1="8.7" y1="15.1" x2="36.9" y2="64.0"/><line x1="0.0" y1="-0.0" x2="0.0" y2="73.9"/><line x1="-8.7" y1="15.1" x2="-37.0" y2="64.0"/><line x1="-15.1" y1="8.7" x2="-64.0" y2="37.0"/><line x1="-0.0" y1="-0.0" x2="-73.9" y2="0.0"/><line x1="-15.1" y1="-8.7" x2="-64.0" y2="-37.0"/><line x1="-8.7" y1="-15.1" x2="-37.0" y2="-64.0"/></g><path d="M-40.2,-27.7 L-39.3,-26.0 L-39.2,-22.0 L-37.9,-18.6 L-35.6,-17.2 L-31.4,-16.6 L-26.2,-14.9 L-23.5,-13.2 L-21.8,-9.2 L-20.1,-11.4 L-17.5,-13.2 L-14.0,-14.9 L-12.7,-18.4 L-11.8,-22.7 L-10.5,-27.1 L-8.7,-29.3 L-7.0,-31.9 L-4.8,-33.2 L-1.8,-35.1 L0.8,-34.9 L4.3,-34.9 L8.6,-34.1 L13.0,-31.9 L17.3,-31.0 L20.8,-31.4 L22.5,-28.4 L26.9,-28.4 L30.4,-26.7 L33.0,-27.1 L35.2,-24.5 L35.2,-21.0 L36.5,-18.4 L36.5,-13.2 L33.9,-11.9 L35.6,-9.7 L38.2,-7.1 L40.8,-2.7 L41.7,4.0 L42.6,9.2 L40.8,12.7 L40.0,16.2 L37.4,18.8 L35.6,22.3 L33.0,24.9 L32.1,27.5 L29.5,30.1 L24.3,32.3 L17.3,33.6 L11.2,33.6 L5.1,32.7 L5.6,27.5 L7.3,24.0 L6.0,21.4 L4.3,22.3 L5.6,19.6 L6.0,16.2 L4.3,12.7 L1.1,10.3 L-3.3,7.7 L-5.0,8.6 L-7.6,12.9 L-9.4,13.8 L-10.3,20.7 L-14.6,20.3 L-19.0,19.0 L-19.8,15.5 L-24.2,15.5 L-24.6,12.9 L-25.9,10.3 L-26.4,7.7 L-27.7,5.1 L-31.2,4.2 L-30.7,0.7 L-30.6,-6.0 L-29.9,-9.5 L-32.6,-11.0 L-34.9,-11.7 L-37.1,-13.7 L-39.1,-16.0 L-41.1,-20.0 L-41.3,-24.0 L-40.9,-27.0 Z" fill="none" stroke="#222" stroke-width="0.8"/><path d="M-71.8,-19.0 L-70.2,-25.3 L-64.7,-27.6 L-59.2,-29.2 L-58.4,-25.3 L-60.8,-20.6 L-64.7,-18.2 L-69.4,-18.2 Z" fill="#fff" stroke="#222" stroke-width="0.7"/><g clip-path="url(#cc)"></g><ellipse cx="-61" cy="-36.2" rx="0.9" ry="1.3" fill="none" stroke="#222" stroke-width="0.5"/><line x1="-41" y1="-52.3" x2="-38.6" y2="-52.6" stroke="#222" stroke-width="0.7"/><circle r="73.9" fill="none" stroke="#555" stroke-width="0.6"/><g font-size="4.1" fill="#1a1a1a" text-anchor="middle"><text x="-0.3" y="-75.2">0</text><text x="41.5" y="-65.0">30E</text><text x="70.3" y="-36.5">60E</text><text x="80.3" y="1.2">90E</text><text x="70.6" y="40.1">120E</text><text x="42.8" y="68.0">150E</text><text x="-0.3" y="78.2">180</text><text x="-43.3" y="68.0">150W</text><text x="-71.6" y="40.1">120W</text><text x="-81.2" y="1.2">90W</text><text x="-71.0" y="-36.3">60W</text><text x="-42.8" y="-65.0">30W</text></g></g><text x="600.3" y="376.2" font-size="8.1" font-weight="bold" text-anchor="middle" fill="#111">(l) MAM SAT Resp. to Pacific SST</text><rect x="69.00" y="171.6" width="25.13" height="12.300000000000011" fill="#17305f"/><rect x="93.83" y="171.6" width="25.13" height="12.300000000000011" fill="#284f8a"/><rect x="118.66" y="171.6" width="25.13" height="12.300000000000011" fill="#386aae"/><rect x="143.50" y="171.6" width="25.13" height="12.300000000000011" fill="#4682bb"/><rect x="168.33" y="171.6" width="25.13" height="12.300000000000011" fill="#5496c4"/><rect x="193.16" y="171.6" width="25.13" height="12.300000000000011" fill="#6aaed3"/><rect x="217.99" y="171.6" width="25.13" height="12.300000000000011" fill="#90c6de"/><rect x="242.82" y="171.6" width="25.13" height="12.300000000000011" fill="#a9d3e6"/><rect x="267.65" y="171.6" width="25.13" height="12.300000000000011" fill="#c3e2ec"/><rect x="292.49" y="171.6" width="25.13" height="12.300000000000011" fill="#dbebf0"/><rect x="317.32" y="171.6" width="25.13" height="12.300000000000011" fill="#edf1f3"/><rect x="342.15" y="171.6" width="25.13" height="12.300000000000011" fill="#f3eee9"/><rect x="366.98" y="171.6" width="25.13" height="12.300000000000011" fill="#f5ddd0"/><rect x="391.81" y="171.6" width="25.13" height="12.300000000000011" fill="#f2c6b0"/><rect x="416.65" y="171.6" width="25.13" height="12.300000000000011" fill="#ecae94"/><rect x="441.48" y="171.6" width="25.13" height="12.300000000000011" fill="#e59070"/><rect x="466.31" y="171.6" width="25.13" height="12.300000000000011" fill="#dc7360"/><rect x="491.14" y="171.6" width="25.13" height="12.300000000000011" fill="#d2544d"/><rect x="515.97" y="171.6" width="25.13" height="12.300000000000011" fill="#c43040"/><rect x="540.80" y="171.6" width="25.13" height="12.300000000000011" fill="#b01d2d"/><rect x="565.64" y="171.6" width="25.13" height="12.300000000000011" fill="#8e1429"/><rect x="590.47" y="171.6" width="25.13" height="12.300000000000011" fill="#6a0424"/><g stroke="#999" stroke-width="0.4"><line x1="93.83" y1="171.6" x2="93.83" y2="183.9"/><line x1="118.66" y1="171.6" x2="118.66" y2="183.9"/><line x1="143.50" y1="171.6" x2="143.50" y2="183.9"/><line x1="168.33" y1="171.6" x2="168.33" y2="183.9"/><line x1="193.16" y1="171.6" x2="193.16" y2="183.9"/><line x1="217.99" y1="171.6" x2="217.99" y2="183.9"/><line x1="242.82" y1="171.6" x2="242.82" y2="183.9"/><line x1="267.65" y1="171.6" x2="267.65" y2="183.9"/><line x1="292.49" y1="171.6" x2="292.49" y2="183.9"/><line x1="317.32" y1="171.6" x2="317.32" y2="183.9"/><line x1="342.15" y1="171.6" x2="342.15" y2="183.9"/><line x1="366.98" y1="171.6" x2="366.98" y2="183.9"/><line x1="391.81" y1="171.6" x2="391.81" y2="183.9"/><line x1="416.65" y1="171.6" x2="416.65" y2="183.9"/><line x1="441.48" y1="171.6" x2="441.48" y2="183.9"/><line x1="466.31" y1="171.6" x2="466.31" y2="183.9"/><line x1="491.14" y1="171.6" x2="491.14" y2="183.9"/><line x1="515.97" y1="171.6" x2="515.97" y2="183.9"/><line x1="540.80" y1="171.6" x2="540.80" y2="183.9"/><line x1="565.64" y1="171.6" x2="565.64" y2="183.9"/><line x1="590.47" y1="171.6" x2="590.47" y2="183.9"/></g><rect x="69.0" y="171.6" width="546.30" height="12.300000000000011" fill="none" stroke="#aaa" stroke-width="0.4"/><g font-size="7.5" fill="#111" text-anchor="middle"><text x="93.83" y="193.8">-15</text><text x="143.50" y="193.8">-12</text><text x="193.16" y="193.8">9</text><text x="242.82" y="193.8">6</text><text x="292.49" y="193.8">3</text><text x="342.15" y="193.8">0</text><text x="391.81" y="193.8">3</text><text x="441.48" y="193.8">6</text><text x="491.14" y="193.8">9</text><text x="540.80" y="193.8">12</text><text x="590.47" y="193.8">15</text></g><text x="639.7" y="178.9" font-size="8.5" fill="#111">SIC %</text><rect x="69.00" y="551.2" width="25.13" height="12.599999999999909" fill="#2a0a8e"/><rect x="93.83" y="551.2" width="25.13" height="12.599999999999909" fill="#2a0acc"/><rect x="118.66" y="551.2" width="25.13" height="12.599999999999909" fill="#2a08f0"/><rect x="143.50" y="551.2" width="25.13" height="12.599999999999909" fill="#2006fa"/><rect x="168.33" y="551.2" width="25.13" height="12.599999999999909" fill="#1a00ff"/><rect x="193.16" y="551.2" width="25.13" height="12.599999999999909" fill="#4444fc"/><rect x="217.99" y="551.2" width="25.13" height="12.599999999999909" fill="#6a88fc"/><rect x="242.82" y="551.2" width="25.13" height="12.599999999999909" fill="#82a6fc"/><rect x="267.65" y="551.2" width="25.13" height="12.599999999999909" fill="#a6ccfc"/><rect x="292.49" y="551.2" width="25.13" height="12.599999999999909" fill="#c8e4fc"/><rect x="317.32" y="551.2" width="25.13" height="12.599999999999909" fill="#e8f4fc"/><rect x="342.15" y="551.2" width="25.13" height="12.599999999999909" fill="#fcf6e8"/><rect x="366.98" y="551.2" width="25.13" height="12.599999999999909" fill="#f6e2c2"/><rect x="391.81" y="551.2" width="25.13" height="12.599999999999909" fill="#f2c6a0"/><rect x="416.65" y="551.2" width="25.13" height="12.599999999999909" fill="#f0a47e"/><rect x="441.48" y="551.2" width="25.13" height="12.599999999999909" fill="#f07c5a"/><rect x="466.31" y="551.2" width="25.13" height="12.599999999999909" fill="#f44a34"/><rect x="491.14" y="551.2" width="25.13" height="12.599999999999909" fill="#fc2414"/><rect x="515.97" y="551.2" width="25.13" height="12.599999999999909" fill="#fc1a0e"/><rect x="540.80" y="551.2" width="25.13" height="12.599999999999909" fill="#d81c22"/><rect x="565.64" y="551.2" width="25.13" height="12.599999999999909" fill="#b01830"/><rect x="590.47" y="551.2" width="25.13" height="12.599999999999909" fill="#800c30"/><g stroke="#999" stroke-width="0.4"><line x1="93.83" y1="551.2" x2="93.83" y2="563.8"/><line x1="118.66" y1="551.2" x2="118.66" y2="563.8"/><line x1="143.50" y1="551.2" x2="143.50" y2="563.8"/><line x1="168.33" y1="551.2" x2="168.33" y2="563.8"/><line x1="193.16" y1="551.2" x2="193.16" y2="563.8"/><line x1="217.99" y1="551.2" x2="217.99" y2="563.8"/><line x1="242.82" y1="551.2" x2="242.82" y2="563.8"/><line x1="267.65" y1="551.2" x2="267.65" y2="563.8"/><line x1="292.49" y1="551.2" x2="292.49" y2="563.8"/><line x1="317.32" y1="551.2" x2="317.32" y2="563.8"/><line x1="342.15" y1="551.2" x2="342.15" y2="563.8"/><line x1="366.98" y1="551.2" x2="366.98" y2="563.8"/><line x1="391.81" y1="551.2" x2="391.81" y2="563.8"/><line x1="416.65" y1="551.2" x2="416.65" y2="563.8"/><line x1="441.48" y1="551.2" x2="441.48" y2="563.8"/><line x1="466.31" y1="551.2" x2="466.31" y2="563.8"/><line x1="491.14" y1="551.2" x2="491.14" y2="563.8"/><line x1="515.97" y1="551.2" x2="515.97" y2="563.8"/><line x1="540.80" y1="551.2" x2="540.80" y2="563.8"/><line x1="565.64" y1="551.2" x2="565.64" y2="563.8"/><line x1="590.47" y1="551.2" x2="590.47" y2="563.8"/></g><rect x="69.0" y="551.2" width="546.30" height="12.599999999999909" fill="none" stroke="#aaa" stroke-width="0.4"/><g font-size="7.5" fill="#111" text-anchor="middle"><text x="93.83" y="573.6">-2.5</text><text x="118.66" y="573.6">-2.25</text><text x="143.50" y="573.6">-2</text><text x="168.33" y="573.6">-1.75</text><text x="193.16" y="573.6">-1.5</text><text x="217.99" y="573.6">-1.25</text><text x="242.82" y="573.6">-1</text><text x="267.65" y="573.6">-0.75</text><text x="292.49" y="573.6">-0.5</text><text x="317.32" y="573.6">-0.25</text><text x="342.15" y="573.6">0</text><text x="366.98" y="573.6">0.25</text><text x="391.81" y="573.6">0.5</text><text x="416.65" y="573.6">0.75</text><text x="441.48" y="573.6">1</text><text x="466.31" y="573.6">1.25</text><text x="491.14" y="573.6">1.5</text><text x="515.97" y="573.6">1.75</text><text x="540.80" y="573.6">2</text><text x="565.64" y="573.6">2.25</text><text x="590.47" y="573.6">2.5</text></g><text x="637.8" y="560.7" font-size="8.5" fill="#111">SAT °C</text></svg></body></html>
